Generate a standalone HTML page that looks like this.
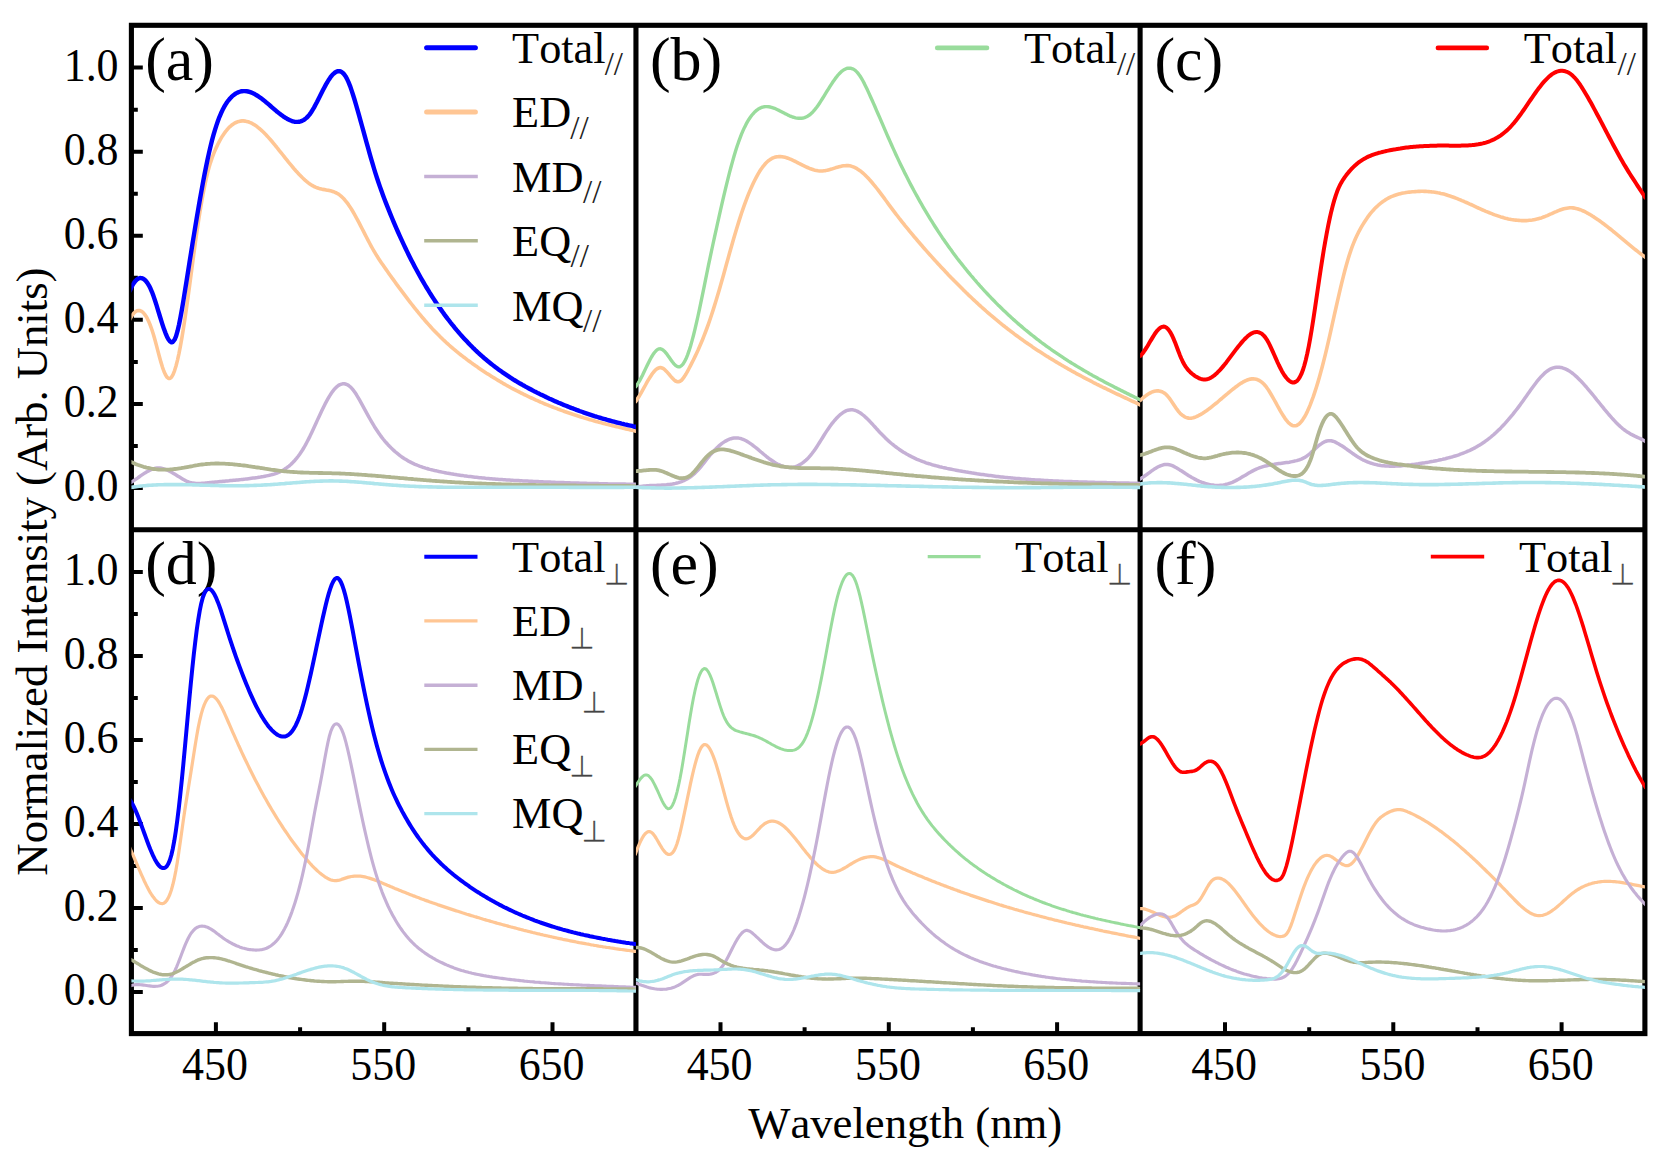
<!DOCTYPE html>
<html><head><meta charset="utf-8"><title>Multipole decomposition spectra</title>
<style>
html,body{margin:0;padding:0;background:#fff}
body{width:1665px;height:1173px;overflow:hidden}
svg{display:block;font-family:"Liberation Serif",serif;fill:#000;font-kerning:none}
.tk{font-size:46.4px}
.pl{font-size:62px}
.lg{font-size:44.3px}
.ax{font-size:44.7px}
.sp{font-size:33px;fill:#222}
.sq{font-size:31.3px;font-family:"Liberation Serif","NanumGothic","DejaVu Sans",serif;fill:#444;stroke:#444;stroke-width:0.5px}
.c{fill:none;stroke-linecap:butt;stroke-linejoin:round}
</style></head><body>
<svg width="1665" height="1173" viewBox="0 0 1665 1173">
<rect width="1665" height="1173" fill="#fff"/>

<clipPath id="cp00"><rect x="131.4" y="25.3" width="504.55000000000007" height="504.40000000000003"/></clipPath>
<clipPath id="cp01"><rect x="635.95" y="25.3" width="504.14999999999986" height="504.40000000000003"/></clipPath>
<clipPath id="cp02"><rect x="1140.1" y="25.3" width="504.8000000000002" height="504.40000000000003"/></clipPath>
<clipPath id="cp10"><rect x="131.4" y="529.7" width="504.55000000000007" height="503.89999999999986"/></clipPath>
<clipPath id="cp11"><rect x="635.95" y="529.7" width="504.14999999999986" height="503.89999999999986"/></clipPath>
<clipPath id="cp12"><rect x="1140.1" y="529.7" width="504.8000000000002" height="503.89999999999986"/></clipPath>
<text class="pl" x="145.2" y="79.6">(a)</text>
<text class="pl" x="649.9" y="79.6">(b)</text>
<text class="pl" x="1154.4" y="79.6">(c)</text>
<text class="pl" x="145.2" y="584.0">(d)</text>
<text class="pl" x="649.9" y="584.0">(e)</text>
<text class="pl" x="1154.4" y="584.0">(f)</text>
<g fill="none" stroke="#000" stroke-width="5.1">
<rect x="131.4" y="25.3" width="1513.5" height="1008.3"/>
<path d="M635.95,25.3V1033.6M1140.1,25.3V1033.6M131.4,529.7H1644.9"/>
</g>
<path d="M131.4,488.0h11.4M131.4,403.9h11.4M131.4,319.8h11.4M131.4,235.8h11.4M131.4,151.7h11.4M131.4,67.6h11.4M131.4,445.9h6.4M131.4,361.9h6.4M131.4,277.8h6.4M131.4,193.7h6.4M131.4,109.7h6.4M131.4,991.9h11.4M131.4,907.9h11.4M131.4,823.9h11.4M131.4,740.0h11.4M131.4,656.0h11.4M131.4,572.0h11.4M131.4,949.9h6.4M131.4,865.9h6.4M131.4,782.0h6.4M131.4,698.0h6.4M131.4,614.0h6.4M215.9,1033.6v-11.4M384.2,1033.6v-11.4M552.5,1033.6v-11.4M300.1,1033.6v-6.4M468.4,1033.6v-6.4M720.5,1033.6v-11.4M888.8,1033.6v-11.4M1057.1,1033.6v-11.4M804.6,1033.6v-6.4M972.9,1033.6v-6.4M1225.0,1033.6v-11.4M1393.3,1033.6v-11.4M1561.6,1033.6v-11.4M1309.2,1033.6v-6.4M1477.5,1033.6v-6.4" fill="none" stroke="#000" stroke-width="4.0"/>
<g clip-path="url(#cp00)">
<path class="c" d="M129.5,320.0 L131.0,317.2 L132.5,314.8 L134.0,313.0 L135.5,311.7 L137.0,310.8 L138.5,310.5 L140.0,310.6 L141.5,311.3 L143.0,312.4 L144.5,314.1 L146.0,316.2 L147.5,318.9 L149.0,322.1 L150.5,325.8 L152.0,330.0 L153.5,334.7 L155.0,340.0 L156.5,345.6 L158.0,351.4 L159.5,357.0 L161.0,362.4 L162.5,367.3 L164.0,371.5 L165.5,374.8 L167.0,377.2 L168.5,378.5 L170.0,378.5 L171.5,377.2 L173.0,374.6 L174.5,370.8 L176.0,366.0 L177.5,360.1 L179.0,353.3 L180.5,345.6 L182.0,337.1 L183.5,328.0 L185.0,318.2 L186.5,308.0 L188.0,297.2 L189.5,286.2 L191.0,274.9 L192.5,263.7 L194.0,252.5 L195.5,241.6 L197.0,231.1 L198.5,221.0 L200.0,211.5 L201.5,202.6 L203.0,194.3 L204.5,186.6 L206.0,179.6 L207.5,173.3 L209.0,167.6 L210.5,162.6 L212.0,158.1 L213.5,154.1 L215.0,150.4 L216.5,147.1 L218.0,144.0 L219.5,141.1 L221.0,138.4 L222.5,135.9 L224.0,133.7 L225.5,131.6 L227.0,129.8 L228.5,128.1 L230.0,126.6 L231.5,125.3 L233.0,124.2 L234.5,123.2 L236.0,122.5 L237.5,121.8 L239.0,121.4 L240.5,121.1 L242.0,120.9 L243.5,120.9 L245.0,121.1 L246.5,121.4 L248.0,121.8 L249.5,122.3 L251.0,122.9 L252.5,123.7 L254.0,124.6 L255.5,125.6 L257.0,126.6 L258.5,127.8 L260.0,129.0 L261.5,130.4 L263.0,131.8 L264.5,133.3 L266.0,134.8 L267.5,136.4 L269.0,138.1 L270.5,139.8 L272.0,141.5 L273.5,143.3 L275.0,145.2 L276.5,147.0 L278.0,148.9 L279.5,150.8 L281.0,152.6 L282.5,154.5 L284.0,156.4 L285.5,158.3 L287.0,160.2 L288.5,162.1 L290.0,163.9 L291.5,165.7 L293.0,167.5 L294.5,169.3 L296.0,171.0 L297.5,172.6 L299.0,174.3 L300.5,175.8 L302.0,177.3 L303.5,178.7 L305.0,180.1 L306.5,181.4 L308.0,182.6 L309.5,183.7 L311.0,184.7 L312.5,185.6 L314.0,186.5 L315.5,187.2 L317.0,187.8 L318.5,188.3 L320.0,188.7 L321.5,189.1 L323.0,189.4 L324.5,189.6 L326.0,189.9 L327.5,190.2 L329.0,190.4 L330.5,190.8 L332.0,191.2 L333.5,191.7 L335.0,192.3 L336.5,193.0 L338.0,193.8 L339.5,194.9 L341.0,196.1 L342.5,197.5 L344.0,199.0 L345.5,200.8 L347.0,202.7 L348.5,204.7 L350.0,206.9 L351.5,209.3 L353.0,211.8 L354.5,214.4 L356.0,217.1 L357.5,219.8 L359.0,222.7 L360.5,225.6 L362.0,228.5 L363.5,231.4 L365.0,234.3 L366.5,237.3 L368.0,240.2 L369.5,243.0 L371.0,245.8 L372.5,248.5 L374.0,251.1 L375.5,253.6 L377.0,256.1 L378.5,258.4 L380.0,260.7 L381.5,262.9 L383.0,265.1 L384.5,267.3 L386.0,269.4 L387.5,271.5 L389.0,273.7 L390.5,275.8 L392.0,277.9 L393.5,279.9 L395.0,282.0 L396.5,284.1 L398.0,286.1 L399.5,288.2 L401.0,290.2 L402.5,292.2 L404.0,294.2 L405.5,296.2 L407.0,298.2 L408.5,300.2 L410.0,302.1 L411.5,304.0 L413.0,305.9 L414.5,307.8 L416.0,309.7 L417.5,311.5 L419.0,313.4 L420.5,315.2 L422.0,317.0 L423.5,318.7 L425.0,320.5 L426.5,322.2 L428.0,323.9 L429.5,325.6 L431.0,327.2 L432.5,328.9 L434.0,330.4 L435.5,332.0 L437.0,333.6 L438.5,335.1 L440.0,336.6 L441.5,338.0 L443.0,339.5 L444.5,340.9 L446.0,342.3 L447.5,343.6 L449.0,345.0 L450.5,346.3 L452.0,347.6 L453.5,348.9 L455.0,350.1 L456.5,351.4 L458.0,352.6 L459.5,353.8 L461.0,355.0 L462.5,356.1 L464.0,357.3 L465.5,358.4 L467.0,359.6 L468.5,360.7 L470.0,361.8 L471.5,362.9 L473.0,364.0 L474.5,365.0 L476.0,366.1 L477.5,367.1 L479.0,368.2 L480.5,369.2 L482.0,370.2 L483.5,371.2 L485.0,372.2 L486.5,373.2 L488.0,374.1 L489.5,375.1 L491.0,376.1 L492.5,377.0 L494.0,377.9 L495.5,378.8 L497.0,379.7 L498.5,380.6 L500.0,381.5 L501.5,382.4 L503.0,383.3 L504.5,384.1 L506.0,385.0 L507.5,385.8 L509.0,386.7 L510.5,387.5 L512.0,388.3 L513.5,389.1 L515.0,389.9 L516.5,390.7 L518.0,391.4 L519.5,392.2 L521.0,393.0 L522.5,393.7 L524.0,394.5 L525.5,395.2 L527.0,395.9 L528.5,396.6 L530.0,397.3 L531.5,398.0 L533.0,398.7 L534.5,399.4 L536.0,400.1 L537.5,400.7 L539.0,401.4 L540.5,402.1 L542.0,402.7 L543.5,403.3 L545.0,404.0 L546.5,404.6 L548.0,405.2 L549.5,405.8 L551.0,406.4 L552.5,407.0 L554.0,407.6 L555.5,408.1 L557.0,408.7 L558.5,409.3 L560.0,409.8 L561.5,410.4 L563.0,410.9 L564.5,411.5 L566.0,412.0 L567.5,412.5 L569.0,413.0 L570.5,413.5 L572.0,414.0 L573.5,414.5 L575.0,415.0 L576.5,415.5 L578.0,416.0 L579.5,416.5 L581.0,417.0 L582.5,417.4 L584.0,417.9 L585.5,418.3 L587.0,418.8 L588.5,419.2 L590.0,419.7 L591.5,420.1 L593.0,420.5 L594.5,421.0 L596.0,421.4 L597.5,421.8 L599.0,422.2 L600.5,422.6 L602.0,423.0 L603.5,423.4 L605.0,423.8 L606.5,424.2 L608.0,424.6 L609.5,424.9 L611.0,425.3 L612.5,425.7 L614.0,426.1 L615.5,426.4 L617.0,426.8 L618.5,427.1 L620.0,427.5 L621.5,427.8 L623.0,428.2 L624.5,428.5 L626.0,428.9 L627.5,429.2 L629.0,429.5 L630.5,429.9 L632.0,430.2 L633.5,430.5 L635.0,430.9 L636.5,431.2 L637.3,431.3" stroke="#ffc694" stroke-width="3.6"/>
<path class="c" d="M130.0,483.0 L131.5,482.1 L133.0,481.1 L134.5,480.1 L136.0,479.1 L137.5,478.1 L139.0,477.0 L140.5,475.9 L142.0,474.9 L143.5,473.9 L145.0,472.9 L146.5,472.0 L148.0,471.2 L149.5,470.4 L151.0,469.7 L152.5,469.1 L154.0,468.7 L155.5,468.3 L157.0,468.1 L158.5,468.0 L160.0,468.1 L161.5,468.3 L163.0,468.6 L164.5,469.1 L166.0,469.6 L167.5,470.2 L169.0,470.9 L170.5,471.7 L172.0,472.5 L173.5,473.4 L175.0,474.3 L176.5,475.2 L178.0,476.2 L179.5,477.1 L181.0,478.0 L182.5,478.9 L184.0,479.8 L185.5,480.6 L187.0,481.3 L188.5,481.9 L190.0,482.4 L191.5,482.8 L193.0,483.1 L194.5,483.3 L196.0,483.5 L197.5,483.5 L199.0,483.5 L200.5,483.4 L202.0,483.3 L203.5,483.2 L205.0,483.1 L206.5,482.9 L208.0,482.7 L209.5,482.6 L211.0,482.4 L212.5,482.3 L214.0,482.2 L215.5,482.0 L217.0,481.9 L218.5,481.7 L220.0,481.6 L221.5,481.5 L223.0,481.3 L224.5,481.2 L226.0,481.0 L227.5,480.9 L229.0,480.8 L230.5,480.6 L232.0,480.5 L233.5,480.3 L235.0,480.2 L236.5,480.0 L238.0,479.9 L239.5,479.7 L241.0,479.6 L242.5,479.4 L244.0,479.2 L245.5,479.1 L247.0,478.9 L248.5,478.7 L250.0,478.5 L251.5,478.3 L253.0,478.1 L254.5,477.9 L256.0,477.7 L257.5,477.5 L259.0,477.2 L260.5,477.0 L262.0,476.7 L263.5,476.5 L265.0,476.2 L266.5,475.9 L268.0,475.6 L269.5,475.3 L271.0,474.9 L272.5,474.5 L274.0,474.1 L275.5,473.6 L277.0,473.1 L278.5,472.5 L280.0,471.8 L281.5,471.0 L283.0,470.2 L284.5,469.3 L286.0,468.3 L287.5,467.2 L289.0,466.1 L290.5,464.8 L292.0,463.4 L293.5,461.8 L295.0,460.2 L296.5,458.4 L298.0,456.5 L299.5,454.5 L301.0,452.3 L302.5,450.0 L304.0,447.5 L305.5,444.8 L307.0,442.0 L308.5,439.1 L310.0,436.1 L311.5,432.9 L313.0,429.7 L314.5,426.5 L316.0,423.2 L317.5,419.9 L319.0,416.7 L320.5,413.5 L322.0,410.3 L323.5,407.2 L325.0,404.2 L326.5,401.4 L328.0,398.7 L329.5,396.1 L331.0,393.8 L332.5,391.6 L334.0,389.7 L335.5,388.0 L337.0,386.6 L338.5,385.4 L340.0,384.6 L341.5,384.1 L343.0,383.8 L344.5,383.8 L346.0,384.2 L347.5,384.8 L349.0,385.8 L350.5,387.0 L352.0,388.6 L353.5,390.4 L355.0,392.5 L356.5,394.8 L358.0,397.3 L359.5,399.9 L361.0,402.6 L362.5,405.3 L364.0,408.1 L365.5,410.9 L367.0,413.6 L368.5,416.3 L370.0,419.0 L371.5,421.7 L373.0,424.2 L374.5,426.7 L376.0,429.0 L377.5,431.3 L379.0,433.5 L380.5,435.6 L382.0,437.6 L383.5,439.5 L385.0,441.3 L386.5,443.0 L388.0,444.7 L389.5,446.3 L391.0,447.8 L392.5,449.2 L394.0,450.6 L395.5,452.0 L397.0,453.2 L398.5,454.4 L400.0,455.6 L401.5,456.7 L403.0,457.7 L404.5,458.7 L406.0,459.6 L407.5,460.5 L409.0,461.4 L410.5,462.1 L412.0,462.9 L413.5,463.6 L415.0,464.3 L416.5,464.9 L418.0,465.5 L419.5,466.1 L421.0,466.6 L422.5,467.2 L424.0,467.6 L425.5,468.1 L427.0,468.5 L428.5,469.0 L430.0,469.4 L431.5,469.7 L433.0,470.1 L434.5,470.5 L436.0,470.8 L437.5,471.1 L439.0,471.5 L440.5,471.8 L442.0,472.1 L443.5,472.4 L445.0,472.7 L446.5,473.0 L448.0,473.2 L449.5,473.5 L451.0,473.8 L452.5,474.0 L454.0,474.3 L455.5,474.5 L457.0,474.8 L458.5,475.0 L460.0,475.2 L461.5,475.4 L463.0,475.6 L464.5,475.9 L466.0,476.1 L467.5,476.3 L469.0,476.4 L470.5,476.6 L472.0,476.8 L473.5,477.0 L475.0,477.2 L476.5,477.3 L478.0,477.5 L479.5,477.7 L481.0,477.8 L482.5,478.0 L484.0,478.1 L485.5,478.3 L487.0,478.4 L488.5,478.5 L490.0,478.7 L491.5,478.8 L493.0,478.9 L494.5,479.0 L496.0,479.2 L497.5,479.3 L499.0,479.4 L500.5,479.5 L502.0,479.6 L503.5,479.7 L505.0,479.8 L506.5,479.9 L508.0,480.0 L509.5,480.1 L511.0,480.2 L512.5,480.3 L514.0,480.4 L515.5,480.5 L517.0,480.6 L518.5,480.6 L520.0,480.7 L521.5,480.8 L523.0,480.9 L524.5,481.0 L526.0,481.0 L527.5,481.1 L529.0,481.2 L530.5,481.3 L532.0,481.3 L533.5,481.4 L535.0,481.5 L536.5,481.5 L538.0,481.6 L539.5,481.7 L541.0,481.7 L542.5,481.8 L544.0,481.9 L545.5,481.9 L547.0,482.0 L548.5,482.1 L550.0,482.1 L551.5,482.2 L553.0,482.2 L554.5,482.3 L556.0,482.4 L557.5,482.4 L559.0,482.5 L560.5,482.5 L562.0,482.6 L563.5,482.6 L565.0,482.7 L566.5,482.7 L568.0,482.8 L569.5,482.8 L571.0,482.9 L572.5,482.9 L574.0,483.0 L575.5,483.0 L577.0,483.1 L578.5,483.1 L580.0,483.2 L581.5,483.2 L583.0,483.3 L584.5,483.3 L586.0,483.3 L587.5,483.4 L589.0,483.4 L590.5,483.5 L592.0,483.5 L593.5,483.5 L595.0,483.6 L596.5,483.6 L598.0,483.6 L599.5,483.7 L601.0,483.7 L602.5,483.7 L604.0,483.8 L605.5,483.8 L607.0,483.8 L608.5,483.9 L610.0,483.9 L611.5,483.9 L613.0,483.9 L614.5,484.0 L616.0,484.0 L617.5,484.0 L619.0,484.1 L620.5,484.1 L622.0,484.1 L623.5,484.1 L625.0,484.1 L626.5,484.2 L628.0,484.2 L629.5,484.2 L631.0,484.2 L632.5,484.2 L634.0,484.3 L635.5,484.3 L637.0,484.3 L637.3,484.3" stroke="#c5b0d5" stroke-width="3.5"/>
<path class="c" d="M130.0,461.4 L131.5,462.1 L133.0,462.8 L134.5,463.5 L136.0,464.2 L137.5,464.8 L139.0,465.3 L140.5,465.8 L142.0,466.3 L143.5,466.8 L145.0,467.2 L146.5,467.6 L148.0,467.9 L149.5,468.2 L151.0,468.5 L152.5,468.8 L154.0,469.0 L155.5,469.2 L157.0,469.3 L158.5,469.5 L160.0,469.6 L161.5,469.6 L163.0,469.7 L164.5,469.7 L166.0,469.7 L167.5,469.6 L169.0,469.6 L170.5,469.5 L172.0,469.4 L173.5,469.2 L175.0,469.0 L176.5,468.8 L178.0,468.6 L179.5,468.4 L181.0,468.2 L182.5,467.9 L184.0,467.7 L185.5,467.4 L187.0,467.1 L188.5,466.8 L190.0,466.5 L191.5,466.3 L193.0,466.0 L194.5,465.7 L196.0,465.4 L197.5,465.2 L199.0,464.9 L200.5,464.7 L202.0,464.5 L203.5,464.3 L205.0,464.2 L206.5,464.0 L208.0,463.9 L209.5,463.8 L211.0,463.7 L212.5,463.6 L214.0,463.6 L215.5,463.5 L217.0,463.5 L218.5,463.5 L220.0,463.6 L221.5,463.6 L223.0,463.6 L224.5,463.7 L226.0,463.8 L227.5,463.9 L229.0,464.0 L230.5,464.1 L232.0,464.2 L233.5,464.3 L235.0,464.5 L236.5,464.6 L238.0,464.8 L239.5,465.0 L241.0,465.2 L242.5,465.3 L244.0,465.5 L245.5,465.7 L247.0,465.9 L248.5,466.2 L250.0,466.4 L251.5,466.6 L253.0,466.8 L254.5,467.0 L256.0,467.3 L257.5,467.5 L259.0,467.7 L260.5,468.0 L262.0,468.2 L263.5,468.4 L265.0,468.7 L266.5,468.9 L268.0,469.1 L269.5,469.3 L271.0,469.6 L272.5,469.8 L274.0,470.0 L275.5,470.2 L277.0,470.4 L278.5,470.6 L280.0,470.8 L281.5,470.9 L283.0,471.1 L284.5,471.3 L286.0,471.4 L287.5,471.6 L289.0,471.7 L290.5,471.8 L292.0,471.9 L293.5,472.0 L295.0,472.1 L296.5,472.2 L298.0,472.3 L299.5,472.4 L301.0,472.5 L302.5,472.5 L304.0,472.6 L305.5,472.6 L307.0,472.7 L308.5,472.7 L310.0,472.8 L311.5,472.8 L313.0,472.9 L314.5,472.9 L316.0,472.9 L317.5,472.9 L319.0,473.0 L320.5,473.0 L322.0,473.0 L323.5,473.1 L325.0,473.1 L326.5,473.1 L328.0,473.1 L329.5,473.2 L331.0,473.2 L332.5,473.3 L334.0,473.3 L335.5,473.3 L337.0,473.4 L338.5,473.4 L340.0,473.5 L341.5,473.6 L343.0,473.6 L344.5,473.7 L346.0,473.8 L347.5,473.9 L349.0,473.9 L350.5,474.0 L352.0,474.1 L353.5,474.2 L355.0,474.3 L356.5,474.4 L358.0,474.5 L359.5,474.6 L361.0,474.7 L362.5,474.8 L364.0,474.9 L365.5,475.0 L367.0,475.1 L368.5,475.3 L370.0,475.4 L371.5,475.5 L373.0,475.6 L374.5,475.7 L376.0,475.9 L377.5,476.0 L379.0,476.1 L380.5,476.2 L382.0,476.4 L383.5,476.5 L385.0,476.6 L386.5,476.8 L388.0,476.9 L389.5,477.0 L391.0,477.2 L392.5,477.3 L394.0,477.4 L395.5,477.6 L397.0,477.7 L398.5,477.8 L400.0,478.0 L401.5,478.1 L403.0,478.2 L404.5,478.4 L406.0,478.5 L407.5,478.7 L409.0,478.8 L410.5,478.9 L412.0,479.0 L413.5,479.2 L415.0,479.3 L416.5,479.4 L418.0,479.6 L419.5,479.7 L421.0,479.8 L422.5,479.9 L424.0,480.1 L425.5,480.2 L427.0,480.3 L428.5,480.4 L430.0,480.5 L431.5,480.7 L433.0,480.8 L434.5,480.9 L436.0,481.0 L437.5,481.1 L439.0,481.2 L440.5,481.3 L442.0,481.4 L443.5,481.5 L445.0,481.6 L446.5,481.7 L448.0,481.8 L449.5,481.9 L451.0,482.0 L452.5,482.1 L454.0,482.2 L455.5,482.3 L457.0,482.4 L458.5,482.4 L460.0,482.5 L461.5,482.6 L463.0,482.7 L464.5,482.8 L466.0,482.8 L467.5,482.9 L469.0,483.0 L470.5,483.1 L472.0,483.1 L473.5,483.2 L475.0,483.3 L476.5,483.3 L478.0,483.4 L479.5,483.5 L481.0,483.5 L482.5,483.6 L484.0,483.6 L485.5,483.7 L487.0,483.8 L488.5,483.8 L490.0,483.9 L491.5,483.9 L493.0,484.0 L494.5,484.0 L496.0,484.1 L497.5,484.1 L499.0,484.2 L500.5,484.2 L502.0,484.3 L503.5,484.3 L505.0,484.3 L506.5,484.4 L508.0,484.4 L509.5,484.5 L511.0,484.5 L512.5,484.6 L514.0,484.6 L515.5,484.6 L517.0,484.7 L518.5,484.7 L520.0,484.7 L521.5,484.8 L523.0,484.8 L524.5,484.8 L526.0,484.9 L527.5,484.9 L529.0,484.9 L530.5,484.9 L532.0,485.0 L533.5,485.0 L535.0,485.0 L536.5,485.1 L538.0,485.1 L539.5,485.1 L541.0,485.1 L542.5,485.1 L544.0,485.2 L545.5,485.2 L547.0,485.2 L548.5,485.2 L550.0,485.3 L551.5,485.3 L553.0,485.3 L554.5,485.3 L556.0,485.3 L557.5,485.4 L559.0,485.4 L560.5,485.4 L562.0,485.4 L563.5,485.4 L565.0,485.4 L566.5,485.5 L568.0,485.5 L569.5,485.5 L571.0,485.5 L572.5,485.5 L574.0,485.5 L575.5,485.5 L577.0,485.6 L578.5,485.6 L580.0,485.6 L581.5,485.6 L583.0,485.6 L584.5,485.6 L586.0,485.6 L587.5,485.6 L589.0,485.7 L590.5,485.7 L592.0,485.7 L593.5,485.7 L595.0,485.7 L596.5,485.7 L598.0,485.7 L599.5,485.7 L601.0,485.8 L602.5,485.8 L604.0,485.8 L605.5,485.8 L607.0,485.8 L608.5,485.8 L610.0,485.8 L611.5,485.9 L613.0,485.9 L614.5,485.9 L616.0,485.9 L617.5,485.9 L619.0,485.9 L620.5,485.9 L622.0,486.0 L623.5,486.0 L625.0,486.0 L626.5,486.0 L628.0,486.0 L629.5,486.0 L631.0,486.1 L632.5,486.1 L634.0,486.1 L635.5,486.1 L637.0,486.1 L637.3,486.1" stroke="#b0b590" stroke-width="3.8"/>
<path class="c" d="M130.0,487.5 L131.5,487.3 L133.0,487.1 L134.5,486.9 L136.0,486.7 L137.5,486.5 L139.0,486.3 L140.5,486.1 L142.0,486.0 L143.5,485.8 L145.0,485.7 L146.5,485.5 L148.0,485.4 L149.5,485.3 L151.0,485.2 L152.5,485.1 L154.0,485.0 L155.5,485.0 L157.0,484.9 L158.5,484.8 L160.0,484.8 L161.5,484.7 L163.0,484.7 L164.5,484.6 L166.0,484.6 L167.5,484.6 L169.0,484.6 L170.5,484.6 L172.0,484.6 L173.5,484.6 L175.0,484.6 L176.5,484.6 L178.0,484.6 L179.5,484.6 L181.0,484.6 L182.5,484.6 L184.0,484.7 L185.5,484.7 L187.0,484.7 L188.5,484.8 L190.0,484.8 L191.5,484.8 L193.0,484.9 L194.5,484.9 L196.0,485.0 L197.5,485.0 L199.0,485.0 L200.5,485.1 L202.0,485.1 L203.5,485.2 L205.0,485.2 L206.5,485.3 L208.0,485.3 L209.5,485.3 L211.0,485.4 L212.5,485.4 L214.0,485.5 L215.5,485.5 L217.0,485.5 L218.5,485.5 L220.0,485.6 L221.5,485.6 L223.0,485.6 L224.5,485.6 L226.0,485.7 L227.5,485.7 L229.0,485.7 L230.5,485.7 L232.0,485.7 L233.5,485.7 L235.0,485.7 L236.5,485.7 L238.0,485.7 L239.5,485.7 L241.0,485.7 L242.5,485.7 L244.0,485.7 L245.5,485.6 L247.0,485.6 L248.5,485.6 L250.0,485.5 L251.5,485.5 L253.0,485.5 L254.5,485.4 L256.0,485.4 L257.5,485.3 L259.0,485.2 L260.5,485.2 L262.0,485.1 L263.5,485.0 L265.0,484.9 L266.5,484.9 L268.0,484.8 L269.5,484.7 L271.0,484.6 L272.5,484.5 L274.0,484.4 L275.5,484.3 L277.0,484.2 L278.5,484.0 L280.0,483.9 L281.5,483.8 L283.0,483.7 L284.5,483.6 L286.0,483.4 L287.5,483.3 L289.0,483.2 L290.5,483.1 L292.0,483.0 L293.5,482.8 L295.0,482.7 L296.5,482.6 L298.0,482.5 L299.5,482.4 L301.0,482.2 L302.5,482.1 L304.0,482.0 L305.5,481.9 L307.0,481.8 L308.5,481.7 L310.0,481.6 L311.5,481.5 L313.0,481.5 L314.5,481.4 L316.0,481.3 L317.5,481.2 L319.0,481.2 L320.5,481.1 L322.0,481.1 L323.5,481.0 L325.0,481.0 L326.5,481.0 L328.0,481.0 L329.5,480.9 L331.0,480.9 L332.5,480.9 L334.0,481.0 L335.5,481.0 L337.0,481.0 L338.5,481.0 L340.0,481.1 L341.5,481.1 L343.0,481.2 L344.5,481.2 L346.0,481.3 L347.5,481.4 L349.0,481.5 L350.5,481.6 L352.0,481.7 L353.5,481.8 L355.0,481.9 L356.5,482.0 L358.0,482.1 L359.5,482.2 L361.0,482.3 L362.5,482.5 L364.0,482.6 L365.5,482.7 L367.0,482.9 L368.5,483.0 L370.0,483.1 L371.5,483.3 L373.0,483.4 L374.5,483.6 L376.0,483.7 L377.5,483.8 L379.0,484.0 L380.5,484.1 L382.0,484.3 L383.5,484.4 L385.0,484.5 L386.5,484.6 L388.0,484.8 L389.5,484.9 L391.0,485.0 L392.5,485.1 L394.0,485.2 L395.5,485.3 L397.0,485.4 L398.5,485.5 L400.0,485.6 L401.5,485.7 L403.0,485.8 L404.5,485.9 L406.0,486.0 L407.5,486.0 L409.0,486.1 L410.5,486.2 L412.0,486.3 L413.5,486.3 L415.0,486.4 L416.5,486.5 L418.0,486.5 L419.5,486.6 L421.0,486.6 L422.5,486.7 L424.0,486.7 L425.5,486.8 L427.0,486.8 L428.5,486.9 L430.0,486.9 L431.5,486.9 L433.0,487.0 L434.5,487.0 L436.0,487.0 L437.5,487.1 L439.0,487.1 L440.5,487.1 L442.0,487.1 L443.5,487.2 L445.0,487.2 L446.5,487.2 L448.0,487.2 L449.5,487.2 L451.0,487.2 L452.5,487.2 L454.0,487.3 L455.5,487.3 L457.0,487.3 L458.5,487.3 L460.0,487.3 L461.5,487.3 L463.0,487.3 L464.5,487.3 L466.0,487.3 L467.5,487.3 L469.0,487.3 L470.5,487.3 L472.0,487.3 L473.5,487.3 L475.0,487.3 L476.5,487.3 L478.0,487.3 L479.5,487.3 L481.0,487.3 L482.5,487.3 L484.0,487.3 L485.5,487.3 L487.0,487.2 L488.5,487.2 L490.0,487.2 L491.5,487.2 L493.0,487.2 L494.5,487.2 L496.0,487.2 L497.5,487.2 L499.0,487.2 L500.5,487.2 L502.0,487.2 L503.5,487.2 L505.0,487.2 L506.5,487.2 L508.0,487.2 L509.5,487.2 L511.0,487.2 L512.5,487.2 L514.0,487.2 L515.5,487.2 L517.0,487.2 L518.5,487.2 L520.0,487.2 L521.5,487.2 L523.0,487.2 L524.5,487.2 L526.0,487.2 L527.5,487.2 L529.0,487.2 L530.5,487.2 L532.0,487.2 L533.5,487.2 L535.0,487.2 L536.5,487.2 L538.0,487.2 L539.5,487.2 L541.0,487.2 L542.5,487.2 L544.0,487.2 L545.5,487.2 L547.0,487.2 L548.5,487.3 L550.0,487.3 L551.5,487.3 L553.0,487.3 L554.5,487.3 L556.0,487.3 L557.5,487.3 L559.0,487.3 L560.5,487.3 L562.0,487.3 L563.5,487.3 L565.0,487.3 L566.5,487.3 L568.0,487.3 L569.5,487.4 L571.0,487.4 L572.5,487.4 L574.0,487.4 L575.5,487.4 L577.0,487.4 L578.5,487.4 L580.0,487.4 L581.5,487.4 L583.0,487.4 L584.5,487.4 L586.0,487.4 L587.5,487.4 L589.0,487.4 L590.5,487.4 L592.0,487.4 L593.5,487.4 L595.0,487.4 L596.5,487.4 L598.0,487.4 L599.5,487.4 L601.0,487.4 L602.5,487.4 L604.0,487.4 L605.5,487.4 L607.0,487.4 L608.5,487.4 L610.0,487.4 L611.5,487.4 L613.0,487.4 L614.5,487.4 L616.0,487.4 L617.5,487.4 L619.0,487.4 L620.5,487.4 L622.0,487.4 L623.5,487.4 L625.0,487.3 L626.5,487.3 L628.0,487.3 L629.5,487.3 L631.0,487.3 L632.5,487.3 L634.0,487.3 L635.5,487.2 L637.0,487.2 L637.3,487.2" stroke="#aee5ec" stroke-width="3.6"/>
<path class="c" d="M129.5,291.5 L131.0,288.1 L132.5,285.2 L134.0,282.8 L135.5,280.9 L137.0,279.4 L138.5,278.5 L140.0,278.0 L141.5,278.1 L143.0,278.6 L144.5,279.6 L146.0,281.1 L147.5,283.1 L149.0,285.6 L150.5,288.6 L152.0,292.1 L153.5,296.1 L155.0,300.5 L156.5,305.2 L158.0,310.1 L159.5,315.0 L161.0,319.9 L162.5,324.6 L164.0,329.1 L165.5,333.1 L167.0,336.7 L168.5,339.5 L170.0,341.4 L171.5,342.3 L173.0,341.8 L174.5,339.8 L176.0,336.3 L177.5,331.2 L179.0,324.8 L180.5,317.3 L182.0,309.0 L183.5,300.0 L185.0,290.7 L186.5,281.3 L188.0,271.8 L189.5,262.4 L191.0,253.1 L192.5,243.7 L194.0,234.5 L195.5,225.4 L197.0,216.4 L198.5,207.6 L200.0,199.0 L201.5,190.6 L203.0,182.4 L204.5,174.5 L206.0,167.0 L207.5,159.7 L209.0,152.9 L210.5,146.4 L212.0,140.4 L213.5,134.9 L215.0,129.8 L216.5,125.1 L218.0,120.8 L219.5,116.8 L221.0,113.3 L222.5,110.1 L224.0,107.2 L225.5,104.6 L227.0,102.3 L228.5,100.3 L230.0,98.5 L231.5,96.9 L233.0,95.5 L234.5,94.4 L236.0,93.4 L237.5,92.6 L239.0,92.0 L240.5,91.5 L242.0,91.2 L243.5,91.1 L245.0,91.1 L246.5,91.2 L248.0,91.5 L249.5,91.9 L251.0,92.4 L252.5,93.0 L254.0,93.7 L255.5,94.6 L257.0,95.5 L258.5,96.4 L260.0,97.5 L261.5,98.6 L263.0,99.7 L264.5,100.9 L266.0,102.2 L267.5,103.4 L269.0,104.7 L270.5,106.0 L272.0,107.3 L273.5,108.6 L275.0,109.9 L276.5,111.2 L278.0,112.4 L279.5,113.6 L281.0,114.7 L282.5,115.8 L284.0,116.9 L285.5,117.8 L287.0,118.7 L288.5,119.5 L290.0,120.2 L291.5,120.8 L293.0,121.3 L294.5,121.7 L296.0,121.9 L297.5,121.9 L299.0,121.8 L300.5,121.4 L302.0,120.9 L303.5,120.1 L305.0,119.1 L306.5,117.9 L308.0,116.4 L309.5,114.6 L311.0,112.5 L312.5,110.1 L314.0,107.6 L315.5,104.8 L317.0,102.0 L318.5,99.0 L320.0,96.1 L321.5,93.1 L323.0,90.1 L324.5,87.2 L326.0,84.4 L327.5,81.8 L329.0,79.4 L330.5,77.2 L332.0,75.3 L333.5,73.8 L335.0,72.5 L336.5,71.7 L338.0,71.2 L339.5,71.2 L341.0,71.7 L342.5,72.6 L344.0,74.1 L345.5,76.2 L347.0,78.8 L348.5,82.1 L350.0,85.8 L351.5,90.1 L353.0,94.7 L354.5,99.5 L356.0,104.6 L357.5,109.8 L359.0,115.2 L360.5,120.6 L362.0,126.0 L363.5,131.4 L365.0,136.9 L366.5,142.3 L368.0,147.7 L369.5,153.1 L371.0,158.3 L372.5,163.4 L374.0,168.5 L375.5,173.3 L377.0,178.0 L378.5,182.5 L380.0,186.9 L381.5,191.1 L383.0,195.2 L384.5,199.2 L386.0,203.1 L387.5,206.9 L389.0,210.6 L390.5,214.3 L392.0,218.0 L393.5,221.6 L395.0,225.1 L396.5,228.6 L398.0,232.0 L399.5,235.4 L401.0,238.7 L402.5,241.9 L404.0,245.1 L405.5,248.3 L407.0,251.4 L408.5,254.5 L410.0,257.5 L411.5,260.4 L413.0,263.3 L414.5,266.2 L416.0,269.0 L417.5,271.8 L419.0,274.5 L420.5,277.2 L422.0,279.8 L423.5,282.4 L425.0,285.0 L426.5,287.5 L428.0,289.9 L429.5,292.4 L431.0,294.7 L432.5,297.1 L434.0,299.4 L435.5,301.7 L437.0,303.9 L438.5,306.1 L440.0,308.3 L441.5,310.4 L443.0,312.5 L444.5,314.6 L446.0,316.6 L447.5,318.6 L449.0,320.5 L450.5,322.5 L452.0,324.4 L453.5,326.2 L455.0,328.1 L456.5,329.9 L458.0,331.6 L459.5,333.4 L461.0,335.1 L462.5,336.8 L464.0,338.4 L465.5,340.0 L467.0,341.6 L468.5,343.2 L470.0,344.8 L471.5,346.3 L473.0,347.8 L474.5,349.2 L476.0,350.7 L477.5,352.1 L479.0,353.5 L480.5,354.8 L482.0,356.2 L483.5,357.5 L485.0,358.8 L486.5,360.0 L488.0,361.3 L489.5,362.5 L491.0,363.7 L492.5,364.9 L494.0,366.1 L495.5,367.2 L497.0,368.3 L498.5,369.4 L500.0,370.5 L501.5,371.6 L503.0,372.7 L504.5,373.7 L506.0,374.7 L507.5,375.7 L509.0,376.7 L510.5,377.7 L512.0,378.6 L513.5,379.6 L515.0,380.5 L516.5,381.4 L518.0,382.3 L519.5,383.2 L521.0,384.0 L522.5,384.9 L524.0,385.7 L525.5,386.6 L527.0,387.4 L528.5,388.2 L530.0,389.0 L531.5,389.8 L533.0,390.6 L534.5,391.4 L536.0,392.1 L537.5,392.9 L539.0,393.6 L540.5,394.4 L542.0,395.1 L543.5,395.8 L545.0,396.5 L546.5,397.3 L548.0,398.0 L549.5,398.7 L551.0,399.3 L552.5,400.0 L554.0,400.7 L555.5,401.4 L557.0,402.0 L558.5,402.7 L560.0,403.3 L561.5,403.9 L563.0,404.6 L564.5,405.2 L566.0,405.8 L567.5,406.4 L569.0,407.0 L570.5,407.6 L572.0,408.2 L573.5,408.7 L575.0,409.3 L576.5,409.9 L578.0,410.4 L579.5,411.0 L581.0,411.5 L582.5,412.0 L584.0,412.6 L585.5,413.1 L587.0,413.6 L588.5,414.1 L590.0,414.6 L591.5,415.1 L593.0,415.6 L594.5,416.1 L596.0,416.5 L597.5,417.0 L599.0,417.5 L600.5,417.9 L602.0,418.4 L603.5,418.8 L605.0,419.2 L606.5,419.7 L608.0,420.1 L609.5,420.5 L611.0,420.9 L612.5,421.3 L614.0,421.7 L615.5,422.1 L617.0,422.5 L618.5,422.8 L620.0,423.2 L621.5,423.6 L623.0,423.9 L624.5,424.3 L626.0,424.6 L627.5,425.0 L629.0,425.3 L630.5,425.6 L632.0,425.9 L633.5,426.3 L635.0,426.6 L636.5,426.9 L637.3,427.0" stroke="#0000ff" stroke-width="4.4"/>
</g>
<g clip-path="url(#cp01)">
<path class="c" d="M635.0,402.4 L636.5,400.4 L638.0,398.1 L639.5,395.7 L641.0,393.1 L642.5,390.4 L644.0,387.7 L645.5,385.0 L647.0,382.2 L648.5,379.6 L650.0,377.2 L651.5,374.9 L653.0,372.8 L654.5,371.0 L656.0,369.5 L657.5,368.5 L659.0,367.8 L660.5,367.6 L662.0,368.0 L663.5,368.7 L665.0,369.9 L666.5,371.4 L668.0,373.1 L669.5,374.8 L671.0,376.6 L672.5,378.3 L674.0,379.8 L675.5,381.0 L677.0,381.7 L678.5,381.8 L680.0,381.3 L681.5,380.2 L683.0,378.5 L684.5,376.4 L686.0,374.0 L687.5,371.3 L689.0,368.5 L690.5,365.6 L692.0,362.7 L693.5,359.7 L695.0,356.6 L696.5,353.4 L698.0,350.2 L699.5,346.8 L701.0,343.3 L702.5,339.7 L704.0,335.9 L705.5,332.0 L707.0,328.0 L708.5,323.8 L710.0,319.5 L711.5,315.0 L713.0,310.4 L714.5,305.6 L716.0,300.7 L717.5,295.8 L719.0,290.7 L720.5,285.5 L722.0,280.2 L723.5,274.9 L725.0,269.5 L726.5,264.1 L728.0,258.7 L729.5,253.3 L731.0,248.0 L732.5,242.7 L734.0,237.5 L735.5,232.4 L737.0,227.4 L738.5,222.6 L740.0,217.9 L741.5,213.3 L743.0,208.9 L744.5,204.7 L746.0,200.6 L747.5,196.7 L749.0,192.9 L750.5,189.4 L752.0,186.0 L753.5,182.7 L755.0,179.7 L756.5,176.8 L758.0,174.1 L759.5,171.6 L761.0,169.3 L762.5,167.2 L764.0,165.3 L765.5,163.5 L767.0,162.0 L768.5,160.7 L770.0,159.6 L771.5,158.7 L773.0,157.9 L774.5,157.3 L776.0,156.9 L777.5,156.7 L779.0,156.6 L780.5,156.6 L782.0,156.7 L783.5,157.0 L785.0,157.3 L786.5,157.7 L788.0,158.2 L789.5,158.8 L791.0,159.4 L792.5,160.1 L794.0,160.8 L795.5,161.5 L797.0,162.3 L798.5,163.1 L800.0,163.8 L801.5,164.6 L803.0,165.4 L804.5,166.1 L806.0,166.8 L807.5,167.5 L809.0,168.2 L810.5,168.8 L812.0,169.3 L813.5,169.8 L815.0,170.2 L816.5,170.5 L818.0,170.8 L819.5,171.0 L821.0,171.0 L822.5,171.0 L824.0,170.8 L825.5,170.6 L827.0,170.3 L828.5,169.9 L830.0,169.5 L831.5,169.1 L833.0,168.6 L834.5,168.1 L836.0,167.6 L837.5,167.2 L839.0,166.8 L840.5,166.4 L842.0,166.1 L843.5,165.8 L845.0,165.7 L846.5,165.6 L848.0,165.6 L849.5,165.8 L851.0,166.1 L852.5,166.6 L854.0,167.2 L855.5,167.9 L857.0,168.7 L858.5,169.7 L860.0,170.7 L861.5,171.9 L863.0,173.2 L864.5,174.5 L866.0,176.0 L867.5,177.5 L869.0,179.1 L870.5,180.8 L872.0,182.5 L873.5,184.3 L875.0,186.1 L876.5,188.0 L878.0,189.9 L879.5,191.9 L881.0,193.9 L882.5,195.9 L884.0,197.9 L885.5,200.0 L887.0,202.0 L888.5,204.1 L890.0,206.1 L891.5,208.1 L893.0,210.1 L894.5,212.1 L896.0,214.1 L897.5,216.0 L899.0,218.0 L900.5,219.9 L902.0,221.8 L903.5,223.7 L905.0,225.6 L906.5,227.4 L908.0,229.2 L909.5,231.1 L911.0,232.9 L912.5,234.7 L914.0,236.5 L915.5,238.2 L917.0,240.0 L918.5,241.8 L920.0,243.5 L921.5,245.2 L923.0,247.0 L924.5,248.7 L926.0,250.4 L927.5,252.1 L929.0,253.8 L930.5,255.4 L932.0,257.1 L933.5,258.8 L935.0,260.4 L936.5,262.1 L938.0,263.7 L939.5,265.3 L941.0,266.9 L942.5,268.5 L944.0,270.1 L945.5,271.7 L947.0,273.3 L948.5,274.9 L950.0,276.4 L951.5,278.0 L953.0,279.5 L954.5,281.1 L956.0,282.6 L957.5,284.1 L959.0,285.6 L960.5,287.1 L962.0,288.6 L963.5,290.1 L965.0,291.5 L966.5,293.0 L968.0,294.4 L969.5,295.9 L971.0,297.3 L972.5,298.7 L974.0,300.1 L975.5,301.5 L977.0,302.9 L978.5,304.3 L980.0,305.6 L981.5,307.0 L983.0,308.3 L984.5,309.6 L986.0,311.0 L987.5,312.3 L989.0,313.6 L990.5,314.9 L992.0,316.1 L993.5,317.4 L995.0,318.7 L996.5,319.9 L998.0,321.1 L999.5,322.4 L1001.0,323.6 L1002.5,324.8 L1004.0,326.0 L1005.5,327.2 L1007.0,328.3 L1008.5,329.5 L1010.0,330.6 L1011.5,331.8 L1013.0,332.9 L1014.5,334.1 L1016.0,335.2 L1017.5,336.3 L1019.0,337.4 L1020.5,338.5 L1022.0,339.5 L1023.5,340.6 L1025.0,341.7 L1026.5,342.7 L1028.0,343.8 L1029.5,344.8 L1031.0,345.8 L1032.5,346.9 L1034.0,347.9 L1035.5,348.9 L1037.0,349.9 L1038.5,350.9 L1040.0,351.8 L1041.5,352.8 L1043.0,353.8 L1044.5,354.7 L1046.0,355.7 L1047.5,356.6 L1049.0,357.6 L1050.5,358.5 L1052.0,359.4 L1053.5,360.3 L1055.0,361.2 L1056.5,362.1 L1058.0,363.0 L1059.5,363.9 L1061.0,364.8 L1062.5,365.7 L1064.0,366.5 L1065.5,367.4 L1067.0,368.2 L1068.5,369.1 L1070.0,369.9 L1071.5,370.8 L1073.0,371.6 L1074.5,372.4 L1076.0,373.3 L1077.5,374.1 L1079.0,374.9 L1080.5,375.7 L1082.0,376.5 L1083.5,377.3 L1085.0,378.1 L1086.5,378.9 L1088.0,379.7 L1089.5,380.4 L1091.0,381.2 L1092.5,382.0 L1094.0,382.8 L1095.5,383.5 L1097.0,384.3 L1098.5,385.0 L1100.0,385.8 L1101.5,386.5 L1103.0,387.3 L1104.5,388.0 L1106.0,388.7 L1107.5,389.5 L1109.0,390.2 L1110.5,390.9 L1112.0,391.7 L1113.5,392.4 L1115.0,393.1 L1116.5,393.8 L1118.0,394.5 L1119.5,395.2 L1121.0,395.9 L1122.5,396.6 L1124.0,397.3 L1125.5,398.0 L1127.0,398.7 L1128.5,399.4 L1130.0,400.1 L1131.5,400.8 L1133.0,401.5 L1134.5,402.2 L1136.0,402.9 L1137.5,403.6 L1139.0,404.3 L1140.5,405.0 L1142.0,405.6" stroke="#ffc694" stroke-width="3.6"/>
<path class="c" d="M635.0,487.5 L636.5,487.2 L638.0,486.9 L639.5,486.6 L641.0,486.4 L642.5,486.2 L644.0,486.0 L645.5,485.9 L647.0,485.8 L648.5,485.7 L650.0,485.6 L651.5,485.5 L653.0,485.5 L654.5,485.4 L656.0,485.4 L657.5,485.3 L659.0,485.2 L660.5,485.2 L662.0,485.1 L663.5,485.0 L665.0,484.9 L666.5,484.8 L668.0,484.6 L669.5,484.4 L671.0,484.2 L672.5,484.0 L674.0,483.7 L675.5,483.4 L677.0,483.0 L678.5,482.6 L680.0,482.1 L681.5,481.6 L683.0,481.0 L684.5,480.3 L686.0,479.5 L687.5,478.7 L689.0,477.8 L690.5,476.8 L692.0,475.6 L693.5,474.4 L695.0,473.1 L696.5,471.6 L698.0,470.1 L699.5,468.4 L701.0,466.6 L702.5,464.7 L704.0,462.8 L705.5,460.9 L707.0,459.0 L708.5,457.1 L710.0,455.2 L711.5,453.5 L713.0,451.8 L714.5,450.2 L716.0,448.7 L717.5,447.2 L719.0,445.9 L720.5,444.6 L722.0,443.4 L723.5,442.4 L725.0,441.4 L726.5,440.6 L728.0,439.8 L729.5,439.2 L731.0,438.7 L732.5,438.3 L734.0,438.0 L735.5,437.9 L737.0,437.9 L738.5,438.1 L740.0,438.4 L741.5,438.8 L743.0,439.3 L744.5,440.0 L746.0,440.8 L747.5,441.6 L749.0,442.6 L750.5,443.6 L752.0,444.6 L753.5,445.8 L755.0,447.0 L756.5,448.2 L758.0,449.4 L759.5,450.7 L761.0,452.0 L762.5,453.2 L764.0,454.5 L765.5,455.7 L767.0,457.0 L768.5,458.1 L770.0,459.3 L771.5,460.3 L773.0,461.3 L774.5,462.3 L776.0,463.2 L777.5,464.0 L779.0,464.7 L780.5,465.4 L782.0,466.0 L783.5,466.5 L785.0,466.9 L786.5,467.1 L788.0,467.3 L789.5,467.4 L791.0,467.4 L792.5,467.2 L794.0,467.0 L795.5,466.6 L797.0,466.1 L798.5,465.4 L800.0,464.6 L801.5,463.7 L803.0,462.6 L804.5,461.4 L806.0,460.1 L807.5,458.7 L809.0,457.1 L810.5,455.4 L812.0,453.5 L813.5,451.5 L815.0,449.4 L816.5,447.2 L818.0,444.9 L819.5,442.5 L821.0,440.1 L822.5,437.7 L824.0,435.3 L825.5,432.9 L827.0,430.6 L828.5,428.4 L830.0,426.3 L831.5,424.2 L833.0,422.3 L834.5,420.5 L836.0,418.8 L837.5,417.2 L839.0,415.7 L840.5,414.4 L842.0,413.3 L843.5,412.2 L845.0,411.4 L846.5,410.7 L848.0,410.2 L849.5,409.9 L851.0,409.7 L852.5,409.8 L854.0,410.1 L855.5,410.5 L857.0,411.1 L858.5,411.9 L860.0,412.8 L861.5,413.8 L863.0,415.0 L864.5,416.2 L866.0,417.6 L867.5,419.0 L869.0,420.5 L870.5,422.1 L872.0,423.7 L873.5,425.4 L875.0,427.0 L876.5,428.7 L878.0,430.3 L879.5,432.0 L881.0,433.6 L882.5,435.1 L884.0,436.6 L885.5,438.1 L887.0,439.5 L888.5,440.9 L890.0,442.2 L891.5,443.5 L893.0,444.7 L894.5,445.9 L896.0,447.0 L897.5,448.1 L899.0,449.2 L900.5,450.2 L902.0,451.2 L903.5,452.2 L905.0,453.1 L906.5,454.0 L908.0,454.8 L909.5,455.7 L911.0,456.4 L912.5,457.2 L914.0,457.9 L915.5,458.6 L917.0,459.3 L918.5,459.9 L920.0,460.5 L921.5,461.1 L923.0,461.7 L924.5,462.2 L926.0,462.8 L927.5,463.3 L929.0,463.7 L930.5,464.2 L932.0,464.7 L933.5,465.1 L935.0,465.5 L936.5,465.9 L938.0,466.3 L939.5,466.7 L941.0,467.0 L942.5,467.4 L944.0,467.7 L945.5,468.0 L947.0,468.4 L948.5,468.7 L950.0,469.0 L951.5,469.3 L953.0,469.6 L954.5,469.9 L956.0,470.2 L957.5,470.5 L959.0,470.8 L960.5,471.0 L962.0,471.3 L963.5,471.6 L965.0,471.8 L966.5,472.1 L968.0,472.3 L969.5,472.6 L971.0,472.8 L972.5,473.1 L974.0,473.3 L975.5,473.5 L977.0,473.8 L978.5,474.0 L980.0,474.2 L981.5,474.4 L983.0,474.6 L984.5,474.8 L986.0,475.1 L987.5,475.2 L989.0,475.4 L990.5,475.6 L992.0,475.8 L993.5,476.0 L995.0,476.2 L996.5,476.4 L998.0,476.5 L999.5,476.7 L1001.0,476.9 L1002.5,477.0 L1004.0,477.2 L1005.5,477.4 L1007.0,477.5 L1008.5,477.7 L1010.0,477.8 L1011.5,477.9 L1013.0,478.1 L1014.5,478.2 L1016.0,478.4 L1017.5,478.5 L1019.0,478.6 L1020.5,478.7 L1022.0,478.9 L1023.5,479.0 L1025.0,479.1 L1026.5,479.2 L1028.0,479.3 L1029.5,479.4 L1031.0,479.6 L1032.5,479.7 L1034.0,479.8 L1035.5,479.9 L1037.0,480.0 L1038.5,480.0 L1040.0,480.1 L1041.5,480.2 L1043.0,480.3 L1044.5,480.4 L1046.0,480.5 L1047.5,480.6 L1049.0,480.7 L1050.5,480.7 L1052.0,480.8 L1053.5,480.9 L1055.0,481.0 L1056.5,481.0 L1058.0,481.1 L1059.5,481.2 L1061.0,481.2 L1062.5,481.3 L1064.0,481.4 L1065.5,481.4 L1067.0,481.5 L1068.5,481.5 L1070.0,481.6 L1071.5,481.6 L1073.0,481.7 L1074.5,481.7 L1076.0,481.8 L1077.5,481.8 L1079.0,481.9 L1080.5,481.9 L1082.0,482.0 L1083.5,482.0 L1085.0,482.1 L1086.5,482.1 L1088.0,482.2 L1089.5,482.2 L1091.0,482.3 L1092.5,482.3 L1094.0,482.3 L1095.5,482.4 L1097.0,482.4 L1098.5,482.4 L1100.0,482.5 L1101.5,482.5 L1103.0,482.6 L1104.5,482.6 L1106.0,482.6 L1107.5,482.7 L1109.0,482.7 L1110.5,482.7 L1112.0,482.8 L1113.5,482.8 L1115.0,482.8 L1116.5,482.9 L1118.0,482.9 L1119.5,482.9 L1121.0,483.0 L1122.5,483.0 L1124.0,483.0 L1125.5,483.1 L1127.0,483.1 L1128.5,483.1 L1130.0,483.2 L1131.5,483.2 L1133.0,483.2 L1134.5,483.3 L1136.0,483.3 L1137.5,483.3 L1139.0,483.4 L1140.5,483.4 L1142.0,483.5" stroke="#c5b0d5" stroke-width="3.5"/>
<path class="c" d="M635.0,471.1 L636.5,471.1 L638.0,471.0 L639.5,470.9 L641.0,470.8 L642.5,470.6 L644.0,470.4 L645.5,470.3 L647.0,470.1 L648.5,470.0 L650.0,469.8 L651.5,469.8 L653.0,469.8 L654.5,469.8 L656.0,469.9 L657.5,470.1 L659.0,470.4 L660.5,470.8 L662.0,471.3 L663.5,471.8 L665.0,472.4 L666.5,473.0 L668.0,473.7 L669.5,474.4 L671.0,475.1 L672.5,475.7 L674.0,476.3 L675.5,476.9 L677.0,477.4 L678.5,477.8 L680.0,478.1 L681.5,478.2 L683.0,478.2 L684.5,478.0 L686.0,477.7 L687.5,477.1 L689.0,476.3 L690.5,475.2 L692.0,473.9 L693.5,472.5 L695.0,470.8 L696.5,469.0 L698.0,467.1 L699.5,465.2 L701.0,463.3 L702.5,461.4 L704.0,459.6 L705.5,457.9 L707.0,456.4 L708.5,455.0 L710.0,453.7 L711.5,452.7 L713.0,451.7 L714.5,451.0 L716.0,450.4 L717.5,449.9 L719.0,449.6 L720.5,449.4 L722.0,449.4 L723.5,449.4 L725.0,449.6 L726.5,449.8 L728.0,450.1 L729.5,450.4 L731.0,450.9 L732.5,451.3 L734.0,451.8 L735.5,452.3 L737.0,452.8 L738.5,453.3 L740.0,453.8 L741.5,454.4 L743.0,454.9 L744.5,455.5 L746.0,456.0 L747.5,456.5 L749.0,457.1 L750.5,457.6 L752.0,458.2 L753.5,458.7 L755.0,459.3 L756.5,459.8 L758.0,460.3 L759.5,460.8 L761.0,461.3 L762.5,461.8 L764.0,462.3 L765.5,462.7 L767.0,463.2 L768.5,463.6 L770.0,464.0 L771.5,464.4 L773.0,464.8 L774.5,465.1 L776.0,465.4 L777.5,465.7 L779.0,466.0 L780.5,466.3 L782.0,466.5 L783.5,466.7 L785.0,466.9 L786.5,467.1 L788.0,467.2 L789.5,467.4 L791.0,467.5 L792.5,467.6 L794.0,467.7 L795.5,467.8 L797.0,467.9 L798.5,468.0 L800.0,468.0 L801.5,468.1 L803.0,468.1 L804.5,468.1 L806.0,468.2 L807.5,468.2 L809.0,468.2 L810.5,468.2 L812.0,468.2 L813.5,468.2 L815.0,468.2 L816.5,468.2 L818.0,468.2 L819.5,468.2 L821.0,468.3 L822.5,468.3 L824.0,468.3 L825.5,468.3 L827.0,468.4 L828.5,468.4 L830.0,468.4 L831.5,468.5 L833.0,468.5 L834.5,468.6 L836.0,468.7 L837.5,468.7 L839.0,468.8 L840.5,468.9 L842.0,469.0 L843.5,469.1 L845.0,469.2 L846.5,469.3 L848.0,469.4 L849.5,469.5 L851.0,469.6 L852.5,469.7 L854.0,469.8 L855.5,469.9 L857.0,470.1 L858.5,470.2 L860.0,470.3 L861.5,470.4 L863.0,470.6 L864.5,470.7 L866.0,470.9 L867.5,471.0 L869.0,471.1 L870.5,471.3 L872.0,471.4 L873.5,471.6 L875.0,471.7 L876.5,471.9 L878.0,472.0 L879.5,472.2 L881.0,472.3 L882.5,472.5 L884.0,472.7 L885.5,472.8 L887.0,473.0 L888.5,473.1 L890.0,473.3 L891.5,473.4 L893.0,473.6 L894.5,473.8 L896.0,473.9 L897.5,474.1 L899.0,474.2 L900.5,474.4 L902.0,474.5 L903.5,474.7 L905.0,474.8 L906.5,475.0 L908.0,475.1 L909.5,475.3 L911.0,475.4 L912.5,475.5 L914.0,475.7 L915.5,475.8 L917.0,476.0 L918.5,476.1 L920.0,476.2 L921.5,476.4 L923.0,476.5 L924.5,476.6 L926.0,476.7 L927.5,476.9 L929.0,477.0 L930.5,477.1 L932.0,477.3 L933.5,477.4 L935.0,477.5 L936.5,477.6 L938.0,477.7 L939.5,477.9 L941.0,478.0 L942.5,478.1 L944.0,478.2 L945.5,478.3 L947.0,478.4 L948.5,478.5 L950.0,478.6 L951.5,478.7 L953.0,478.9 L954.5,479.0 L956.0,479.1 L957.5,479.2 L959.0,479.3 L960.5,479.4 L962.0,479.5 L963.5,479.6 L965.0,479.7 L966.5,479.8 L968.0,479.9 L969.5,479.9 L971.0,480.0 L972.5,480.1 L974.0,480.2 L975.5,480.3 L977.0,480.4 L978.5,480.5 L980.0,480.6 L981.5,480.7 L983.0,480.7 L984.5,480.8 L986.0,480.9 L987.5,481.0 L989.0,481.1 L990.5,481.1 L992.0,481.2 L993.5,481.3 L995.0,481.4 L996.5,481.5 L998.0,481.5 L999.5,481.6 L1001.0,481.7 L1002.5,481.7 L1004.0,481.8 L1005.5,481.9 L1007.0,481.9 L1008.5,482.0 L1010.0,482.1 L1011.5,482.1 L1013.0,482.2 L1014.5,482.3 L1016.0,482.3 L1017.5,482.4 L1019.0,482.5 L1020.5,482.5 L1022.0,482.6 L1023.5,482.6 L1025.0,482.7 L1026.5,482.7 L1028.0,482.8 L1029.5,482.9 L1031.0,482.9 L1032.5,483.0 L1034.0,483.0 L1035.5,483.1 L1037.0,483.1 L1038.5,483.2 L1040.0,483.2 L1041.5,483.3 L1043.0,483.3 L1044.5,483.3 L1046.0,483.4 L1047.5,483.4 L1049.0,483.5 L1050.5,483.5 L1052.0,483.6 L1053.5,483.6 L1055.0,483.6 L1056.5,483.7 L1058.0,483.7 L1059.5,483.8 L1061.0,483.8 L1062.5,483.8 L1064.0,483.9 L1065.5,483.9 L1067.0,483.9 L1068.5,484.0 L1070.0,484.0 L1071.5,484.0 L1073.0,484.1 L1074.5,484.1 L1076.0,484.1 L1077.5,484.2 L1079.0,484.2 L1080.5,484.2 L1082.0,484.2 L1083.5,484.3 L1085.0,484.3 L1086.5,484.3 L1088.0,484.3 L1089.5,484.4 L1091.0,484.4 L1092.5,484.4 L1094.0,484.4 L1095.5,484.5 L1097.0,484.5 L1098.5,484.5 L1100.0,484.5 L1101.5,484.5 L1103.0,484.6 L1104.5,484.6 L1106.0,484.6 L1107.5,484.6 L1109.0,484.6 L1110.5,484.7 L1112.0,484.7 L1113.5,484.7 L1115.0,484.7 L1116.5,484.7 L1118.0,484.7 L1119.5,484.7 L1121.0,484.8 L1122.5,484.8 L1124.0,484.8 L1125.5,484.8 L1127.0,484.8 L1128.5,484.8 L1130.0,484.8 L1131.5,484.8 L1133.0,484.8 L1134.5,484.9 L1136.0,484.9 L1137.5,484.9 L1139.0,484.9 L1140.5,484.9 L1142.0,484.9" stroke="#b0b590" stroke-width="3.8"/>
<path class="c" d="M635.0,487.2 L636.5,487.3 L638.0,487.4 L639.5,487.5 L641.0,487.5 L642.5,487.6 L644.0,487.6 L645.5,487.7 L647.0,487.7 L648.5,487.8 L650.0,487.8 L651.5,487.9 L653.0,487.9 L654.5,487.9 L656.0,488.0 L657.5,488.0 L659.0,488.0 L660.5,488.0 L662.0,488.0 L663.5,488.0 L665.0,488.1 L666.5,488.1 L668.0,488.1 L669.5,488.1 L671.0,488.1 L672.5,488.0 L674.0,488.0 L675.5,488.0 L677.0,488.0 L678.5,488.0 L680.0,488.0 L681.5,487.9 L683.0,487.9 L684.5,487.9 L686.0,487.9 L687.5,487.8 L689.0,487.8 L690.5,487.8 L692.0,487.7 L693.5,487.7 L695.0,487.6 L696.5,487.6 L698.0,487.5 L699.5,487.5 L701.0,487.5 L702.5,487.4 L704.0,487.4 L705.5,487.3 L707.0,487.2 L708.5,487.2 L710.0,487.1 L711.5,487.1 L713.0,487.0 L714.5,487.0 L716.0,486.9 L717.5,486.8 L719.0,486.8 L720.5,486.7 L722.0,486.7 L723.5,486.6 L725.0,486.5 L726.5,486.5 L728.0,486.4 L729.5,486.4 L731.0,486.3 L732.5,486.2 L734.0,486.2 L735.5,486.1 L737.0,486.0 L738.5,486.0 L740.0,485.9 L741.5,485.9 L743.0,485.8 L744.5,485.7 L746.0,485.7 L747.5,485.6 L749.0,485.6 L750.5,485.5 L752.0,485.5 L753.5,485.4 L755.0,485.3 L756.5,485.3 L758.0,485.2 L759.5,485.2 L761.0,485.1 L762.5,485.1 L764.0,485.0 L765.5,485.0 L767.0,485.0 L768.5,484.9 L770.0,484.9 L771.5,484.8 L773.0,484.8 L774.5,484.8 L776.0,484.7 L777.5,484.7 L779.0,484.7 L780.5,484.7 L782.0,484.6 L783.5,484.6 L785.0,484.6 L786.5,484.6 L788.0,484.5 L789.5,484.5 L791.0,484.5 L792.5,484.5 L794.0,484.5 L795.5,484.5 L797.0,484.5 L798.5,484.4 L800.0,484.4 L801.5,484.4 L803.0,484.4 L804.5,484.4 L806.0,484.4 L807.5,484.4 L809.0,484.4 L810.5,484.4 L812.0,484.4 L813.5,484.4 L815.0,484.4 L816.5,484.4 L818.0,484.5 L819.5,484.5 L821.0,484.5 L822.5,484.5 L824.0,484.5 L825.5,484.5 L827.0,484.5 L828.5,484.5 L830.0,484.5 L831.5,484.6 L833.0,484.6 L834.5,484.6 L836.0,484.6 L837.5,484.6 L839.0,484.7 L840.5,484.7 L842.0,484.7 L843.5,484.7 L845.0,484.8 L846.5,484.8 L848.0,484.8 L849.5,484.8 L851.0,484.9 L852.5,484.9 L854.0,484.9 L855.5,484.9 L857.0,485.0 L858.5,485.0 L860.0,485.0 L861.5,485.1 L863.0,485.1 L864.5,485.1 L866.0,485.1 L867.5,485.2 L869.0,485.2 L870.5,485.2 L872.0,485.3 L873.5,485.3 L875.0,485.3 L876.5,485.4 L878.0,485.4 L879.5,485.4 L881.0,485.5 L882.5,485.5 L884.0,485.5 L885.5,485.6 L887.0,485.6 L888.5,485.7 L890.0,485.7 L891.5,485.7 L893.0,485.8 L894.5,485.8 L896.0,485.8 L897.5,485.9 L899.0,485.9 L900.5,485.9 L902.0,486.0 L903.5,486.0 L905.0,486.0 L906.5,486.1 L908.0,486.1 L909.5,486.1 L911.0,486.2 L912.5,486.2 L914.0,486.2 L915.5,486.3 L917.0,486.3 L918.5,486.3 L920.0,486.4 L921.5,486.4 L923.0,486.4 L924.5,486.5 L926.0,486.5 L927.5,486.5 L929.0,486.6 L930.5,486.6 L932.0,486.6 L933.5,486.7 L935.0,486.7 L936.5,486.7 L938.0,486.8 L939.5,486.8 L941.0,486.8 L942.5,486.9 L944.0,486.9 L945.5,486.9 L947.0,486.9 L948.5,487.0 L950.0,487.0 L951.5,487.0 L953.0,487.1 L954.5,487.1 L956.0,487.1 L957.5,487.1 L959.0,487.2 L960.5,487.2 L962.0,487.2 L963.5,487.2 L965.0,487.3 L966.5,487.3 L968.0,487.3 L969.5,487.3 L971.0,487.3 L972.5,487.4 L974.0,487.4 L975.5,487.4 L977.0,487.4 L978.5,487.4 L980.0,487.5 L981.5,487.5 L983.0,487.5 L984.5,487.5 L986.0,487.5 L987.5,487.5 L989.0,487.5 L990.5,487.6 L992.0,487.6 L993.5,487.6 L995.0,487.6 L996.5,487.6 L998.0,487.6 L999.5,487.6 L1001.0,487.6 L1002.5,487.6 L1004.0,487.6 L1005.5,487.7 L1007.0,487.7 L1008.5,487.7 L1010.0,487.7 L1011.5,487.7 L1013.0,487.7 L1014.5,487.7 L1016.0,487.7 L1017.5,487.7 L1019.0,487.7 L1020.5,487.7 L1022.0,487.7 L1023.5,487.6 L1025.0,487.6 L1026.5,487.6 L1028.0,487.6 L1029.5,487.6 L1031.0,487.6 L1032.5,487.6 L1034.0,487.6 L1035.5,487.6 L1037.0,487.6 L1038.5,487.6 L1040.0,487.6 L1041.5,487.5 L1043.0,487.5 L1044.5,487.5 L1046.0,487.5 L1047.5,487.5 L1049.0,487.5 L1050.5,487.5 L1052.0,487.5 L1053.5,487.4 L1055.0,487.4 L1056.5,487.4 L1058.0,487.4 L1059.5,487.4 L1061.0,487.4 L1062.5,487.4 L1064.0,487.3 L1065.5,487.3 L1067.0,487.3 L1068.5,487.3 L1070.0,487.3 L1071.5,487.3 L1073.0,487.3 L1074.5,487.3 L1076.0,487.2 L1077.5,487.2 L1079.0,487.2 L1080.5,487.2 L1082.0,487.2 L1083.5,487.2 L1085.0,487.2 L1086.5,487.2 L1088.0,487.2 L1089.5,487.2 L1091.0,487.2 L1092.5,487.1 L1094.0,487.1 L1095.5,487.1 L1097.0,487.1 L1098.5,487.1 L1100.0,487.1 L1101.5,487.1 L1103.0,487.1 L1104.5,487.1 L1106.0,487.1 L1107.5,487.1 L1109.0,487.1 L1110.5,487.1 L1112.0,487.1 L1113.5,487.2 L1115.0,487.2 L1116.5,487.2 L1118.0,487.2 L1119.5,487.2 L1121.0,487.2 L1122.5,487.2 L1124.0,487.2 L1125.5,487.3 L1127.0,487.3 L1128.5,487.3 L1130.0,487.3 L1131.5,487.3 L1133.0,487.4 L1134.5,487.4 L1136.0,487.4 L1137.5,487.4 L1139.0,487.5 L1140.5,487.5 L1142.0,487.5" stroke="#aee5ec" stroke-width="3.6"/>
<path class="c" d="M635.0,387.4 L636.5,385.6 L638.0,383.4 L639.5,380.9 L641.0,378.1 L642.5,375.2 L644.0,372.1 L645.5,368.9 L647.0,365.8 L648.5,362.7 L650.0,359.8 L651.5,357.0 L653.0,354.6 L654.5,352.5 L656.0,350.8 L657.5,349.5 L659.0,348.9 L660.5,348.8 L662.0,349.3 L663.5,350.4 L665.0,351.8 L666.5,353.6 L668.0,355.7 L669.5,357.8 L671.0,359.9 L672.5,362.0 L674.0,363.8 L675.5,365.4 L677.0,366.4 L678.5,366.9 L680.0,366.7 L681.5,365.7 L683.0,364.1 L684.5,361.7 L686.0,358.8 L687.5,355.1 L689.0,350.9 L690.5,346.2 L692.0,340.9 L693.5,335.3 L695.0,329.2 L696.5,322.7 L698.0,316.0 L699.5,309.1 L701.0,301.9 L702.5,294.7 L704.0,287.3 L705.5,279.9 L707.0,272.5 L708.5,265.2 L710.0,258.1 L711.5,251.0 L713.0,244.0 L714.5,237.1 L716.0,230.3 L717.5,223.5 L719.0,216.8 L720.5,210.2 L722.0,203.6 L723.5,197.2 L725.0,190.8 L726.5,184.6 L728.0,178.6 L729.5,172.7 L731.0,167.0 L732.5,161.6 L734.0,156.3 L735.5,151.3 L737.0,146.6 L738.5,142.2 L740.0,138.1 L741.5,134.2 L743.0,130.7 L744.5,127.4 L746.0,124.4 L747.5,121.7 L749.0,119.2 L750.5,117.0 L752.0,115.0 L753.5,113.3 L755.0,111.7 L756.5,110.4 L758.0,109.3 L759.5,108.4 L761.0,107.7 L762.5,107.2 L764.0,106.8 L765.5,106.6 L767.0,106.6 L768.5,106.7 L770.0,107.0 L771.5,107.3 L773.0,107.8 L774.5,108.3 L776.0,109.0 L777.5,109.7 L779.0,110.4 L780.5,111.2 L782.0,112.0 L783.5,112.8 L785.0,113.6 L786.5,114.3 L788.0,115.1 L789.5,115.8 L791.0,116.4 L792.5,117.0 L794.0,117.4 L795.5,117.8 L797.0,118.1 L798.5,118.3 L800.0,118.3 L801.5,118.2 L803.0,118.0 L804.5,117.6 L806.0,117.0 L807.5,116.2 L809.0,115.3 L810.5,114.1 L812.0,112.8 L813.5,111.2 L815.0,109.4 L816.5,107.5 L818.0,105.4 L819.5,103.2 L821.0,100.9 L822.5,98.5 L824.0,96.1 L825.5,93.7 L827.0,91.2 L828.5,88.8 L830.0,86.4 L831.5,84.1 L833.0,81.8 L834.5,79.7 L836.0,77.6 L837.5,75.7 L839.0,74.0 L840.5,72.5 L842.0,71.1 L843.5,70.0 L845.0,69.2 L846.5,68.5 L848.0,68.2 L849.5,68.1 L851.0,68.3 L852.5,68.8 L854.0,69.5 L855.5,70.6 L857.0,72.1 L858.5,73.9 L860.0,76.0 L861.5,78.4 L863.0,81.0 L864.5,83.9 L866.0,87.0 L867.5,90.1 L869.0,93.4 L870.5,96.7 L872.0,100.0 L873.5,103.4 L875.0,106.8 L876.5,110.3 L878.0,113.7 L879.5,117.2 L881.0,120.7 L882.5,124.2 L884.0,127.7 L885.5,131.1 L887.0,134.6 L888.5,138.0 L890.0,141.4 L891.5,144.8 L893.0,148.1 L894.5,151.4 L896.0,154.7 L897.5,157.9 L899.0,161.1 L900.5,164.2 L902.0,167.3 L903.5,170.3 L905.0,173.4 L906.5,176.3 L908.0,179.3 L909.5,182.2 L911.0,185.1 L912.5,187.9 L914.0,190.7 L915.5,193.5 L917.0,196.2 L918.5,198.9 L920.0,201.6 L921.5,204.2 L923.0,206.8 L924.5,209.4 L926.0,211.9 L927.5,214.4 L929.0,216.9 L930.5,219.3 L932.0,221.7 L933.5,224.1 L935.0,226.5 L936.5,228.8 L938.0,231.1 L939.5,233.4 L941.0,235.6 L942.5,237.9 L944.0,240.0 L945.5,242.2 L947.0,244.3 L948.5,246.5 L950.0,248.6 L951.5,250.6 L953.0,252.7 L954.5,254.7 L956.0,256.7 L957.5,258.7 L959.0,260.6 L960.5,262.5 L962.0,264.4 L963.5,266.3 L965.0,268.2 L966.5,270.0 L968.0,271.9 L969.5,273.7 L971.0,275.5 L972.5,277.2 L974.0,279.0 L975.5,280.7 L977.0,282.5 L978.5,284.2 L980.0,285.9 L981.5,287.5 L983.0,289.2 L984.5,290.8 L986.0,292.4 L987.5,294.0 L989.0,295.6 L990.5,297.2 L992.0,298.8 L993.5,300.3 L995.0,301.8 L996.5,303.4 L998.0,304.9 L999.5,306.3 L1001.0,307.8 L1002.5,309.3 L1004.0,310.7 L1005.5,312.1 L1007.0,313.5 L1008.5,314.9 L1010.0,316.3 L1011.5,317.7 L1013.0,319.1 L1014.5,320.4 L1016.0,321.7 L1017.5,323.1 L1019.0,324.4 L1020.5,325.6 L1022.0,326.9 L1023.5,328.2 L1025.0,329.5 L1026.5,330.7 L1028.0,331.9 L1029.5,333.1 L1031.0,334.3 L1032.5,335.5 L1034.0,336.7 L1035.5,337.9 L1037.0,339.1 L1038.5,340.2 L1040.0,341.3 L1041.5,342.5 L1043.0,343.6 L1044.5,344.7 L1046.0,345.8 L1047.5,346.9 L1049.0,347.9 L1050.5,349.0 L1052.0,350.1 L1053.5,351.1 L1055.0,352.2 L1056.5,353.2 L1058.0,354.2 L1059.5,355.2 L1061.0,356.2 L1062.5,357.2 L1064.0,358.2 L1065.5,359.1 L1067.0,360.1 L1068.5,361.1 L1070.0,362.0 L1071.5,363.0 L1073.0,363.9 L1074.5,364.8 L1076.0,365.7 L1077.5,366.6 L1079.0,367.5 L1080.5,368.4 L1082.0,369.3 L1083.5,370.2 L1085.0,371.1 L1086.5,371.9 L1088.0,372.8 L1089.5,373.7 L1091.0,374.5 L1092.5,375.4 L1094.0,376.2 L1095.5,377.0 L1097.0,377.8 L1098.5,378.7 L1100.0,379.5 L1101.5,380.3 L1103.0,381.1 L1104.5,381.9 L1106.0,382.7 L1107.5,383.5 L1109.0,384.3 L1110.5,385.0 L1112.0,385.8 L1113.5,386.6 L1115.0,387.4 L1116.5,388.1 L1118.0,388.9 L1119.5,389.6 L1121.0,390.4 L1122.5,391.1 L1124.0,391.9 L1125.5,392.6 L1127.0,393.4 L1128.5,394.1 L1130.0,394.9 L1131.5,395.6 L1133.0,396.3 L1134.5,397.1 L1136.0,397.8 L1137.5,398.5 L1139.0,399.2 L1140.5,400.0 L1142.0,400.7" stroke="#99dc9c" stroke-width="3.4"/>
</g>
<g clip-path="url(#cp02)">
<path class="c" d="M1139.3,401.1 L1140.8,399.8 L1142.3,398.5 L1143.8,397.2 L1145.3,396.1 L1146.8,395.0 L1148.3,394.0 L1149.8,393.1 L1151.3,392.3 L1152.8,391.7 L1154.3,391.3 L1155.8,391.0 L1157.3,390.8 L1158.8,390.9 L1160.3,391.2 L1161.8,391.7 L1163.3,392.5 L1164.8,393.4 L1166.3,394.7 L1167.8,396.3 L1169.3,398.1 L1170.8,400.2 L1172.3,402.4 L1173.8,404.7 L1175.3,407.0 L1176.8,409.2 L1178.3,411.2 L1179.8,412.9 L1181.3,414.4 L1182.8,415.6 L1184.3,416.6 L1185.8,417.3 L1187.3,417.9 L1188.8,418.1 L1190.3,418.2 L1191.8,418.1 L1193.3,417.8 L1194.8,417.3 L1196.3,416.7 L1197.8,416.0 L1199.3,415.2 L1200.8,414.4 L1202.3,413.5 L1203.8,412.5 L1205.3,411.5 L1206.8,410.5 L1208.3,409.4 L1209.8,408.3 L1211.3,407.1 L1212.8,405.9 L1214.3,404.7 L1215.8,403.5 L1217.3,402.3 L1218.8,401.0 L1220.3,399.7 L1221.8,398.5 L1223.3,397.2 L1224.8,395.9 L1226.3,394.6 L1227.8,393.4 L1229.3,392.1 L1230.8,390.9 L1232.3,389.7 L1233.8,388.5 L1235.3,387.3 L1236.8,386.2 L1238.3,385.1 L1239.8,384.1 L1241.3,383.1 L1242.8,382.2 L1244.3,381.4 L1245.8,380.6 L1247.3,380.0 L1248.8,379.5 L1250.3,379.1 L1251.8,378.9 L1253.3,378.9 L1254.8,379.0 L1256.3,379.3 L1257.8,379.8 L1259.3,380.5 L1260.8,381.5 L1262.3,382.6 L1263.8,384.0 L1265.3,385.7 L1266.8,387.7 L1268.3,389.8 L1269.8,392.2 L1271.3,394.7 L1272.8,397.3 L1274.3,400.0 L1275.8,402.7 L1277.3,405.5 L1278.8,408.2 L1280.3,410.9 L1281.8,413.4 L1283.3,415.8 L1284.8,418.1 L1286.3,420.1 L1287.8,421.9 L1289.3,423.4 L1290.8,424.6 L1292.3,425.4 L1293.8,425.8 L1295.3,425.8 L1296.8,425.4 L1298.3,424.5 L1299.8,423.3 L1301.3,421.6 L1302.8,419.6 L1304.3,417.3 L1305.8,414.6 L1307.3,411.6 L1308.8,408.2 L1310.3,404.6 L1311.8,400.7 L1313.3,396.6 L1314.8,392.2 L1316.3,387.5 L1317.8,382.6 L1319.3,377.5 L1320.8,372.1 L1322.3,366.5 L1323.8,360.6 L1325.3,354.6 L1326.8,348.3 L1328.3,341.8 L1329.8,335.3 L1331.3,328.6 L1332.8,321.9 L1334.3,315.2 L1335.8,308.5 L1337.3,301.9 L1338.8,295.4 L1340.3,288.9 L1341.8,282.7 L1343.3,276.6 L1344.8,270.8 L1346.3,265.2 L1347.8,260.0 L1349.3,255.1 L1350.8,250.6 L1352.3,246.4 L1353.8,242.6 L1355.3,239.0 L1356.8,235.8 L1358.3,232.7 L1359.8,229.9 L1361.3,227.2 L1362.8,224.6 L1364.3,222.2 L1365.8,219.9 L1367.3,217.7 L1368.8,215.7 L1370.3,213.7 L1371.8,211.9 L1373.3,210.2 L1374.8,208.6 L1376.3,207.1 L1377.8,205.7 L1379.3,204.3 L1380.8,203.1 L1382.3,202.0 L1383.8,200.9 L1385.3,199.9 L1386.8,199.0 L1388.3,198.2 L1389.8,197.4 L1391.3,196.7 L1392.8,196.1 L1394.3,195.5 L1395.8,195.0 L1397.3,194.5 L1398.8,194.1 L1400.3,193.7 L1401.8,193.3 L1403.3,193.0 L1404.8,192.8 L1406.3,192.5 L1407.8,192.3 L1409.3,192.1 L1410.8,192.0 L1412.3,191.8 L1413.8,191.7 L1415.3,191.6 L1416.8,191.5 L1418.3,191.4 L1419.8,191.4 L1421.3,191.3 L1422.8,191.3 L1424.3,191.4 L1425.8,191.4 L1427.3,191.5 L1428.8,191.6 L1430.3,191.7 L1431.8,191.9 L1433.3,192.0 L1434.8,192.2 L1436.3,192.5 L1437.8,192.8 L1439.3,193.0 L1440.8,193.4 L1442.3,193.7 L1443.8,194.1 L1445.3,194.5 L1446.8,195.0 L1448.3,195.5 L1449.8,195.9 L1451.3,196.5 L1452.8,197.0 L1454.3,197.5 L1455.8,198.1 L1457.3,198.7 L1458.8,199.3 L1460.3,199.9 L1461.8,200.6 L1463.3,201.2 L1464.8,201.9 L1466.3,202.5 L1467.8,203.2 L1469.3,203.9 L1470.8,204.5 L1472.3,205.2 L1473.8,205.9 L1475.3,206.6 L1476.8,207.3 L1478.3,208.0 L1479.8,208.6 L1481.3,209.3 L1482.8,210.0 L1484.3,210.6 L1485.8,211.3 L1487.3,211.9 L1488.8,212.5 L1490.3,213.1 L1491.8,213.7 L1493.3,214.3 L1494.8,214.9 L1496.3,215.4 L1497.8,215.9 L1499.3,216.4 L1500.8,216.9 L1502.3,217.3 L1503.8,217.8 L1505.3,218.2 L1506.8,218.5 L1508.3,218.9 L1509.8,219.2 L1511.3,219.5 L1512.8,219.7 L1514.3,220.0 L1515.8,220.1 L1517.3,220.3 L1518.8,220.4 L1520.3,220.5 L1521.8,220.6 L1523.3,220.6 L1524.8,220.6 L1526.3,220.6 L1527.8,220.5 L1529.3,220.3 L1530.8,220.2 L1532.3,220.0 L1533.8,219.7 L1535.3,219.4 L1536.8,219.1 L1538.3,218.7 L1539.8,218.3 L1541.3,217.9 L1542.8,217.3 L1544.3,216.8 L1545.8,216.2 L1547.3,215.6 L1548.8,214.9 L1550.3,214.2 L1551.8,213.6 L1553.3,212.9 L1554.8,212.2 L1556.3,211.6 L1557.8,210.9 L1559.3,210.3 L1560.8,209.8 L1562.3,209.3 L1563.8,208.8 L1565.3,208.5 L1566.8,208.2 L1568.3,208.0 L1569.8,207.8 L1571.3,207.8 L1572.8,207.9 L1574.3,208.1 L1575.8,208.4 L1577.3,208.7 L1578.8,209.2 L1580.3,209.7 L1581.8,210.3 L1583.3,211.0 L1584.8,211.7 L1586.3,212.5 L1587.8,213.3 L1589.3,214.2 L1590.8,215.0 L1592.3,216.0 L1593.8,216.9 L1595.3,217.9 L1596.8,218.9 L1598.3,219.9 L1599.8,221.0 L1601.3,222.1 L1602.8,223.2 L1604.3,224.3 L1605.8,225.5 L1607.3,226.6 L1608.8,227.8 L1610.3,229.0 L1611.8,230.2 L1613.3,231.5 L1614.8,232.7 L1616.3,233.9 L1617.8,235.2 L1619.3,236.4 L1620.8,237.7 L1622.3,238.9 L1623.8,240.2 L1625.3,241.4 L1626.8,242.7 L1628.3,243.9 L1629.8,245.2 L1631.3,246.4 L1632.8,247.6 L1634.3,248.8 L1635.8,250.0 L1637.3,251.2 L1638.8,252.4 L1640.3,253.5 L1641.8,254.6 L1643.3,255.7 L1644.8,256.8 L1646.0,257.7" stroke="#ffc694" stroke-width="3.6"/>
<path class="c" d="M1139.3,479.4 L1140.8,478.5 L1142.3,477.6 L1143.8,476.6 L1145.3,475.5 L1146.8,474.5 L1148.3,473.4 L1149.8,472.3 L1151.3,471.2 L1152.8,470.1 L1154.3,469.1 L1155.8,468.2 L1157.3,467.3 L1158.8,466.5 L1160.3,465.8 L1161.8,465.3 L1163.3,464.8 L1164.8,464.6 L1166.3,464.4 L1167.8,464.5 L1169.3,464.7 L1170.8,465.1 L1172.3,465.7 L1173.8,466.4 L1175.3,467.2 L1176.8,468.0 L1178.3,468.9 L1179.8,469.9 L1181.3,470.8 L1182.8,471.8 L1184.3,472.8 L1185.8,473.8 L1187.3,474.7 L1188.8,475.7 L1190.3,476.6 L1191.8,477.5 L1193.3,478.3 L1194.8,479.1 L1196.3,479.9 L1197.8,480.6 L1199.3,481.3 L1200.8,481.9 L1202.3,482.5 L1203.8,483.0 L1205.3,483.5 L1206.8,483.9 L1208.3,484.3 L1209.8,484.6 L1211.3,484.9 L1212.8,485.1 L1214.3,485.3 L1215.8,485.4 L1217.3,485.4 L1218.8,485.4 L1220.3,485.3 L1221.8,485.2 L1223.3,485.0 L1224.8,484.7 L1226.3,484.3 L1227.8,483.9 L1229.3,483.4 L1230.8,482.9 L1232.3,482.3 L1233.8,481.6 L1235.3,480.9 L1236.8,480.1 L1238.3,479.3 L1239.8,478.4 L1241.3,477.5 L1242.8,476.6 L1244.3,475.8 L1245.8,474.9 L1247.3,474.0 L1248.8,473.1 L1250.3,472.2 L1251.8,471.4 L1253.3,470.6 L1254.8,469.8 L1256.3,469.1 L1257.8,468.5 L1259.3,467.9 L1260.8,467.4 L1262.3,466.9 L1263.8,466.4 L1265.3,466.0 L1266.8,465.7 L1268.3,465.3 L1269.8,465.0 L1271.3,464.7 L1272.8,464.5 L1274.3,464.3 L1275.8,464.0 L1277.3,463.8 L1278.8,463.6 L1280.3,463.4 L1281.8,463.2 L1283.3,463.0 L1284.8,462.8 L1286.3,462.6 L1287.8,462.4 L1289.3,462.2 L1290.8,461.9 L1292.3,461.6 L1293.8,461.3 L1295.3,460.9 L1296.8,460.6 L1298.3,460.1 L1299.8,459.7 L1301.3,459.1 L1302.8,458.4 L1304.3,457.7 L1305.8,456.8 L1307.3,455.7 L1308.8,454.5 L1310.3,453.3 L1311.8,451.9 L1313.3,450.5 L1314.8,449.1 L1316.3,447.7 L1317.8,446.4 L1319.3,445.2 L1320.8,444.1 L1322.3,443.1 L1323.8,442.2 L1325.3,441.5 L1326.8,441.0 L1328.3,440.8 L1329.8,440.7 L1331.3,440.8 L1332.8,441.2 L1334.3,441.7 L1335.8,442.4 L1337.3,443.2 L1338.8,444.0 L1340.3,444.9 L1341.8,445.8 L1343.3,446.8 L1344.8,447.8 L1346.3,448.9 L1347.8,450.0 L1349.3,451.0 L1350.8,452.1 L1352.3,453.2 L1353.8,454.2 L1355.3,455.3 L1356.8,456.3 L1358.3,457.2 L1359.8,458.1 L1361.3,459.0 L1362.8,459.8 L1364.3,460.5 L1365.8,461.2 L1367.3,461.8 L1368.8,462.4 L1370.3,463.0 L1371.8,463.4 L1373.3,463.9 L1374.8,464.3 L1376.3,464.6 L1377.8,465.0 L1379.3,465.2 L1380.8,465.5 L1382.3,465.7 L1383.8,465.8 L1385.3,466.0 L1386.8,466.1 L1388.3,466.1 L1389.8,466.2 L1391.3,466.2 L1392.8,466.2 L1394.3,466.2 L1395.8,466.1 L1397.3,466.1 L1398.8,466.0 L1400.3,465.9 L1401.8,465.7 L1403.3,465.6 L1404.8,465.4 L1406.3,465.3 L1407.8,465.1 L1409.3,464.9 L1410.8,464.8 L1412.3,464.6 L1413.8,464.4 L1415.3,464.2 L1416.8,464.0 L1418.3,463.8 L1419.8,463.5 L1421.3,463.3 L1422.8,463.1 L1424.3,462.9 L1425.8,462.6 L1427.3,462.4 L1428.8,462.1 L1430.3,461.8 L1431.8,461.5 L1433.3,461.3 L1434.8,461.0 L1436.3,460.7 L1437.8,460.4 L1439.3,460.0 L1440.8,459.7 L1442.3,459.4 L1443.8,459.0 L1445.3,458.7 L1446.8,458.3 L1448.3,457.9 L1449.8,457.5 L1451.3,457.1 L1452.8,456.7 L1454.3,456.2 L1455.8,455.8 L1457.3,455.3 L1458.8,454.8 L1460.3,454.2 L1461.8,453.7 L1463.3,453.1 L1464.8,452.5 L1466.3,451.9 L1467.8,451.2 L1469.3,450.6 L1470.8,449.9 L1472.3,449.1 L1473.8,448.4 L1475.3,447.6 L1476.8,446.7 L1478.3,445.8 L1479.8,444.9 L1481.3,444.0 L1482.8,443.0 L1484.3,442.0 L1485.8,440.9 L1487.3,439.8 L1488.8,438.7 L1490.3,437.5 L1491.8,436.2 L1493.3,435.0 L1494.8,433.6 L1496.3,432.3 L1497.8,430.8 L1499.3,429.4 L1500.8,427.9 L1502.3,426.3 L1503.8,424.7 L1505.3,423.1 L1506.8,421.4 L1508.3,419.7 L1509.8,417.9 L1511.3,416.1 L1512.8,414.3 L1514.3,412.4 L1515.8,410.5 L1517.3,408.6 L1518.8,406.6 L1520.3,404.6 L1521.8,402.5 L1523.3,400.4 L1524.8,398.3 L1526.3,396.2 L1527.8,394.1 L1529.3,391.9 L1530.8,389.8 L1532.3,387.7 L1533.8,385.7 L1535.3,383.7 L1536.8,381.7 L1538.3,379.9 L1539.8,378.1 L1541.3,376.4 L1542.8,374.9 L1544.3,373.4 L1545.8,372.1 L1547.3,371.0 L1548.8,370.0 L1550.3,369.1 L1551.8,368.4 L1553.3,367.9 L1554.8,367.5 L1556.3,367.3 L1557.8,367.2 L1559.3,367.2 L1560.8,367.4 L1562.3,367.8 L1563.8,368.3 L1565.3,368.9 L1566.8,369.6 L1568.3,370.4 L1569.8,371.3 L1571.3,372.4 L1572.8,373.5 L1574.3,374.8 L1575.8,376.1 L1577.3,377.4 L1578.8,378.9 L1580.3,380.4 L1581.8,382.0 L1583.3,383.6 L1584.8,385.3 L1586.3,387.0 L1587.8,388.8 L1589.3,390.6 L1590.8,392.4 L1592.3,394.2 L1593.8,396.0 L1595.3,397.9 L1596.8,399.8 L1598.3,401.6 L1599.8,403.5 L1601.3,405.4 L1602.8,407.2 L1604.3,409.1 L1605.8,410.9 L1607.3,412.7 L1608.8,414.5 L1610.3,416.2 L1611.8,417.9 L1613.3,419.5 L1614.8,421.1 L1616.3,422.7 L1617.8,424.2 L1619.3,425.6 L1620.8,427.0 L1622.3,428.3 L1623.8,429.5 L1625.3,430.6 L1626.8,431.7 L1628.3,432.6 L1629.8,433.5 L1631.3,434.4 L1632.8,435.1 L1634.3,435.9 L1635.8,436.6 L1637.3,437.3 L1638.8,438.0 L1640.3,438.7 L1641.8,439.4 L1643.3,440.2 L1644.8,441.0 L1646.0,441.7" stroke="#c5b0d5" stroke-width="3.5"/>
<path class="c" d="M1139.3,455.3 L1140.8,455.0 L1142.3,454.6 L1143.8,454.2 L1145.3,453.7 L1146.8,453.1 L1148.3,452.6 L1149.8,452.0 L1151.3,451.4 L1152.8,450.8 L1154.3,450.3 L1155.8,449.7 L1157.3,449.2 L1158.8,448.7 L1160.3,448.3 L1161.8,447.9 L1163.3,447.6 L1164.8,447.4 L1166.3,447.3 L1167.8,447.3 L1169.3,447.3 L1170.8,447.6 L1172.3,447.9 L1173.8,448.3 L1175.3,448.8 L1176.8,449.4 L1178.3,450.0 L1179.8,450.6 L1181.3,451.3 L1182.8,452.0 L1184.3,452.7 L1185.8,453.3 L1187.3,454.0 L1188.8,454.6 L1190.3,455.2 L1191.8,455.7 L1193.3,456.2 L1194.8,456.7 L1196.3,457.1 L1197.8,457.5 L1199.3,457.8 L1200.8,458.0 L1202.3,458.2 L1203.8,458.3 L1205.3,458.3 L1206.8,458.2 L1208.3,458.0 L1209.8,457.7 L1211.3,457.4 L1212.8,457.0 L1214.3,456.6 L1215.8,456.2 L1217.3,455.8 L1218.8,455.3 L1220.3,454.9 L1221.8,454.5 L1223.3,454.2 L1224.8,453.8 L1226.3,453.5 L1227.8,453.3 L1229.3,453.1 L1230.8,452.9 L1232.3,452.7 L1233.8,452.6 L1235.3,452.6 L1236.8,452.5 L1238.3,452.5 L1239.8,452.6 L1241.3,452.7 L1242.8,452.8 L1244.3,453.0 L1245.8,453.2 L1247.3,453.5 L1248.8,453.8 L1250.3,454.2 L1251.8,454.7 L1253.3,455.1 L1254.8,455.7 L1256.3,456.2 L1257.8,456.9 L1259.3,457.6 L1260.8,458.3 L1262.3,459.1 L1263.8,460.0 L1265.3,460.9 L1266.8,461.9 L1268.3,462.9 L1269.8,463.9 L1271.3,464.9 L1272.8,466.0 L1274.3,467.0 L1275.8,468.1 L1277.3,469.1 L1278.8,470.1 L1280.3,471.0 L1281.8,471.9 L1283.3,472.7 L1284.8,473.5 L1286.3,474.2 L1287.8,474.7 L1289.3,475.2 L1290.8,475.6 L1292.3,475.8 L1293.8,476.0 L1295.3,476.0 L1296.8,475.8 L1298.3,475.5 L1299.8,474.9 L1301.3,474.1 L1302.8,473.0 L1304.3,471.4 L1305.8,469.5 L1307.3,467.1 L1308.8,464.1 L1310.3,460.5 L1311.8,456.3 L1313.3,451.5 L1314.8,446.2 L1316.3,440.9 L1317.8,435.8 L1319.3,431.1 L1320.8,426.9 L1322.3,423.3 L1323.8,420.2 L1325.3,417.8 L1326.8,415.9 L1328.3,414.6 L1329.8,413.9 L1331.3,413.8 L1332.8,414.3 L1334.3,415.4 L1335.8,416.8 L1337.3,418.6 L1338.8,420.6 L1340.3,422.8 L1341.8,425.0 L1343.3,427.3 L1344.8,429.7 L1346.3,432.1 L1347.8,434.5 L1349.3,436.8 L1350.8,439.1 L1352.3,441.3 L1353.8,443.4 L1355.3,445.4 L1356.8,447.2 L1358.3,448.8 L1359.8,450.2 L1361.3,451.5 L1362.8,452.7 L1364.3,453.7 L1365.8,454.6 L1367.3,455.5 L1368.8,456.2 L1370.3,456.9 L1371.8,457.6 L1373.3,458.2 L1374.8,458.8 L1376.3,459.3 L1377.8,459.8 L1379.3,460.3 L1380.8,460.7 L1382.3,461.2 L1383.8,461.5 L1385.3,461.9 L1386.8,462.2 L1388.3,462.5 L1389.8,462.8 L1391.3,463.1 L1392.8,463.4 L1394.3,463.6 L1395.8,463.8 L1397.3,464.1 L1398.8,464.3 L1400.3,464.5 L1401.8,464.7 L1403.3,464.9 L1404.8,465.1 L1406.3,465.3 L1407.8,465.5 L1409.3,465.7 L1410.8,465.9 L1412.3,466.1 L1413.8,466.3 L1415.3,466.5 L1416.8,466.6 L1418.3,466.8 L1419.8,467.0 L1421.3,467.1 L1422.8,467.3 L1424.3,467.4 L1425.8,467.6 L1427.3,467.7 L1428.8,467.9 L1430.3,468.0 L1431.8,468.1 L1433.3,468.3 L1434.8,468.4 L1436.3,468.5 L1437.8,468.6 L1439.3,468.7 L1440.8,468.9 L1442.3,469.0 L1443.8,469.1 L1445.3,469.2 L1446.8,469.3 L1448.3,469.4 L1449.8,469.5 L1451.3,469.6 L1452.8,469.7 L1454.3,469.8 L1455.8,469.8 L1457.3,469.9 L1458.8,470.0 L1460.3,470.1 L1461.8,470.1 L1463.3,470.2 L1464.8,470.3 L1466.3,470.4 L1467.8,470.4 L1469.3,470.5 L1470.8,470.5 L1472.3,470.6 L1473.8,470.7 L1475.3,470.7 L1476.8,470.8 L1478.3,470.8 L1479.8,470.9 L1481.3,470.9 L1482.8,471.0 L1484.3,471.0 L1485.8,471.0 L1487.3,471.1 L1488.8,471.1 L1490.3,471.2 L1491.8,471.2 L1493.3,471.2 L1494.8,471.3 L1496.3,471.3 L1497.8,471.3 L1499.3,471.4 L1500.8,471.4 L1502.3,471.4 L1503.8,471.4 L1505.3,471.5 L1506.8,471.5 L1508.3,471.5 L1509.8,471.5 L1511.3,471.5 L1512.8,471.6 L1514.3,471.6 L1515.8,471.6 L1517.3,471.6 L1518.8,471.6 L1520.3,471.7 L1521.8,471.7 L1523.3,471.7 L1524.8,471.7 L1526.3,471.7 L1527.8,471.7 L1529.3,471.8 L1530.8,471.8 L1532.3,471.8 L1533.8,471.8 L1535.3,471.8 L1536.8,471.8 L1538.3,471.9 L1539.8,471.9 L1541.3,471.9 L1542.8,471.9 L1544.3,471.9 L1545.8,471.9 L1547.3,472.0 L1548.8,472.0 L1550.3,472.0 L1551.8,472.0 L1553.3,472.0 L1554.8,472.1 L1556.3,472.1 L1557.8,472.1 L1559.3,472.1 L1560.8,472.2 L1562.3,472.2 L1563.8,472.2 L1565.3,472.2 L1566.8,472.3 L1568.3,472.3 L1569.8,472.3 L1571.3,472.4 L1572.8,472.4 L1574.3,472.4 L1575.8,472.5 L1577.3,472.5 L1578.8,472.5 L1580.3,472.6 L1581.8,472.6 L1583.3,472.7 L1584.8,472.7 L1586.3,472.8 L1587.8,472.8 L1589.3,472.9 L1590.8,472.9 L1592.3,473.0 L1593.8,473.0 L1595.3,473.1 L1596.8,473.2 L1598.3,473.2 L1599.8,473.3 L1601.3,473.4 L1602.8,473.4 L1604.3,473.5 L1605.8,473.6 L1607.3,473.7 L1608.8,473.7 L1610.3,473.8 L1611.8,473.9 L1613.3,474.0 L1614.8,474.1 L1616.3,474.2 L1617.8,474.3 L1619.3,474.4 L1620.8,474.5 L1622.3,474.6 L1623.8,474.7 L1625.3,474.8 L1626.8,474.9 L1628.3,475.1 L1629.8,475.2 L1631.3,475.3 L1632.8,475.4 L1634.3,475.6 L1635.8,475.7 L1637.3,475.9 L1638.8,476.0 L1640.3,476.2 L1641.8,476.3 L1643.3,476.5 L1644.8,476.6 L1646.0,476.7" stroke="#b0b590" stroke-width="3.8"/>
<path class="c" d="M1139.3,484.2 L1140.8,483.9 L1142.3,483.7 L1143.8,483.5 L1145.3,483.3 L1146.8,483.2 L1148.3,483.0 L1149.8,482.9 L1151.3,482.8 L1152.8,482.8 L1154.3,482.7 L1155.8,482.7 L1157.3,482.6 L1158.8,482.6 L1160.3,482.6 L1161.8,482.6 L1163.3,482.7 L1164.8,482.7 L1166.3,482.8 L1167.8,482.9 L1169.3,482.9 L1170.8,483.0 L1172.3,483.1 L1173.8,483.2 L1175.3,483.4 L1176.8,483.5 L1178.3,483.6 L1179.8,483.7 L1181.3,483.9 L1182.8,484.0 L1184.3,484.2 L1185.8,484.3 L1187.3,484.5 L1188.8,484.7 L1190.3,484.8 L1191.8,485.0 L1193.3,485.2 L1194.8,485.3 L1196.3,485.5 L1197.8,485.6 L1199.3,485.8 L1200.8,485.9 L1202.3,486.1 L1203.8,486.2 L1205.3,486.4 L1206.8,486.5 L1208.3,486.6 L1209.8,486.7 L1211.3,486.8 L1212.8,486.9 L1214.3,487.0 L1215.8,487.1 L1217.3,487.2 L1218.8,487.3 L1220.3,487.3 L1221.8,487.4 L1223.3,487.4 L1224.8,487.5 L1226.3,487.5 L1227.8,487.5 L1229.3,487.5 L1230.8,487.5 L1232.3,487.5 L1233.8,487.5 L1235.3,487.5 L1236.8,487.4 L1238.3,487.4 L1239.8,487.4 L1241.3,487.3 L1242.8,487.2 L1244.3,487.1 L1245.8,487.1 L1247.3,487.0 L1248.8,486.9 L1250.3,486.7 L1251.8,486.6 L1253.3,486.5 L1254.8,486.4 L1256.3,486.2 L1257.8,486.0 L1259.3,485.9 L1260.8,485.7 L1262.3,485.5 L1263.8,485.3 L1265.3,485.1 L1266.8,484.9 L1268.3,484.6 L1269.8,484.4 L1271.3,484.2 L1272.8,483.9 L1274.3,483.6 L1275.8,483.3 L1277.3,483.1 L1278.8,482.7 L1280.3,482.4 L1281.8,482.1 L1283.3,481.8 L1284.8,481.5 L1286.3,481.2 L1287.8,480.9 L1289.3,480.7 L1290.8,480.5 L1292.3,480.3 L1293.8,480.2 L1295.3,480.1 L1296.8,480.2 L1298.3,480.3 L1299.8,480.4 L1301.3,480.7 L1302.8,481.1 L1304.3,481.6 L1305.8,482.2 L1307.3,482.8 L1308.8,483.4 L1310.3,484.0 L1311.8,484.5 L1313.3,484.8 L1314.8,485.1 L1316.3,485.3 L1317.8,485.5 L1319.3,485.5 L1320.8,485.5 L1322.3,485.4 L1323.8,485.3 L1325.3,485.2 L1326.8,485.0 L1328.3,484.9 L1329.8,484.7 L1331.3,484.5 L1332.8,484.3 L1334.3,484.1 L1335.8,484.0 L1337.3,483.8 L1338.8,483.6 L1340.3,483.5 L1341.8,483.3 L1343.3,483.2 L1344.8,483.1 L1346.3,483.0 L1347.8,482.9 L1349.3,482.8 L1350.8,482.7 L1352.3,482.7 L1353.8,482.6 L1355.3,482.6 L1356.8,482.6 L1358.3,482.5 L1359.8,482.5 L1361.3,482.5 L1362.8,482.5 L1364.3,482.6 L1365.8,482.6 L1367.3,482.6 L1368.8,482.6 L1370.3,482.7 L1371.8,482.7 L1373.3,482.8 L1374.8,482.8 L1376.3,482.9 L1377.8,483.0 L1379.3,483.0 L1380.8,483.1 L1382.3,483.2 L1383.8,483.2 L1385.3,483.3 L1386.8,483.4 L1388.3,483.5 L1389.8,483.5 L1391.3,483.6 L1392.8,483.7 L1394.3,483.8 L1395.8,483.8 L1397.3,483.9 L1398.8,484.0 L1400.3,484.0 L1401.8,484.1 L1403.3,484.2 L1404.8,484.2 L1406.3,484.3 L1407.8,484.3 L1409.3,484.4 L1410.8,484.4 L1412.3,484.4 L1413.8,484.5 L1415.3,484.5 L1416.8,484.5 L1418.3,484.5 L1419.8,484.6 L1421.3,484.6 L1422.8,484.6 L1424.3,484.6 L1425.8,484.6 L1427.3,484.6 L1428.8,484.6 L1430.3,484.6 L1431.8,484.6 L1433.3,484.6 L1434.8,484.6 L1436.3,484.6 L1437.8,484.6 L1439.3,484.5 L1440.8,484.5 L1442.3,484.5 L1443.8,484.5 L1445.3,484.4 L1446.8,484.4 L1448.3,484.4 L1449.8,484.4 L1451.3,484.3 L1452.8,484.3 L1454.3,484.3 L1455.8,484.2 L1457.3,484.2 L1458.8,484.1 L1460.3,484.1 L1461.8,484.1 L1463.3,484.0 L1464.8,484.0 L1466.3,483.9 L1467.8,483.9 L1469.3,483.8 L1470.8,483.8 L1472.3,483.8 L1473.8,483.7 L1475.3,483.7 L1476.8,483.6 L1478.3,483.6 L1479.8,483.5 L1481.3,483.5 L1482.8,483.4 L1484.3,483.4 L1485.8,483.3 L1487.3,483.3 L1488.8,483.2 L1490.3,483.2 L1491.8,483.2 L1493.3,483.1 L1494.8,483.1 L1496.3,483.0 L1497.8,483.0 L1499.3,482.9 L1500.8,482.9 L1502.3,482.9 L1503.8,482.8 L1505.3,482.8 L1506.8,482.8 L1508.3,482.7 L1509.8,482.7 L1511.3,482.7 L1512.8,482.6 L1514.3,482.6 L1515.8,482.6 L1517.3,482.6 L1518.8,482.5 L1520.3,482.5 L1521.8,482.5 L1523.3,482.5 L1524.8,482.5 L1526.3,482.5 L1527.8,482.5 L1529.3,482.5 L1530.8,482.5 L1532.3,482.5 L1533.8,482.5 L1535.3,482.5 L1536.8,482.5 L1538.3,482.5 L1539.8,482.5 L1541.3,482.5 L1542.8,482.5 L1544.3,482.5 L1545.8,482.6 L1547.3,482.6 L1548.8,482.6 L1550.3,482.6 L1551.8,482.7 L1553.3,482.7 L1554.8,482.7 L1556.3,482.7 L1557.8,482.8 L1559.3,482.8 L1560.8,482.9 L1562.3,482.9 L1563.8,482.9 L1565.3,483.0 L1566.8,483.0 L1568.3,483.1 L1569.8,483.1 L1571.3,483.2 L1572.8,483.2 L1574.3,483.3 L1575.8,483.3 L1577.3,483.4 L1578.8,483.4 L1580.3,483.5 L1581.8,483.6 L1583.3,483.6 L1584.8,483.7 L1586.3,483.7 L1587.8,483.8 L1589.3,483.9 L1590.8,483.9 L1592.3,484.0 L1593.8,484.1 L1595.3,484.1 L1596.8,484.2 L1598.3,484.3 L1599.8,484.4 L1601.3,484.4 L1602.8,484.5 L1604.3,484.6 L1605.8,484.7 L1607.3,484.7 L1608.8,484.8 L1610.3,484.9 L1611.8,485.0 L1613.3,485.1 L1614.8,485.2 L1616.3,485.2 L1617.8,485.3 L1619.3,485.4 L1620.8,485.5 L1622.3,485.6 L1623.8,485.7 L1625.3,485.8 L1626.8,485.8 L1628.3,485.9 L1629.8,486.0 L1631.3,486.1 L1632.8,486.2 L1634.3,486.3 L1635.8,486.4 L1637.3,486.5 L1638.8,486.6 L1640.3,486.7 L1641.8,486.8 L1643.3,486.9 L1644.8,487.0 L1646.0,487.0" stroke="#aee5ec" stroke-width="3.6"/>
<path class="c" d="M1139.3,356.7 L1140.8,355.4 L1142.3,353.7 L1143.8,351.7 L1145.3,349.5 L1146.8,347.2 L1148.3,344.7 L1149.8,342.1 L1151.3,339.6 L1152.8,337.1 L1154.3,334.7 L1155.8,332.5 L1157.3,330.6 L1158.8,329.0 L1160.3,327.7 L1161.8,326.9 L1163.3,326.6 L1164.8,326.8 L1166.3,327.5 L1167.8,328.9 L1169.3,330.7 L1170.8,333.1 L1172.3,336.0 L1173.8,339.4 L1175.3,343.1 L1176.8,347.0 L1178.3,351.0 L1179.8,354.9 L1181.3,358.5 L1182.8,361.7 L1184.3,364.5 L1185.8,366.9 L1187.3,368.9 L1188.8,370.7 L1190.3,372.2 L1191.8,373.5 L1193.3,374.7 L1194.8,375.8 L1196.3,376.8 L1197.8,377.6 L1199.3,378.4 L1200.8,378.9 L1202.3,379.3 L1203.8,379.5 L1205.3,379.5 L1206.8,379.3 L1208.3,378.9 L1209.8,378.2 L1211.3,377.4 L1212.8,376.5 L1214.3,375.4 L1215.8,374.1 L1217.3,372.7 L1218.8,371.2 L1220.3,369.6 L1221.8,367.9 L1223.3,366.1 L1224.8,364.3 L1226.3,362.4 L1227.8,360.4 L1229.3,358.4 L1230.8,356.4 L1232.3,354.4 L1233.8,352.4 L1235.3,350.4 L1236.8,348.4 L1238.3,346.5 L1239.8,344.7 L1241.3,342.9 L1242.8,341.1 L1244.3,339.5 L1245.8,338.0 L1247.3,336.6 L1248.8,335.3 L1250.3,334.2 L1251.8,333.3 L1253.3,332.7 L1254.8,332.2 L1256.3,332.0 L1257.8,332.1 L1259.3,332.5 L1260.8,333.2 L1262.3,334.2 L1263.8,335.6 L1265.3,337.4 L1266.8,339.6 L1268.3,342.2 L1269.8,345.1 L1271.3,348.3 L1272.8,351.6 L1274.3,355.0 L1275.8,358.4 L1277.3,361.8 L1278.8,365.0 L1280.3,368.0 L1281.8,370.9 L1283.3,373.5 L1284.8,375.8 L1286.3,377.8 L1287.8,379.5 L1289.3,380.9 L1290.8,381.8 L1292.3,382.4 L1293.8,382.5 L1295.3,382.0 L1296.8,381.1 L1298.3,379.5 L1299.8,377.2 L1301.3,374.2 L1302.8,370.3 L1304.3,365.5 L1305.8,359.9 L1307.3,353.4 L1308.8,346.1 L1310.3,337.9 L1311.8,329.0 L1313.3,319.5 L1314.8,309.5 L1316.3,299.3 L1317.8,289.0 L1319.3,278.8 L1320.8,268.8 L1322.3,259.1 L1323.8,249.8 L1325.3,241.1 L1326.8,232.8 L1328.3,225.1 L1329.8,218.0 L1331.3,211.4 L1332.8,205.5 L1334.3,200.1 L1335.8,195.3 L1337.3,191.1 L1338.8,187.5 L1340.3,184.4 L1341.8,181.7 L1343.3,179.3 L1344.8,177.1 L1346.3,175.1 L1347.8,173.2 L1349.3,171.4 L1350.8,169.7 L1352.3,168.1 L1353.8,166.6 L1355.3,165.2 L1356.8,163.9 L1358.3,162.7 L1359.8,161.6 L1361.3,160.6 L1362.8,159.6 L1364.3,158.7 L1365.8,157.9 L1367.3,157.1 L1368.8,156.4 L1370.3,155.8 L1371.8,155.2 L1373.3,154.6 L1374.8,154.1 L1376.3,153.6 L1377.8,153.2 L1379.3,152.7 L1380.8,152.4 L1382.3,152.0 L1383.8,151.6 L1385.3,151.3 L1386.8,150.9 L1388.3,150.6 L1389.8,150.3 L1391.3,150.0 L1392.8,149.7 L1394.3,149.4 L1395.8,149.2 L1397.3,148.9 L1398.8,148.7 L1400.3,148.5 L1401.8,148.2 L1403.3,148.0 L1404.8,147.8 L1406.3,147.6 L1407.8,147.5 L1409.3,147.3 L1410.8,147.1 L1412.3,147.0 L1413.8,146.8 L1415.3,146.7 L1416.8,146.6 L1418.3,146.5 L1419.8,146.3 L1421.3,146.2 L1422.8,146.2 L1424.3,146.1 L1425.8,146.0 L1427.3,145.9 L1428.8,145.9 L1430.3,145.8 L1431.8,145.8 L1433.3,145.7 L1434.8,145.7 L1436.3,145.7 L1437.8,145.6 L1439.3,145.6 L1440.8,145.6 L1442.3,145.6 L1443.8,145.6 L1445.3,145.6 L1446.8,145.6 L1448.3,145.6 L1449.8,145.7 L1451.3,145.7 L1452.8,145.7 L1454.3,145.7 L1455.8,145.7 L1457.3,145.7 L1458.8,145.7 L1460.3,145.7 L1461.8,145.6 L1463.3,145.6 L1464.8,145.6 L1466.3,145.5 L1467.8,145.4 L1469.3,145.3 L1470.8,145.2 L1472.3,145.1 L1473.8,144.9 L1475.3,144.7 L1476.8,144.5 L1478.3,144.3 L1479.8,144.0 L1481.3,143.7 L1482.8,143.4 L1484.3,143.0 L1485.8,142.6 L1487.3,142.1 L1488.8,141.6 L1490.3,141.0 L1491.8,140.3 L1493.3,139.7 L1494.8,138.9 L1496.3,138.1 L1497.8,137.2 L1499.3,136.3 L1500.8,135.3 L1502.3,134.2 L1503.8,133.0 L1505.3,131.8 L1506.8,130.5 L1508.3,129.1 L1509.8,127.6 L1511.3,126.0 L1512.8,124.3 L1514.3,122.6 L1515.8,120.7 L1517.3,118.8 L1518.8,116.8 L1520.3,114.8 L1521.8,112.7 L1523.3,110.5 L1524.8,108.3 L1526.3,106.1 L1527.8,103.9 L1529.3,101.7 L1530.8,99.5 L1532.3,97.3 L1533.8,95.1 L1535.3,93.0 L1536.8,90.9 L1538.3,88.8 L1539.8,86.9 L1541.3,85.0 L1542.8,83.1 L1544.3,81.4 L1545.8,79.8 L1547.3,78.3 L1548.8,76.8 L1550.3,75.6 L1551.8,74.4 L1553.3,73.4 L1554.8,72.6 L1556.3,71.9 L1557.8,71.4 L1559.3,71.0 L1560.8,70.8 L1562.3,70.8 L1563.8,71.0 L1565.3,71.3 L1566.8,71.8 L1568.3,72.5 L1569.8,73.4 L1571.3,74.5 L1572.8,75.8 L1574.3,77.3 L1575.8,79.0 L1577.3,80.8 L1578.8,82.9 L1580.3,85.0 L1581.8,87.3 L1583.3,89.7 L1584.8,92.2 L1586.3,94.7 L1587.8,97.3 L1589.3,100.0 L1590.8,102.6 L1592.3,105.3 L1593.8,108.1 L1595.3,110.9 L1596.8,113.7 L1598.3,116.5 L1599.8,119.3 L1601.3,122.2 L1602.8,125.0 L1604.3,127.9 L1605.8,130.7 L1607.3,133.6 L1608.8,136.5 L1610.3,139.3 L1611.8,142.1 L1613.3,145.0 L1614.8,147.8 L1616.3,150.5 L1617.8,153.3 L1619.3,156.0 L1620.8,158.7 L1622.3,161.3 L1623.8,163.9 L1625.3,166.4 L1626.8,168.9 L1628.3,171.4 L1629.8,173.8 L1631.3,176.1 L1632.8,178.4 L1634.3,180.7 L1635.8,183.0 L1637.3,185.3 L1638.8,187.6 L1640.3,189.9 L1641.8,192.2 L1643.3,194.5 L1644.8,196.8 L1646.0,198.7" stroke="#ff0000" stroke-width="4.0"/>
</g>
<g clip-path="url(#cp10)">
<path class="c" d="M129.3,846.7 L130.8,850.1 L132.3,853.5 L133.8,856.9 L135.3,860.4 L136.8,863.9 L138.3,867.5 L139.8,870.9 L141.3,874.4 L142.8,877.7 L144.3,881.0 L145.8,884.1 L147.3,887.1 L148.8,889.9 L150.3,892.6 L151.8,895.0 L153.3,897.1 L154.8,899.0 L156.3,900.7 L157.8,902.0 L159.3,902.9 L160.8,903.5 L162.3,903.6 L163.8,903.2 L165.3,902.1 L166.8,900.4 L168.3,897.8 L169.8,894.5 L171.3,890.2 L172.8,884.8 L174.3,878.5 L175.8,870.9 L177.3,862.2 L178.8,852.3 L180.3,841.8 L181.8,831.1 L183.3,820.4 L184.8,810.3 L186.3,800.7 L187.8,791.5 L189.3,782.3 L190.8,773.1 L192.3,763.6 L193.8,754.0 L195.3,744.4 L196.8,735.4 L198.3,727.1 L199.8,720.0 L201.3,713.9 L202.8,708.8 L204.3,704.6 L205.8,701.3 L207.3,698.8 L208.8,697.2 L210.3,696.2 L211.8,696.0 L213.3,696.4 L214.8,697.3 L216.3,698.8 L217.8,700.7 L219.3,703.0 L220.8,705.7 L222.3,708.6 L223.8,711.8 L225.3,715.1 L226.8,718.5 L228.3,722.0 L229.8,725.4 L231.3,728.9 L232.8,732.3 L234.3,735.7 L235.8,739.1 L237.3,742.4 L238.8,745.8 L240.3,749.0 L241.8,752.3 L243.3,755.5 L244.8,758.7 L246.3,761.8 L247.8,764.9 L249.3,768.0 L250.8,771.0 L252.3,774.0 L253.8,777.0 L255.3,779.9 L256.8,782.8 L258.3,785.6 L259.8,788.4 L261.3,791.2 L262.8,794.0 L264.3,796.7 L265.8,799.3 L267.3,802.0 L268.8,804.6 L270.3,807.1 L271.8,809.7 L273.3,812.2 L274.8,814.6 L276.3,817.1 L277.8,819.5 L279.3,821.9 L280.8,824.2 L282.3,826.5 L283.8,828.8 L285.3,831.0 L286.8,833.2 L288.3,835.4 L289.8,837.6 L291.3,839.7 L292.8,841.8 L294.3,843.8 L295.8,845.8 L297.3,847.8 L298.8,849.8 L300.3,851.8 L301.8,853.7 L303.3,855.5 L304.8,857.3 L306.3,859.1 L307.8,860.9 L309.3,862.5 L310.8,864.2 L312.3,865.8 L313.8,867.3 L315.3,868.8 L316.8,870.2 L318.3,871.6 L319.8,872.9 L321.3,874.1 L322.8,875.2 L324.3,876.3 L325.8,877.3 L327.3,878.2 L328.8,879.0 L330.3,879.7 L331.8,880.2 L333.3,880.5 L334.8,880.7 L336.3,880.7 L337.8,880.4 L339.3,880.1 L340.8,879.7 L342.3,879.1 L343.8,878.6 L345.3,878.1 L346.8,877.6 L348.3,877.1 L349.8,876.8 L351.3,876.5 L352.8,876.3 L354.3,876.1 L355.8,876.1 L357.3,876.0 L358.8,876.1 L360.3,876.2 L361.8,876.4 L363.3,876.6 L364.8,876.9 L366.3,877.3 L367.8,877.7 L369.3,878.1 L370.8,878.6 L372.3,879.1 L373.8,879.6 L375.3,880.2 L376.8,880.7 L378.3,881.3 L379.8,882.0 L381.3,882.6 L382.8,883.3 L384.3,883.9 L385.8,884.5 L387.3,885.2 L388.8,885.8 L390.3,886.5 L391.8,887.1 L393.3,887.7 L394.8,888.4 L396.3,889.0 L397.8,889.6 L399.3,890.2 L400.8,890.8 L402.3,891.4 L403.8,892.0 L405.3,892.6 L406.8,893.2 L408.3,893.8 L409.8,894.4 L411.3,895.0 L412.8,895.6 L414.3,896.1 L415.8,896.7 L417.3,897.3 L418.8,897.8 L420.3,898.4 L421.8,899.0 L423.3,899.5 L424.8,900.1 L426.3,900.6 L427.8,901.1 L429.3,901.7 L430.8,902.2 L432.3,902.8 L433.8,903.3 L435.3,903.8 L436.8,904.3 L438.3,904.9 L439.8,905.4 L441.3,905.9 L442.8,906.4 L444.3,906.9 L445.8,907.4 L447.3,907.9 L448.8,908.4 L450.3,908.9 L451.8,909.4 L453.3,909.9 L454.8,910.4 L456.3,910.9 L457.8,911.3 L459.3,911.8 L460.8,912.3 L462.3,912.8 L463.8,913.2 L465.3,913.7 L466.8,914.2 L468.3,914.6 L469.8,915.1 L471.3,915.6 L472.8,916.0 L474.3,916.5 L475.8,916.9 L477.3,917.4 L478.8,917.8 L480.3,918.3 L481.8,918.7 L483.3,919.2 L484.8,919.6 L486.3,920.1 L487.8,920.5 L489.3,920.9 L490.8,921.4 L492.3,921.8 L493.8,922.2 L495.3,922.6 L496.8,923.1 L498.3,923.5 L499.8,923.9 L501.3,924.3 L502.8,924.7 L504.3,925.1 L505.8,925.5 L507.3,925.9 L508.8,926.4 L510.3,926.8 L511.8,927.2 L513.3,927.5 L514.8,927.9 L516.3,928.3 L517.8,928.7 L519.3,929.1 L520.8,929.5 L522.3,929.9 L523.8,930.3 L525.3,930.6 L526.8,931.0 L528.3,931.4 L529.8,931.7 L531.3,932.1 L532.8,932.5 L534.3,932.8 L535.8,933.2 L537.3,933.6 L538.8,933.9 L540.3,934.3 L541.8,934.6 L543.3,935.0 L544.8,935.3 L546.3,935.7 L547.8,936.0 L549.3,936.3 L550.8,936.7 L552.3,937.0 L553.8,937.3 L555.3,937.7 L556.8,938.0 L558.3,938.3 L559.8,938.6 L561.3,938.9 L562.8,939.3 L564.3,939.6 L565.8,939.9 L567.3,940.2 L568.8,940.5 L570.3,940.8 L571.8,941.1 L573.3,941.4 L574.8,941.7 L576.3,942.0 L577.8,942.3 L579.3,942.6 L580.8,942.8 L582.3,943.1 L583.8,943.4 L585.3,943.7 L586.8,944.0 L588.3,944.2 L589.8,944.5 L591.3,944.8 L592.8,945.0 L594.3,945.3 L595.8,945.5 L597.3,945.8 L598.8,946.1 L600.3,946.3 L601.8,946.5 L603.3,946.8 L604.8,947.0 L606.3,947.3 L607.8,947.5 L609.3,947.7 L610.8,948.0 L612.3,948.2 L613.8,948.4 L615.3,948.7 L616.8,948.9 L618.3,949.1 L619.8,949.3 L621.3,949.5 L622.8,949.7 L624.3,949.9 L625.8,950.1 L627.3,950.3 L628.8,950.5 L630.3,950.7 L631.8,950.9 L633.3,951.1 L634.8,951.3 L636.3,951.5 L637.3,951.6" stroke="#ffc694" stroke-width="3.24"/>
<path class="c" d="M130.0,986.0 L131.5,985.5 L133.0,985.1 L134.5,984.8 L136.0,984.6 L137.5,984.6 L139.0,984.6 L140.5,984.7 L142.0,984.9 L143.5,985.1 L145.0,985.3 L146.5,985.5 L148.0,985.7 L149.5,985.9 L151.0,986.1 L152.5,986.3 L154.0,986.3 L155.5,986.3 L157.0,986.2 L158.5,986.0 L160.0,985.7 L161.5,985.2 L163.0,984.5 L164.5,983.7 L166.0,982.7 L167.5,981.4 L169.0,979.8 L170.5,978.0 L172.0,975.8 L173.5,973.3 L175.0,970.4 L176.5,967.1 L178.0,963.5 L179.5,959.7 L181.0,955.8 L182.5,951.8 L184.0,947.9 L185.5,944.2 L187.0,940.8 L188.5,937.7 L190.0,935.0 L191.5,932.7 L193.0,930.9 L194.5,929.3 L196.0,928.1 L197.5,927.2 L199.0,926.6 L200.5,926.2 L202.0,926.1 L203.5,926.2 L205.0,926.4 L206.5,926.9 L208.0,927.5 L209.5,928.3 L211.0,929.1 L212.5,930.1 L214.0,931.1 L215.5,932.2 L217.0,933.4 L218.5,934.5 L220.0,935.7 L221.5,936.8 L223.0,937.9 L224.5,939.0 L226.0,940.0 L227.5,940.9 L229.0,941.8 L230.5,942.7 L232.0,943.5 L233.5,944.3 L235.0,945.0 L236.5,945.7 L238.0,946.3 L239.5,946.9 L241.0,947.4 L242.5,947.9 L244.0,948.3 L245.5,948.7 L247.0,949.1 L248.5,949.4 L250.0,949.6 L251.5,949.8 L253.0,949.9 L254.5,950.0 L256.0,950.1 L257.5,950.0 L259.0,950.0 L260.5,949.8 L262.0,949.6 L263.5,949.2 L265.0,948.8 L266.5,948.2 L268.0,947.5 L269.5,946.7 L271.0,945.7 L272.5,944.6 L274.0,943.3 L275.5,941.9 L277.0,940.2 L278.5,938.4 L280.0,936.4 L281.5,934.1 L283.0,931.6 L284.5,928.9 L286.0,926.0 L287.5,922.8 L289.0,919.3 L290.5,915.6 L292.0,911.6 L293.5,907.3 L295.0,902.7 L296.5,897.8 L298.0,892.6 L299.5,887.0 L301.0,881.1 L302.5,874.8 L304.0,868.2 L305.5,861.2 L307.0,853.8 L308.5,846.0 L310.0,837.9 L311.5,829.5 L313.0,821.2 L314.5,813.0 L316.0,805.1 L317.5,797.5 L319.0,789.9 L320.5,782.3 L322.0,774.3 L323.5,765.9 L325.0,757.5 L326.5,749.5 L328.0,742.1 L329.5,735.7 L331.0,730.8 L332.5,727.3 L334.0,725.0 L335.5,724.0 L337.0,723.9 L338.5,724.7 L340.0,726.5 L341.5,729.2 L343.0,732.8 L344.5,737.3 L346.0,742.6 L347.5,748.6 L349.0,755.1 L350.5,762.0 L352.0,769.1 L353.5,776.4 L355.0,783.8 L356.5,791.3 L358.0,798.6 L359.5,805.9 L361.0,813.0 L362.5,820.0 L364.0,826.9 L365.5,833.5 L367.0,840.0 L368.5,846.3 L370.0,852.4 L371.5,858.3 L373.0,863.8 L374.5,869.1 L376.0,874.1 L377.5,878.9 L379.0,883.4 L380.5,887.7 L382.0,891.8 L383.5,895.6 L385.0,899.2 L386.5,902.7 L388.0,906.0 L389.5,909.1 L391.0,912.1 L392.5,914.9 L394.0,917.6 L395.5,920.2 L397.0,922.7 L398.5,925.1 L400.0,927.4 L401.5,929.5 L403.0,931.6 L404.5,933.6 L406.0,935.4 L407.5,937.2 L409.0,939.0 L410.5,940.6 L412.0,942.2 L413.5,943.6 L415.0,945.1 L416.5,946.4 L418.0,947.7 L419.5,948.9 L421.0,950.1 L422.5,951.3 L424.0,952.3 L425.5,953.4 L427.0,954.4 L428.5,955.4 L430.0,956.3 L431.5,957.2 L433.0,958.1 L434.5,958.9 L436.0,959.8 L437.5,960.6 L439.0,961.4 L440.5,962.1 L442.0,962.8 L443.5,963.5 L445.0,964.2 L446.5,964.9 L448.0,965.5 L449.5,966.1 L451.0,966.7 L452.5,967.3 L454.0,967.9 L455.5,968.4 L457.0,968.9 L458.5,969.4 L460.0,969.9 L461.5,970.4 L463.0,970.8 L464.5,971.3 L466.0,971.7 L467.5,972.1 L469.0,972.5 L470.5,972.8 L472.0,973.2 L473.5,973.5 L475.0,973.9 L476.5,974.2 L478.0,974.5 L479.5,974.8 L481.0,975.1 L482.5,975.4 L484.0,975.7 L485.5,975.9 L487.0,976.2 L488.5,976.4 L490.0,976.7 L491.5,976.9 L493.0,977.2 L494.5,977.4 L496.0,977.6 L497.5,977.8 L499.0,978.0 L500.5,978.2 L502.0,978.4 L503.5,978.6 L505.0,978.8 L506.5,979.0 L508.0,979.2 L509.5,979.4 L511.0,979.6 L512.5,979.8 L514.0,979.9 L515.5,980.1 L517.0,980.3 L518.5,980.4 L520.0,980.6 L521.5,980.8 L523.0,980.9 L524.5,981.1 L526.0,981.2 L527.5,981.4 L529.0,981.5 L530.5,981.7 L532.0,981.8 L533.5,981.9 L535.0,982.1 L536.5,982.2 L538.0,982.3 L539.5,982.4 L541.0,982.6 L542.5,982.7 L544.0,982.8 L545.5,982.9 L547.0,983.0 L548.5,983.1 L550.0,983.2 L551.5,983.4 L553.0,983.5 L554.5,983.6 L556.0,983.7 L557.5,983.8 L559.0,983.9 L560.5,983.9 L562.0,984.0 L563.5,984.1 L565.0,984.2 L566.5,984.3 L568.0,984.4 L569.5,984.5 L571.0,984.6 L572.5,984.6 L574.0,984.7 L575.5,984.8 L577.0,984.9 L578.5,984.9 L580.0,985.0 L581.5,985.1 L583.0,985.2 L584.5,985.2 L586.0,985.3 L587.5,985.4 L589.0,985.4 L590.5,985.5 L592.0,985.6 L593.5,985.6 L595.0,985.7 L596.5,985.8 L598.0,985.8 L599.5,985.9 L601.0,985.9 L602.5,986.0 L604.0,986.1 L605.5,986.1 L607.0,986.2 L608.5,986.2 L610.0,986.3 L611.5,986.4 L613.0,986.4 L614.5,986.5 L616.0,986.5 L617.5,986.6 L619.0,986.7 L620.5,986.7 L622.0,986.8 L623.5,986.8 L625.0,986.9 L626.5,987.0 L628.0,987.0 L629.5,987.1 L631.0,987.2 L632.5,987.2 L634.0,987.3 L635.5,987.3 L637.0,987.4 L637.3,987.4" stroke="#c5b0d5" stroke-width="3.15"/>
<path class="c" d="M130.0,959.1 L131.5,959.9 L133.0,960.8 L134.5,961.7 L136.0,962.6 L137.5,963.5 L139.0,964.4 L140.5,965.4 L142.0,966.2 L143.5,967.1 L145.0,968.0 L146.5,968.8 L148.0,969.6 L149.5,970.4 L151.0,971.1 L152.5,971.8 L154.0,972.4 L155.5,972.9 L157.0,973.4 L158.5,973.9 L160.0,974.2 L161.5,974.5 L163.0,974.7 L164.5,974.8 L166.0,974.8 L167.5,974.7 L169.0,974.5 L170.5,974.2 L172.0,973.8 L173.5,973.3 L175.0,972.7 L176.5,972.0 L178.0,971.3 L179.5,970.5 L181.0,969.6 L182.5,968.7 L184.0,967.8 L185.5,966.9 L187.0,966.0 L188.5,965.1 L190.0,964.2 L191.5,963.3 L193.0,962.4 L194.5,961.7 L196.0,960.9 L197.5,960.2 L199.0,959.6 L200.5,959.1 L202.0,958.7 L203.5,958.3 L205.0,958.0 L206.5,957.8 L208.0,957.7 L209.5,957.6 L211.0,957.6 L212.5,957.6 L214.0,957.7 L215.5,957.9 L217.0,958.1 L218.5,958.3 L220.0,958.6 L221.5,958.9 L223.0,959.3 L224.5,959.7 L226.0,960.1 L227.5,960.6 L229.0,961.0 L230.5,961.5 L232.0,962.0 L233.5,962.5 L235.0,963.0 L236.5,963.6 L238.0,964.1 L239.5,964.6 L241.0,965.1 L242.5,965.6 L244.0,966.1 L245.5,966.6 L247.0,967.0 L248.5,967.5 L250.0,968.0 L251.5,968.4 L253.0,968.9 L254.5,969.3 L256.0,969.7 L257.5,970.1 L259.0,970.6 L260.5,971.0 L262.0,971.4 L263.5,971.8 L265.0,972.1 L266.5,972.5 L268.0,972.9 L269.5,973.3 L271.0,973.6 L272.5,974.0 L274.0,974.3 L275.5,974.7 L277.0,975.0 L278.5,975.4 L280.0,975.7 L281.5,976.0 L283.0,976.3 L284.5,976.6 L286.0,976.9 L287.5,977.2 L289.0,977.5 L290.5,977.8 L292.0,978.0 L293.5,978.3 L295.0,978.5 L296.5,978.8 L298.0,979.0 L299.5,979.2 L301.0,979.4 L302.5,979.6 L304.0,979.8 L305.5,980.0 L307.0,980.2 L308.5,980.4 L310.0,980.5 L311.5,980.7 L313.0,980.8 L314.5,981.0 L316.0,981.1 L317.5,981.2 L319.0,981.3 L320.5,981.4 L322.0,981.5 L323.5,981.5 L325.0,981.6 L326.5,981.6 L328.0,981.7 L329.5,981.7 L331.0,981.7 L332.5,981.7 L334.0,981.7 L335.5,981.7 L337.0,981.6 L338.5,981.6 L340.0,981.6 L341.5,981.5 L343.0,981.5 L344.5,981.4 L346.0,981.4 L347.5,981.4 L349.0,981.3 L350.5,981.3 L352.0,981.3 L353.5,981.2 L355.0,981.2 L356.5,981.2 L358.0,981.2 L359.5,981.3 L361.0,981.3 L362.5,981.3 L364.0,981.4 L365.5,981.5 L367.0,981.5 L368.5,981.6 L370.0,981.7 L371.5,981.8 L373.0,981.9 L374.5,982.0 L376.0,982.1 L377.5,982.2 L379.0,982.3 L380.5,982.4 L382.0,982.5 L383.5,982.6 L385.0,982.8 L386.5,982.9 L388.0,983.0 L389.5,983.1 L391.0,983.2 L392.5,983.3 L394.0,983.4 L395.5,983.4 L397.0,983.5 L398.5,983.6 L400.0,983.7 L401.5,983.8 L403.0,983.9 L404.5,984.0 L406.0,984.1 L407.5,984.2 L409.0,984.3 L410.5,984.4 L412.0,984.5 L413.5,984.5 L415.0,984.6 L416.5,984.7 L418.0,984.8 L419.5,984.9 L421.0,985.0 L422.5,985.1 L424.0,985.1 L425.5,985.2 L427.0,985.3 L428.5,985.4 L430.0,985.4 L431.5,985.5 L433.0,985.6 L434.5,985.7 L436.0,985.7 L437.5,985.8 L439.0,985.9 L440.5,986.0 L442.0,986.0 L443.5,986.1 L445.0,986.2 L446.5,986.2 L448.0,986.3 L449.5,986.4 L451.0,986.4 L452.5,986.5 L454.0,986.6 L455.5,986.6 L457.0,986.7 L458.5,986.7 L460.0,986.8 L461.5,986.9 L463.0,986.9 L464.5,987.0 L466.0,987.0 L467.5,987.1 L469.0,987.1 L470.5,987.2 L472.0,987.2 L473.5,987.3 L475.0,987.3 L476.5,987.4 L478.0,987.4 L479.5,987.5 L481.0,987.5 L482.5,987.6 L484.0,987.6 L485.5,987.7 L487.0,987.7 L488.5,987.7 L490.0,987.8 L491.5,987.8 L493.0,987.9 L494.5,987.9 L496.0,987.9 L497.5,988.0 L499.0,988.0 L500.5,988.0 L502.0,988.1 L503.5,988.1 L505.0,988.1 L506.5,988.2 L508.0,988.2 L509.5,988.2 L511.0,988.3 L512.5,988.3 L514.0,988.3 L515.5,988.3 L517.0,988.3 L518.5,988.4 L520.0,988.4 L521.5,988.4 L523.0,988.4 L524.5,988.5 L526.0,988.5 L527.5,988.5 L529.0,988.5 L530.5,988.5 L532.0,988.5 L533.5,988.6 L535.0,988.6 L536.5,988.6 L538.0,988.6 L539.5,988.6 L541.0,988.6 L542.5,988.6 L544.0,988.6 L545.5,988.6 L547.0,988.7 L548.5,988.7 L550.0,988.7 L551.5,988.7 L553.0,988.7 L554.5,988.7 L556.0,988.7 L557.5,988.7 L559.0,988.7 L560.5,988.7 L562.0,988.7 L563.5,988.7 L565.0,988.7 L566.5,988.7 L568.0,988.7 L569.5,988.8 L571.0,988.8 L572.5,988.8 L574.0,988.8 L575.5,988.8 L577.0,988.8 L578.5,988.8 L580.0,988.8 L581.5,988.8 L583.0,988.8 L584.5,988.8 L586.0,988.8 L587.5,988.8 L589.0,988.8 L590.5,988.8 L592.0,988.8 L593.5,988.8 L595.0,988.8 L596.5,988.8 L598.0,988.8 L599.5,988.8 L601.0,988.8 L602.5,988.8 L604.0,988.9 L605.5,988.9 L607.0,988.9 L608.5,988.9 L610.0,988.9 L611.5,988.9 L613.0,988.9 L614.5,988.9 L616.0,988.9 L617.5,988.9 L619.0,988.9 L620.5,988.9 L622.0,989.0 L623.5,989.0 L625.0,989.0 L626.5,989.0 L628.0,989.0 L629.5,989.0 L631.0,989.0 L632.5,989.0 L634.0,989.1 L635.5,989.1 L637.0,989.1 L637.3,989.1" stroke="#b0b590" stroke-width="3.42"/>
<path class="c" d="M130.0,980.7 L131.5,980.8 L133.0,981.0 L134.5,981.0 L136.0,981.1 L137.5,981.1 L139.0,981.2 L140.5,981.1 L142.0,981.1 L143.5,981.1 L145.0,981.0 L146.5,980.9 L148.0,980.9 L149.5,980.8 L151.0,980.7 L152.5,980.5 L154.0,980.4 L155.5,980.3 L157.0,980.2 L158.5,980.1 L160.0,979.9 L161.5,979.8 L163.0,979.7 L164.5,979.6 L166.0,979.5 L167.5,979.4 L169.0,979.3 L170.5,979.2 L172.0,979.2 L173.5,979.1 L175.0,979.1 L176.5,979.1 L178.0,979.1 L179.5,979.1 L181.0,979.2 L182.5,979.2 L184.0,979.3 L185.5,979.4 L187.0,979.5 L188.5,979.6 L190.0,979.8 L191.5,979.9 L193.0,980.1 L194.5,980.2 L196.0,980.4 L197.5,980.6 L199.0,980.7 L200.5,980.9 L202.0,981.1 L203.5,981.3 L205.0,981.4 L206.5,981.6 L208.0,981.8 L209.5,981.9 L211.0,982.1 L212.5,982.2 L214.0,982.4 L215.5,982.5 L217.0,982.6 L218.5,982.7 L220.0,982.8 L221.5,982.9 L223.0,983.0 L224.5,983.0 L226.0,983.1 L227.5,983.1 L229.0,983.1 L230.5,983.1 L232.0,983.1 L233.5,983.1 L235.0,983.1 L236.5,983.1 L238.0,983.1 L239.5,983.0 L241.0,983.0 L242.5,983.0 L244.0,982.9 L245.5,982.9 L247.0,982.8 L248.5,982.8 L250.0,982.7 L251.5,982.7 L253.0,982.6 L254.5,982.6 L256.0,982.5 L257.5,982.5 L259.0,982.4 L260.5,982.3 L262.0,982.3 L263.5,982.2 L265.0,982.0 L266.5,981.9 L268.0,981.8 L269.5,981.6 L271.0,981.4 L272.5,981.1 L274.0,980.9 L275.5,980.6 L277.0,980.2 L278.5,979.9 L280.0,979.5 L281.5,979.1 L283.0,978.7 L284.5,978.2 L286.0,977.8 L287.5,977.3 L289.0,976.8 L290.5,976.3 L292.0,975.8 L293.5,975.2 L295.0,974.7 L296.5,974.2 L298.0,973.6 L299.5,973.1 L301.0,972.6 L302.5,972.0 L304.0,971.5 L305.5,971.0 L307.0,970.5 L308.5,970.0 L310.0,969.6 L311.5,969.1 L313.0,968.7 L314.5,968.3 L316.0,967.9 L317.5,967.5 L319.0,967.2 L320.5,966.9 L322.0,966.6 L323.5,966.4 L325.0,966.2 L326.5,966.1 L328.0,965.9 L329.5,965.9 L331.0,965.9 L332.5,965.9 L334.0,966.0 L335.5,966.1 L337.0,966.3 L338.5,966.5 L340.0,966.8 L341.5,967.2 L343.0,967.6 L344.5,968.2 L346.0,968.7 L347.5,969.3 L349.0,970.0 L350.5,970.7 L352.0,971.5 L353.5,972.2 L355.0,973.1 L356.5,973.9 L358.0,974.7 L359.5,975.5 L361.0,976.4 L362.5,977.2 L364.0,978.0 L365.5,978.8 L367.0,979.6 L368.5,980.3 L370.0,981.0 L371.5,981.6 L373.0,982.2 L374.5,982.8 L376.0,983.3 L377.5,983.8 L379.0,984.2 L380.5,984.6 L382.0,985.0 L383.5,985.3 L385.0,985.6 L386.5,985.9 L388.0,986.1 L389.5,986.4 L391.0,986.6 L392.5,986.8 L394.0,986.9 L395.5,987.1 L397.0,987.2 L398.5,987.3 L400.0,987.4 L401.5,987.5 L403.0,987.6 L404.5,987.7 L406.0,987.8 L407.5,987.9 L409.0,987.9 L410.5,988.0 L412.0,988.1 L413.5,988.2 L415.0,988.2 L416.5,988.3 L418.0,988.4 L419.5,988.4 L421.0,988.5 L422.5,988.6 L424.0,988.6 L425.5,988.7 L427.0,988.7 L428.5,988.8 L430.0,988.8 L431.5,988.9 L433.0,989.0 L434.5,989.0 L436.0,989.1 L437.5,989.1 L439.0,989.1 L440.5,989.2 L442.0,989.2 L443.5,989.3 L445.0,989.3 L446.5,989.4 L448.0,989.4 L449.5,989.4 L451.0,989.5 L452.5,989.5 L454.0,989.6 L455.5,989.6 L457.0,989.6 L458.5,989.7 L460.0,989.7 L461.5,989.7 L463.0,989.7 L464.5,989.8 L466.0,989.8 L467.5,989.8 L469.0,989.9 L470.5,989.9 L472.0,989.9 L473.5,989.9 L475.0,989.9 L476.5,990.0 L478.0,990.0 L479.5,990.0 L481.0,990.0 L482.5,990.0 L484.0,990.1 L485.5,990.1 L487.0,990.1 L488.5,990.1 L490.0,990.1 L491.5,990.1 L493.0,990.1 L494.5,990.2 L496.0,990.2 L497.5,990.2 L499.0,990.2 L500.5,990.2 L502.0,990.2 L503.5,990.2 L505.0,990.2 L506.5,990.2 L508.0,990.2 L509.5,990.3 L511.0,990.3 L512.5,990.3 L514.0,990.3 L515.5,990.3 L517.0,990.3 L518.5,990.3 L520.0,990.3 L521.5,990.3 L523.0,990.3 L524.5,990.3 L526.0,990.3 L527.5,990.3 L529.0,990.3 L530.5,990.3 L532.0,990.3 L533.5,990.3 L535.0,990.3 L536.5,990.3 L538.0,990.3 L539.5,990.3 L541.0,990.3 L542.5,990.3 L544.0,990.3 L545.5,990.3 L547.0,990.3 L548.5,990.3 L550.0,990.3 L551.5,990.3 L553.0,990.3 L554.5,990.3 L556.0,990.4 L557.5,990.4 L559.0,990.4 L560.5,990.4 L562.0,990.4 L563.5,990.4 L565.0,990.4 L566.5,990.4 L568.0,990.4 L569.5,990.4 L571.0,990.4 L572.5,990.4 L574.0,990.4 L575.5,990.4 L577.0,990.4 L578.5,990.4 L580.0,990.4 L581.5,990.4 L583.0,990.4 L584.5,990.4 L586.0,990.5 L587.5,990.5 L589.0,990.5 L590.5,990.5 L592.0,990.5 L593.5,990.5 L595.0,990.5 L596.5,990.5 L598.0,990.5 L599.5,990.6 L601.0,990.6 L602.5,990.6 L604.0,990.6 L605.5,990.6 L607.0,990.6 L608.5,990.6 L610.0,990.7 L611.5,990.7 L613.0,990.7 L614.5,990.7 L616.0,990.7 L617.5,990.8 L619.0,990.8 L620.5,990.8 L622.0,990.8 L623.5,990.9 L625.0,990.9 L626.5,990.9 L628.0,991.0 L629.5,991.0 L631.0,991.0 L632.5,991.0 L634.0,991.1 L635.5,991.1 L637.0,991.2 L637.3,991.2" stroke="#aee5ec" stroke-width="3.24"/>
<path class="c" d="M129.3,799.1 L130.8,801.2 L132.3,803.7 L133.8,806.6 L135.3,809.9 L136.8,813.4 L138.3,817.1 L139.8,821.0 L141.3,825.0 L142.8,829.2 L144.3,833.3 L145.8,837.4 L147.3,841.5 L148.8,845.5 L150.3,849.3 L151.8,852.8 L153.3,856.2 L154.8,859.2 L156.3,861.8 L157.8,864.1 L159.3,865.9 L160.8,867.2 L162.3,867.9 L163.8,868.1 L165.3,867.6 L166.8,866.2 L168.3,863.8 L169.8,860.2 L171.3,855.2 L172.8,848.7 L174.3,840.7 L175.8,831.2 L177.3,820.3 L178.8,808.0 L180.3,794.5 L181.8,780.0 L183.3,764.6 L184.8,748.5 L186.3,732.1 L187.8,715.6 L189.3,699.4 L190.8,683.6 L192.3,668.5 L193.8,654.4 L195.3,641.4 L196.8,629.6 L198.3,619.3 L199.8,610.4 L201.3,603.2 L202.8,597.5 L204.3,593.5 L205.8,590.8 L207.3,589.4 L208.8,588.9 L210.3,589.3 L211.8,590.6 L213.3,592.5 L214.8,595.1 L216.3,598.2 L217.8,601.9 L219.3,605.9 L220.8,610.2 L222.3,614.8 L223.8,619.6 L225.3,624.4 L226.8,629.2 L228.3,634.0 L229.8,638.6 L231.3,643.2 L232.8,647.6 L234.3,652.0 L235.8,656.3 L237.3,660.5 L238.8,664.6 L240.3,668.6 L241.8,672.6 L243.3,676.5 L244.8,680.3 L246.3,684.0 L247.8,687.6 L249.3,691.2 L250.8,694.6 L252.3,697.9 L253.8,701.2 L255.3,704.3 L256.8,707.3 L258.3,710.2 L259.8,712.9 L261.3,715.6 L262.8,718.0 L264.3,720.4 L265.8,722.6 L267.3,724.7 L268.8,726.7 L270.3,728.4 L271.8,730.1 L273.3,731.5 L274.8,732.9 L276.3,734.0 L277.8,735.0 L279.3,735.7 L280.8,736.3 L282.3,736.6 L283.8,736.6 L285.3,736.4 L286.8,735.8 L288.3,735.0 L289.8,733.8 L291.3,732.2 L292.8,730.3 L294.3,727.9 L295.8,725.2 L297.3,721.9 L298.8,718.3 L300.3,714.1 L301.8,709.4 L303.3,704.3 L304.8,698.8 L306.3,693.0 L307.8,686.8 L309.3,680.3 L310.8,673.7 L312.3,666.8 L313.8,659.9 L315.3,652.8 L316.8,645.7 L318.3,638.6 L319.8,631.6 L321.3,624.6 L322.8,617.8 L324.3,611.2 L325.8,604.8 L327.3,598.8 L328.8,593.4 L330.3,588.6 L331.8,584.5 L333.3,581.3 L334.8,579.1 L336.3,578.0 L337.8,578.1 L339.3,579.4 L340.8,581.9 L342.3,585.4 L343.8,589.9 L345.3,595.3 L346.8,601.5 L348.3,608.4 L349.8,615.7 L351.3,623.3 L352.8,631.2 L354.3,639.3 L355.8,647.4 L357.3,655.4 L358.8,663.4 L360.3,671.2 L361.8,678.9 L363.3,686.5 L364.8,693.9 L366.3,701.1 L367.8,708.1 L369.3,714.9 L370.8,721.5 L372.3,727.9 L373.8,734.0 L375.3,739.8 L376.8,745.4 L378.3,750.7 L379.8,755.9 L381.3,760.8 L382.8,765.5 L384.3,769.9 L385.8,774.2 L387.3,778.3 L388.8,782.3 L390.3,786.1 L391.8,789.7 L393.3,793.2 L394.8,796.5 L396.3,799.7 L397.8,802.8 L399.3,805.8 L400.8,808.7 L402.3,811.6 L403.8,814.3 L405.3,817.0 L406.8,819.6 L408.3,822.1 L409.8,824.6 L411.3,827.0 L412.8,829.3 L414.3,831.6 L415.8,833.8 L417.3,836.0 L418.8,838.1 L420.3,840.1 L421.8,842.1 L423.3,844.1 L424.8,846.0 L426.3,847.8 L427.8,849.6 L429.3,851.4 L430.8,853.1 L432.3,854.8 L433.8,856.4 L435.3,858.0 L436.8,859.5 L438.3,861.0 L439.8,862.5 L441.3,864.0 L442.8,865.4 L444.3,866.8 L445.8,868.1 L447.3,869.4 L448.8,870.7 L450.3,872.0 L451.8,873.2 L453.3,874.5 L454.8,875.7 L456.3,876.9 L457.8,878.0 L459.3,879.2 L460.8,880.3 L462.3,881.4 L463.8,882.5 L465.3,883.6 L466.8,884.7 L468.3,885.7 L469.8,886.8 L471.3,887.8 L472.8,888.8 L474.3,889.8 L475.8,890.8 L477.3,891.8 L478.8,892.7 L480.3,893.7 L481.8,894.6 L483.3,895.5 L484.8,896.4 L486.3,897.3 L487.8,898.2 L489.3,899.1 L490.8,899.9 L492.3,900.8 L493.8,901.6 L495.3,902.4 L496.8,903.3 L498.3,904.1 L499.8,904.9 L501.3,905.6 L502.8,906.4 L504.3,907.2 L505.8,907.9 L507.3,908.6 L508.8,909.4 L510.3,910.1 L511.8,910.8 L513.3,911.5 L514.8,912.2 L516.3,912.9 L517.8,913.5 L519.3,914.2 L520.8,914.8 L522.3,915.5 L523.8,916.1 L525.3,916.7 L526.8,917.3 L528.3,917.9 L529.8,918.5 L531.3,919.1 L532.8,919.7 L534.3,920.3 L535.8,920.8 L537.3,921.4 L538.8,921.9 L540.3,922.5 L541.8,923.0 L543.3,923.5 L544.8,924.0 L546.3,924.5 L547.8,925.0 L549.3,925.5 L550.8,926.0 L552.3,926.5 L553.8,926.9 L555.3,927.4 L556.8,927.8 L558.3,928.3 L559.8,928.7 L561.3,929.1 L562.8,929.6 L564.3,930.0 L565.8,930.4 L567.3,930.8 L568.8,931.2 L570.3,931.6 L571.8,932.0 L573.3,932.4 L574.8,932.7 L576.3,933.1 L577.8,933.5 L579.3,933.8 L580.8,934.2 L582.3,934.5 L583.8,934.9 L585.3,935.2 L586.8,935.5 L588.3,935.8 L589.8,936.2 L591.3,936.5 L592.8,936.8 L594.3,937.1 L595.8,937.4 L597.3,937.7 L598.8,938.0 L600.3,938.3 L601.8,938.6 L603.3,938.9 L604.8,939.1 L606.3,939.4 L607.8,939.7 L609.3,939.9 L610.8,940.2 L612.3,940.5 L613.8,940.7 L615.3,941.0 L616.8,941.2 L618.3,941.5 L619.8,941.7 L621.3,942.0 L622.8,942.2 L624.3,942.4 L625.8,942.7 L627.3,942.9 L628.8,943.1 L630.3,943.4 L631.8,943.6 L633.3,943.8 L634.8,944.0 L636.3,944.2 L637.3,944.4" stroke="#0000ff" stroke-width="4.0"/>
</g>
<g clip-path="url(#cp11)">
<path class="c" d="M635.0,855.1 L636.5,851.0 L638.0,847.1 L639.5,843.6 L641.0,840.4 L642.5,837.6 L644.0,835.2 L645.5,833.4 L647.0,832.2 L648.5,831.6 L650.0,831.7 L651.5,832.4 L653.0,833.8 L654.5,835.7 L656.0,838.0 L657.5,840.5 L659.0,843.1 L660.5,845.7 L662.0,848.1 L663.5,850.3 L665.0,852.1 L666.5,853.5 L668.0,854.3 L669.5,854.5 L671.0,854.0 L672.5,852.8 L674.0,850.7 L675.5,847.7 L677.0,843.7 L678.5,838.7 L680.0,833.0 L681.5,826.5 L683.0,819.7 L684.5,812.5 L686.0,805.3 L687.5,798.0 L689.0,790.8 L690.5,783.7 L692.0,776.9 L693.5,770.5 L695.0,764.6 L696.5,759.2 L698.0,754.6 L699.5,750.7 L701.0,747.7 L702.5,745.7 L704.0,744.6 L705.5,744.6 L707.0,745.3 L708.5,746.9 L710.0,749.2 L711.5,752.1 L713.0,755.6 L714.5,759.6 L716.0,764.1 L717.5,768.9 L719.0,774.0 L720.5,779.4 L722.0,784.9 L723.5,790.5 L725.0,796.1 L726.5,801.6 L728.0,806.9 L729.5,811.9 L731.0,816.6 L732.5,820.8 L734.0,824.6 L735.5,828.0 L737.0,830.9 L738.5,833.3 L740.0,835.3 L741.5,836.8 L743.0,837.9 L744.5,838.6 L746.0,838.9 L747.5,838.7 L749.0,838.1 L750.5,837.2 L752.0,836.0 L753.5,834.7 L755.0,833.1 L756.5,831.5 L758.0,829.9 L759.5,828.3 L761.0,826.7 L762.5,825.4 L764.0,824.2 L765.5,823.2 L767.0,822.4 L768.5,821.8 L770.0,821.4 L771.5,821.1 L773.0,821.1 L774.5,821.3 L776.0,821.7 L777.5,822.3 L779.0,823.0 L780.5,823.9 L782.0,824.9 L783.5,826.0 L785.0,827.3 L786.5,828.7 L788.0,830.2 L789.5,831.8 L791.0,833.5 L792.5,835.2 L794.0,837.0 L795.5,838.8 L797.0,840.7 L798.5,842.6 L800.0,844.5 L801.5,846.5 L803.0,848.4 L804.5,850.3 L806.0,852.2 L807.5,854.0 L809.0,855.8 L810.5,857.6 L812.0,859.3 L813.5,860.9 L815.0,862.5 L816.5,864.0 L818.0,865.4 L819.5,866.6 L821.0,867.8 L822.5,868.9 L824.0,869.8 L825.5,870.6 L827.0,871.3 L828.5,871.8 L830.0,872.1 L831.5,872.3 L833.0,872.3 L834.5,872.1 L836.0,871.8 L837.5,871.3 L839.0,870.8 L840.5,870.1 L842.0,869.4 L843.5,868.5 L845.0,867.7 L846.5,866.8 L848.0,865.8 L849.5,864.9 L851.0,864.0 L852.5,863.1 L854.0,862.2 L855.5,861.4 L857.0,860.6 L858.5,859.9 L860.0,859.2 L861.5,858.6 L863.0,858.1 L864.5,857.6 L866.0,857.3 L867.5,857.0 L869.0,856.8 L870.5,856.7 L872.0,856.6 L873.5,856.7 L875.0,856.9 L876.5,857.2 L878.0,857.6 L879.5,858.0 L881.0,858.5 L882.5,859.1 L884.0,859.7 L885.5,860.4 L887.0,861.0 L888.5,861.8 L890.0,862.5 L891.5,863.2 L893.0,864.0 L894.5,864.7 L896.0,865.5 L897.5,866.2 L899.0,866.9 L900.5,867.6 L902.0,868.3 L903.5,869.0 L905.0,869.6 L906.5,870.3 L908.0,870.9 L909.5,871.6 L911.0,872.2 L912.5,872.9 L914.0,873.5 L915.5,874.1 L917.0,874.8 L918.5,875.4 L920.0,876.0 L921.5,876.6 L923.0,877.2 L924.5,877.9 L926.0,878.5 L927.5,879.1 L929.0,879.7 L930.5,880.3 L932.0,880.9 L933.5,881.5 L935.0,882.1 L936.5,882.7 L938.0,883.2 L939.5,883.8 L941.0,884.4 L942.5,885.0 L944.0,885.6 L945.5,886.1 L947.0,886.7 L948.5,887.3 L950.0,887.8 L951.5,888.4 L953.0,888.9 L954.5,889.5 L956.0,890.0 L957.5,890.6 L959.0,891.1 L960.5,891.7 L962.0,892.2 L963.5,892.7 L965.0,893.3 L966.5,893.8 L968.0,894.3 L969.5,894.8 L971.0,895.4 L972.5,895.9 L974.0,896.4 L975.5,896.9 L977.0,897.4 L978.5,897.9 L980.0,898.4 L981.5,898.9 L983.0,899.4 L984.5,899.9 L986.0,900.4 L987.5,900.9 L989.0,901.4 L990.5,901.8 L992.0,902.3 L993.5,902.8 L995.0,903.3 L996.5,903.7 L998.0,904.2 L999.5,904.7 L1001.0,905.1 L1002.5,905.6 L1004.0,906.1 L1005.5,906.5 L1007.0,907.0 L1008.5,907.4 L1010.0,907.9 L1011.5,908.3 L1013.0,908.7 L1014.5,909.2 L1016.0,909.6 L1017.5,910.0 L1019.0,910.5 L1020.5,910.9 L1022.0,911.3 L1023.5,911.8 L1025.0,912.2 L1026.5,912.6 L1028.0,913.0 L1029.5,913.4 L1031.0,913.8 L1032.5,914.2 L1034.0,914.6 L1035.5,915.0 L1037.0,915.4 L1038.5,915.8 L1040.0,916.2 L1041.5,916.6 L1043.0,917.0 L1044.5,917.4 L1046.0,917.8 L1047.5,918.2 L1049.0,918.6 L1050.5,918.9 L1052.0,919.3 L1053.5,919.7 L1055.0,920.1 L1056.5,920.4 L1058.0,920.8 L1059.5,921.2 L1061.0,921.5 L1062.5,921.9 L1064.0,922.2 L1065.5,922.6 L1067.0,923.0 L1068.5,923.3 L1070.0,923.7 L1071.5,924.0 L1073.0,924.4 L1074.5,924.7 L1076.0,925.1 L1077.5,925.4 L1079.0,925.7 L1080.5,926.1 L1082.0,926.4 L1083.5,926.8 L1085.0,927.1 L1086.5,927.4 L1088.0,927.7 L1089.5,928.1 L1091.0,928.4 L1092.5,928.7 L1094.0,929.0 L1095.5,929.4 L1097.0,929.7 L1098.5,930.0 L1100.0,930.3 L1101.5,930.6 L1103.0,931.0 L1104.5,931.3 L1106.0,931.6 L1107.5,931.9 L1109.0,932.2 L1110.5,932.5 L1112.0,932.8 L1113.5,933.1 L1115.0,933.4 L1116.5,933.7 L1118.0,934.0 L1119.5,934.3 L1121.0,934.6 L1122.5,934.9 L1124.0,935.2 L1125.5,935.5 L1127.0,935.8 L1128.5,936.1 L1130.0,936.3 L1131.5,936.6 L1133.0,936.9 L1134.5,937.2 L1136.0,937.5 L1137.5,937.8 L1139.0,938.1 L1140.5,938.3 L1142.0,938.6" stroke="#ffc694" stroke-width="3.24"/>
<path class="c" d="M635.0,982.6 L636.5,983.3 L638.0,983.9 L639.5,984.5 L641.0,985.0 L642.5,985.6 L644.0,986.1 L645.5,986.6 L647.0,987.1 L648.5,987.5 L650.0,987.9 L651.5,988.2 L653.0,988.5 L654.5,988.8 L656.0,989.0 L657.5,989.2 L659.0,989.3 L660.5,989.4 L662.0,989.4 L663.5,989.3 L665.0,989.2 L666.5,989.1 L668.0,988.8 L669.5,988.5 L671.0,988.2 L672.5,987.7 L674.0,987.2 L675.5,986.6 L677.0,985.9 L678.5,985.2 L680.0,984.3 L681.5,983.4 L683.0,982.4 L684.5,981.4 L686.0,980.4 L687.5,979.4 L689.0,978.4 L690.5,977.4 L692.0,976.6 L693.5,975.8 L695.0,975.2 L696.5,974.7 L698.0,974.4 L699.5,974.3 L701.0,974.2 L702.5,974.3 L704.0,974.3 L705.5,974.4 L707.0,974.4 L708.5,974.4 L710.0,974.2 L711.5,973.9 L713.0,973.5 L714.5,972.9 L716.0,972.2 L717.5,971.2 L719.0,970.0 L720.5,968.5 L722.0,966.7 L723.5,964.7 L725.0,962.3 L726.5,959.7 L728.0,956.9 L729.5,954.0 L731.0,951.0 L732.5,948.0 L734.0,945.1 L735.5,942.3 L737.0,939.7 L738.5,937.3 L740.0,935.2 L741.5,933.4 L743.0,932.0 L744.5,931.0 L746.0,930.4 L747.5,930.4 L749.0,930.9 L750.5,931.7 L752.0,932.8 L753.5,934.1 L755.0,935.4 L756.5,936.8 L758.0,938.2 L759.5,939.6 L761.0,941.0 L762.5,942.4 L764.0,943.7 L765.5,944.9 L767.0,946.1 L768.5,947.1 L770.0,948.0 L771.5,948.7 L773.0,949.3 L774.5,949.7 L776.0,949.9 L777.5,949.8 L779.0,949.5 L780.5,949.0 L782.0,948.1 L783.5,946.9 L785.0,945.4 L786.5,943.6 L788.0,941.5 L789.5,938.9 L791.0,936.1 L792.5,933.0 L794.0,929.5 L795.5,925.7 L797.0,921.6 L798.5,917.2 L800.0,912.4 L801.5,907.4 L803.0,902.1 L804.5,896.6 L806.0,890.7 L807.5,884.5 L809.0,878.1 L810.5,871.4 L812.0,864.5 L813.5,857.3 L815.0,849.9 L816.5,842.2 L818.0,834.4 L819.5,826.3 L821.0,818.1 L822.5,809.9 L824.0,801.7 L825.5,793.6 L827.0,785.7 L828.5,778.0 L830.0,770.7 L831.5,763.8 L833.0,757.4 L834.5,751.5 L836.0,746.2 L837.5,741.5 L839.0,737.5 L840.5,734.0 L842.0,731.3 L843.5,729.2 L845.0,727.7 L846.5,727.0 L848.0,727.0 L849.5,727.7 L851.0,729.2 L852.5,731.5 L854.0,734.5 L855.5,738.3 L857.0,742.9 L858.5,748.2 L860.0,754.1 L861.5,760.3 L863.0,767.0 L864.5,773.9 L866.0,780.9 L867.5,788.0 L869.0,794.9 L870.5,801.8 L872.0,808.5 L873.5,815.0 L875.0,821.4 L876.5,827.5 L878.0,833.5 L879.5,839.2 L881.0,844.8 L882.5,850.1 L884.0,855.1 L885.5,859.9 L887.0,864.5 L888.5,868.8 L890.0,872.9 L891.5,876.7 L893.0,880.3 L894.5,883.7 L896.0,886.9 L897.5,890.0 L899.0,892.9 L900.5,895.6 L902.0,898.1 L903.5,900.6 L905.0,902.9 L906.5,905.1 L908.0,907.1 L909.5,909.1 L911.0,911.0 L912.5,912.9 L914.0,914.7 L915.5,916.4 L917.0,918.1 L918.5,919.8 L920.0,921.4 L921.5,923.0 L923.0,924.5 L924.5,926.0 L926.0,927.5 L927.5,929.0 L929.0,930.4 L930.5,931.7 L932.0,933.1 L933.5,934.4 L935.0,935.7 L936.5,936.9 L938.0,938.1 L939.5,939.3 L941.0,940.4 L942.5,941.5 L944.0,942.6 L945.5,943.7 L947.0,944.7 L948.5,945.7 L950.0,946.7 L951.5,947.7 L953.0,948.6 L954.5,949.5 L956.0,950.4 L957.5,951.2 L959.0,952.0 L960.5,952.8 L962.0,953.6 L963.5,954.4 L965.0,955.1 L966.5,955.8 L968.0,956.5 L969.5,957.2 L971.0,957.9 L972.5,958.5 L974.0,959.1 L975.5,959.8 L977.0,960.3 L978.5,960.9 L980.0,961.5 L981.5,962.0 L983.0,962.5 L984.5,963.1 L986.0,963.6 L987.5,964.1 L989.0,964.5 L990.5,965.0 L992.0,965.4 L993.5,965.9 L995.0,966.3 L996.5,966.8 L998.0,967.2 L999.5,967.6 L1001.0,968.0 L1002.5,968.4 L1004.0,968.8 L1005.5,969.1 L1007.0,969.5 L1008.5,969.9 L1010.0,970.2 L1011.5,970.6 L1013.0,970.9 L1014.5,971.3 L1016.0,971.6 L1017.5,971.9 L1019.0,972.2 L1020.5,972.6 L1022.0,972.9 L1023.5,973.2 L1025.0,973.5 L1026.5,973.8 L1028.0,974.0 L1029.5,974.3 L1031.0,974.6 L1032.5,974.9 L1034.0,975.1 L1035.5,975.4 L1037.0,975.6 L1038.5,975.9 L1040.0,976.1 L1041.5,976.4 L1043.0,976.6 L1044.5,976.8 L1046.0,977.1 L1047.5,977.3 L1049.0,977.5 L1050.5,977.7 L1052.0,977.9 L1053.5,978.1 L1055.0,978.3 L1056.5,978.5 L1058.0,978.7 L1059.5,978.8 L1061.0,979.0 L1062.5,979.2 L1064.0,979.3 L1065.5,979.5 L1067.0,979.7 L1068.5,979.8 L1070.0,980.0 L1071.5,980.1 L1073.0,980.3 L1074.5,980.4 L1076.0,980.5 L1077.5,980.7 L1079.0,980.8 L1080.5,980.9 L1082.0,981.1 L1083.5,981.2 L1085.0,981.3 L1086.5,981.4 L1088.0,981.5 L1089.5,981.6 L1091.0,981.7 L1092.5,981.8 L1094.0,981.9 L1095.5,982.0 L1097.0,982.1 L1098.5,982.2 L1100.0,982.3 L1101.5,982.4 L1103.0,982.5 L1104.5,982.5 L1106.0,982.6 L1107.5,982.7 L1109.0,982.8 L1110.5,982.8 L1112.0,982.9 L1113.5,983.0 L1115.0,983.0 L1116.5,983.1 L1118.0,983.2 L1119.5,983.2 L1121.0,983.3 L1122.5,983.3 L1124.0,983.4 L1125.5,983.4 L1127.0,983.5 L1128.5,983.5 L1130.0,983.6 L1131.5,983.6 L1133.0,983.7 L1134.5,983.7 L1136.0,983.8 L1137.5,983.8 L1139.0,983.9 L1140.5,983.9 L1142.0,983.9" stroke="#c5b0d5" stroke-width="3.15"/>
<path class="c" d="M635.0,947.5 L636.5,947.4 L638.0,947.5 L639.5,947.7 L641.0,948.0 L642.5,948.4 L644.0,948.9 L645.5,949.5 L647.0,950.2 L648.5,951.0 L650.0,951.8 L651.5,952.6 L653.0,953.5 L654.5,954.4 L656.0,955.3 L657.5,956.2 L659.0,957.0 L660.5,957.9 L662.0,958.7 L663.5,959.4 L665.0,960.1 L666.5,960.7 L668.0,961.2 L669.5,961.6 L671.0,961.9 L672.5,962.1 L674.0,962.1 L675.5,962.1 L677.0,961.9 L678.5,961.6 L680.0,961.3 L681.5,960.9 L683.0,960.4 L684.5,959.9 L686.0,959.4 L687.5,958.9 L689.0,958.3 L690.5,957.7 L692.0,957.2 L693.5,956.6 L695.0,956.1 L696.5,955.7 L698.0,955.3 L699.5,955.0 L701.0,954.7 L702.5,954.5 L704.0,954.4 L705.5,954.4 L707.0,954.5 L708.5,954.7 L710.0,955.0 L711.5,955.4 L713.0,955.9 L714.5,956.6 L716.0,957.4 L717.5,958.3 L719.0,959.2 L720.5,960.1 L722.0,961.0 L723.5,961.9 L725.0,962.7 L726.5,963.4 L728.0,964.1 L729.5,964.7 L731.0,965.3 L732.5,965.8 L734.0,966.3 L735.5,966.7 L737.0,967.1 L738.5,967.4 L740.0,967.8 L741.5,968.0 L743.0,968.3 L744.5,968.5 L746.0,968.7 L747.5,968.9 L749.0,969.0 L750.5,969.2 L752.0,969.3 L753.5,969.5 L755.0,969.6 L756.5,969.7 L758.0,969.8 L759.5,970.0 L761.0,970.1 L762.5,970.3 L764.0,970.5 L765.5,970.7 L767.0,970.8 L768.5,971.1 L770.0,971.3 L771.5,971.5 L773.0,971.7 L774.5,972.0 L776.0,972.2 L777.5,972.5 L779.0,972.8 L780.5,973.0 L782.0,973.3 L783.5,973.6 L785.0,973.9 L786.5,974.1 L788.0,974.4 L789.5,974.7 L791.0,975.0 L792.5,975.2 L794.0,975.5 L795.5,975.8 L797.0,976.0 L798.5,976.3 L800.0,976.5 L801.5,976.8 L803.0,977.0 L804.5,977.2 L806.0,977.5 L807.5,977.7 L809.0,977.9 L810.5,978.0 L812.0,978.2 L813.5,978.4 L815.0,978.5 L816.5,978.6 L818.0,978.8 L819.5,978.9 L821.0,978.9 L822.5,979.0 L824.0,979.0 L825.5,979.0 L827.0,979.1 L828.5,979.0 L830.0,979.0 L831.5,979.0 L833.0,979.0 L834.5,978.9 L836.0,978.9 L837.5,978.8 L839.0,978.7 L840.5,978.7 L842.0,978.6 L843.5,978.5 L845.0,978.5 L846.5,978.4 L848.0,978.4 L849.5,978.3 L851.0,978.3 L852.5,978.2 L854.0,978.2 L855.5,978.2 L857.0,978.2 L858.5,978.2 L860.0,978.2 L861.5,978.2 L863.0,978.3 L864.5,978.3 L866.0,978.3 L867.5,978.4 L869.0,978.4 L870.5,978.5 L872.0,978.6 L873.5,978.6 L875.0,978.7 L876.5,978.8 L878.0,978.8 L879.5,978.9 L881.0,979.0 L882.5,979.1 L884.0,979.1 L885.5,979.2 L887.0,979.3 L888.5,979.4 L890.0,979.5 L891.5,979.5 L893.0,979.6 L894.5,979.7 L896.0,979.8 L897.5,979.9 L899.0,980.0 L900.5,980.0 L902.0,980.1 L903.5,980.2 L905.0,980.3 L906.5,980.4 L908.0,980.5 L909.5,980.6 L911.0,980.7 L912.5,980.7 L914.0,980.8 L915.5,980.9 L917.0,981.0 L918.5,981.1 L920.0,981.2 L921.5,981.3 L923.0,981.4 L924.5,981.5 L926.0,981.6 L927.5,981.7 L929.0,981.8 L930.5,981.8 L932.0,981.9 L933.5,982.0 L935.0,982.1 L936.5,982.2 L938.0,982.3 L939.5,982.4 L941.0,982.5 L942.5,982.6 L944.0,982.7 L945.5,982.8 L947.0,982.9 L948.5,982.9 L950.0,983.0 L951.5,983.1 L953.0,983.2 L954.5,983.3 L956.0,983.4 L957.5,983.5 L959.0,983.6 L960.5,983.7 L962.0,983.8 L963.5,983.8 L965.0,983.9 L966.5,984.0 L968.0,984.1 L969.5,984.2 L971.0,984.3 L972.5,984.4 L974.0,984.5 L975.5,984.5 L977.0,984.6 L978.5,984.7 L980.0,984.8 L981.5,984.9 L983.0,984.9 L984.5,985.0 L986.0,985.1 L987.5,985.2 L989.0,985.3 L990.5,985.3 L992.0,985.4 L993.5,985.5 L995.0,985.6 L996.5,985.6 L998.0,985.7 L999.5,985.8 L1001.0,985.8 L1002.5,985.9 L1004.0,986.0 L1005.5,986.0 L1007.0,986.1 L1008.5,986.2 L1010.0,986.2 L1011.5,986.3 L1013.0,986.3 L1014.5,986.4 L1016.0,986.5 L1017.5,986.5 L1019.0,986.6 L1020.5,986.6 L1022.0,986.7 L1023.5,986.7 L1025.0,986.8 L1026.5,986.8 L1028.0,986.9 L1029.5,986.9 L1031.0,987.0 L1032.5,987.0 L1034.0,987.1 L1035.5,987.1 L1037.0,987.1 L1038.5,987.2 L1040.0,987.2 L1041.5,987.3 L1043.0,987.3 L1044.5,987.3 L1046.0,987.4 L1047.5,987.4 L1049.0,987.4 L1050.5,987.5 L1052.0,987.5 L1053.5,987.5 L1055.0,987.6 L1056.5,987.6 L1058.0,987.6 L1059.5,987.6 L1061.0,987.7 L1062.5,987.7 L1064.0,987.7 L1065.5,987.7 L1067.0,987.8 L1068.5,987.8 L1070.0,987.8 L1071.5,987.8 L1073.0,987.8 L1074.5,987.9 L1076.0,987.9 L1077.5,987.9 L1079.0,987.9 L1080.5,987.9 L1082.0,988.0 L1083.5,988.0 L1085.0,988.0 L1086.5,988.0 L1088.0,988.0 L1089.5,988.0 L1091.0,988.0 L1092.5,988.1 L1094.0,988.1 L1095.5,988.1 L1097.0,988.1 L1098.5,988.1 L1100.0,988.1 L1101.5,988.1 L1103.0,988.1 L1104.5,988.2 L1106.0,988.2 L1107.5,988.2 L1109.0,988.2 L1110.5,988.2 L1112.0,988.2 L1113.5,988.2 L1115.0,988.2 L1116.5,988.2 L1118.0,988.2 L1119.5,988.2 L1121.0,988.3 L1122.5,988.3 L1124.0,988.3 L1125.5,988.3 L1127.0,988.3 L1128.5,988.3 L1130.0,988.3 L1131.5,988.3 L1133.0,988.3 L1134.5,988.3 L1136.0,988.3 L1137.5,988.3 L1139.0,988.4 L1140.5,988.4 L1142.0,988.4" stroke="#b0b590" stroke-width="3.42"/>
<path class="c" d="M635.0,979.2 L636.5,979.8 L638.0,980.3 L639.5,980.8 L641.0,981.1 L642.5,981.4 L644.0,981.6 L645.5,981.7 L647.0,981.8 L648.5,981.8 L650.0,981.7 L651.5,981.5 L653.0,981.3 L654.5,981.1 L656.0,980.7 L657.5,980.4 L659.0,979.9 L660.5,979.5 L662.0,979.0 L663.5,978.4 L665.0,977.8 L666.5,977.2 L668.0,976.6 L669.5,976.0 L671.0,975.4 L672.5,974.8 L674.0,974.3 L675.5,973.8 L677.0,973.4 L678.5,973.0 L680.0,972.6 L681.5,972.3 L683.0,972.0 L684.5,971.7 L686.0,971.5 L687.5,971.3 L689.0,971.1 L690.5,970.9 L692.0,970.8 L693.5,970.7 L695.0,970.6 L696.5,970.5 L698.0,970.4 L699.5,970.4 L701.0,970.3 L702.5,970.3 L704.0,970.2 L705.5,970.2 L707.0,970.2 L708.5,970.1 L710.0,970.1 L711.5,970.0 L713.0,970.0 L714.5,969.9 L716.0,969.9 L717.5,969.8 L719.0,969.7 L720.5,969.6 L722.0,969.5 L723.5,969.4 L725.0,969.3 L726.5,969.3 L728.0,969.2 L729.5,969.1 L731.0,969.1 L732.5,969.0 L734.0,969.0 L735.5,969.0 L737.0,969.0 L738.5,969.1 L740.0,969.2 L741.5,969.3 L743.0,969.4 L744.5,969.6 L746.0,969.8 L747.5,970.1 L749.0,970.4 L750.5,970.7 L752.0,971.0 L753.5,971.4 L755.0,971.8 L756.5,972.2 L758.0,972.7 L759.5,973.1 L761.0,973.6 L762.5,974.0 L764.0,974.5 L765.5,975.0 L767.0,975.4 L768.5,975.9 L770.0,976.3 L771.5,976.8 L773.0,977.2 L774.5,977.6 L776.0,977.9 L777.5,978.3 L779.0,978.6 L780.5,978.8 L782.0,979.0 L783.5,979.2 L785.0,979.4 L786.5,979.5 L788.0,979.5 L789.5,979.5 L791.0,979.4 L792.5,979.4 L794.0,979.2 L795.5,979.1 L797.0,978.9 L798.5,978.7 L800.0,978.5 L801.5,978.2 L803.0,978.0 L804.5,977.7 L806.0,977.4 L807.5,977.1 L809.0,976.8 L810.5,976.5 L812.0,976.2 L813.5,976.0 L815.0,975.7 L816.5,975.4 L818.0,975.2 L819.5,974.9 L821.0,974.7 L822.5,974.5 L824.0,974.4 L825.5,974.2 L827.0,974.2 L828.5,974.1 L830.0,974.1 L831.5,974.2 L833.0,974.3 L834.5,974.4 L836.0,974.6 L837.5,974.9 L839.0,975.1 L840.5,975.4 L842.0,975.8 L843.5,976.2 L845.0,976.6 L846.5,977.0 L848.0,977.4 L849.5,977.8 L851.0,978.3 L852.5,978.8 L854.0,979.2 L855.5,979.7 L857.0,980.1 L858.5,980.6 L860.0,981.0 L861.5,981.4 L863.0,981.8 L864.5,982.2 L866.0,982.6 L867.5,983.0 L869.0,983.3 L870.5,983.7 L872.0,984.0 L873.5,984.4 L875.0,984.7 L876.5,985.0 L878.0,985.3 L879.5,985.5 L881.0,985.8 L882.5,986.1 L884.0,986.3 L885.5,986.5 L887.0,986.8 L888.5,987.0 L890.0,987.2 L891.5,987.3 L893.0,987.5 L894.5,987.7 L896.0,987.8 L897.5,988.0 L899.0,988.1 L900.5,988.2 L902.0,988.3 L903.5,988.4 L905.0,988.5 L906.5,988.6 L908.0,988.7 L909.5,988.7 L911.0,988.8 L912.5,988.9 L914.0,988.9 L915.5,989.0 L917.0,989.0 L918.5,989.0 L920.0,989.1 L921.5,989.1 L923.0,989.2 L924.5,989.2 L926.0,989.2 L927.5,989.3 L929.0,989.3 L930.5,989.4 L932.0,989.4 L933.5,989.4 L935.0,989.5 L936.5,989.5 L938.0,989.5 L939.5,989.6 L941.0,989.6 L942.5,989.6 L944.0,989.6 L945.5,989.7 L947.0,989.7 L948.5,989.7 L950.0,989.8 L951.5,989.8 L953.0,989.8 L954.5,989.8 L956.0,989.9 L957.5,989.9 L959.0,989.9 L960.5,989.9 L962.0,989.9 L963.5,990.0 L965.0,990.0 L966.5,990.0 L968.0,990.0 L969.5,990.0 L971.0,990.1 L972.5,990.1 L974.0,990.1 L975.5,990.1 L977.0,990.1 L978.5,990.1 L980.0,990.2 L981.5,990.2 L983.0,990.2 L984.5,990.2 L986.0,990.2 L987.5,990.2 L989.0,990.2 L990.5,990.3 L992.0,990.3 L993.5,990.3 L995.0,990.3 L996.5,990.3 L998.0,990.3 L999.5,990.3 L1001.0,990.3 L1002.5,990.3 L1004.0,990.3 L1005.5,990.3 L1007.0,990.3 L1008.5,990.4 L1010.0,990.4 L1011.5,990.4 L1013.0,990.4 L1014.5,990.4 L1016.0,990.4 L1017.5,990.4 L1019.0,990.4 L1020.5,990.4 L1022.0,990.4 L1023.5,990.4 L1025.0,990.4 L1026.5,990.4 L1028.0,990.4 L1029.5,990.4 L1031.0,990.4 L1032.5,990.4 L1034.0,990.4 L1035.5,990.4 L1037.0,990.4 L1038.5,990.4 L1040.0,990.4 L1041.5,990.4 L1043.0,990.4 L1044.5,990.4 L1046.0,990.4 L1047.5,990.4 L1049.0,990.4 L1050.5,990.4 L1052.0,990.4 L1053.5,990.4 L1055.0,990.5 L1056.5,990.5 L1058.0,990.5 L1059.5,990.5 L1061.0,990.5 L1062.5,990.5 L1064.0,990.5 L1065.5,990.5 L1067.0,990.5 L1068.5,990.5 L1070.0,990.5 L1071.5,990.5 L1073.0,990.5 L1074.5,990.5 L1076.0,990.5 L1077.5,990.5 L1079.0,990.5 L1080.5,990.5 L1082.0,990.5 L1083.5,990.5 L1085.0,990.5 L1086.5,990.5 L1088.0,990.5 L1089.5,990.5 L1091.0,990.5 L1092.5,990.5 L1094.0,990.5 L1095.5,990.5 L1097.0,990.5 L1098.5,990.5 L1100.0,990.5 L1101.5,990.5 L1103.0,990.5 L1104.5,990.5 L1106.0,990.5 L1107.5,990.5 L1109.0,990.5 L1110.5,990.5 L1112.0,990.6 L1113.5,990.6 L1115.0,990.6 L1116.5,990.6 L1118.0,990.6 L1119.5,990.6 L1121.0,990.6 L1122.5,990.6 L1124.0,990.6 L1125.5,990.6 L1127.0,990.6 L1128.5,990.6 L1130.0,990.7 L1131.5,990.7 L1133.0,990.7 L1134.5,990.7 L1136.0,990.7 L1137.5,990.7 L1139.0,990.7 L1140.5,990.7 L1142.0,990.8" stroke="#aee5ec" stroke-width="3.24"/>
<path class="c" d="M635.0,787.1 L636.5,784.6 L638.0,782.3 L639.5,780.1 L641.0,778.1 L642.5,776.6 L644.0,775.4 L645.5,774.9 L647.0,775.0 L648.5,775.7 L650.0,777.2 L651.5,779.1 L653.0,781.6 L654.5,784.4 L656.0,787.5 L657.5,790.7 L659.0,794.0 L660.5,797.4 L662.0,800.6 L663.5,803.5 L665.0,805.9 L666.5,807.7 L668.0,808.7 L669.5,808.6 L671.0,807.5 L672.5,805.2 L674.0,801.8 L675.5,797.5 L677.0,792.1 L678.5,785.7 L680.0,778.5 L681.5,770.4 L683.0,761.6 L684.5,752.3 L686.0,742.8 L687.5,733.2 L689.0,723.6 L690.5,714.4 L692.0,705.8 L693.5,697.8 L695.0,690.7 L696.5,684.5 L698.0,679.2 L699.5,675.0 L701.0,671.8 L702.5,669.7 L704.0,668.6 L705.5,668.7 L707.0,670.0 L708.5,672.1 L710.0,675.1 L711.5,678.8 L713.0,683.0 L714.5,687.7 L716.0,692.5 L717.5,697.5 L719.0,702.4 L720.5,707.1 L722.0,711.5 L723.5,715.5 L725.0,718.8 L726.5,721.6 L728.0,724.0 L729.5,725.9 L731.0,727.4 L732.5,728.6 L734.0,729.6 L735.5,730.3 L737.0,730.9 L738.5,731.4 L740.0,731.9 L741.5,732.3 L743.0,732.7 L744.5,733.1 L746.0,733.5 L747.5,733.9 L749.0,734.3 L750.5,734.7 L752.0,735.1 L753.5,735.5 L755.0,736.0 L756.5,736.6 L758.0,737.2 L759.5,737.8 L761.0,738.5 L762.5,739.2 L764.0,740.0 L765.5,740.8 L767.0,741.6 L768.5,742.5 L770.0,743.3 L771.5,744.2 L773.0,745.0 L774.5,745.8 L776.0,746.6 L777.5,747.3 L779.0,748.0 L780.5,748.6 L782.0,749.1 L783.5,749.6 L785.0,750.0 L786.5,750.3 L788.0,750.5 L789.5,750.6 L791.0,750.6 L792.5,750.4 L794.0,750.1 L795.5,749.6 L797.0,748.8 L798.5,747.7 L800.0,746.3 L801.5,744.6 L803.0,742.4 L804.5,739.8 L806.0,736.7 L807.5,733.1 L809.0,729.0 L810.5,724.4 L812.0,719.3 L813.5,713.8 L815.0,707.8 L816.5,701.5 L818.0,694.8 L819.5,687.7 L821.0,680.4 L822.5,672.7 L824.0,664.8 L825.5,656.7 L827.0,648.4 L828.5,640.2 L830.0,632.1 L831.5,624.2 L833.0,616.6 L834.5,609.4 L836.0,602.7 L837.5,596.7 L839.0,591.3 L840.5,586.7 L842.0,582.7 L843.5,579.3 L845.0,576.7 L846.5,574.8 L848.0,573.7 L849.5,573.4 L851.0,574.0 L852.5,575.4 L854.0,577.7 L855.5,581.1 L857.0,585.3 L858.5,590.4 L860.0,596.2 L861.5,602.6 L863.0,609.4 L864.5,616.6 L866.0,624.0 L867.5,631.5 L869.0,638.9 L870.5,646.2 L872.0,653.5 L873.5,660.6 L875.0,667.6 L876.5,674.5 L878.0,681.3 L879.5,687.9 L881.0,694.4 L882.5,700.8 L884.0,707.0 L885.5,713.0 L887.0,718.9 L888.5,724.7 L890.0,730.3 L891.5,735.7 L893.0,740.9 L894.5,746.0 L896.0,750.9 L897.5,755.6 L899.0,760.1 L900.5,764.5 L902.0,768.7 L903.5,772.7 L905.0,776.6 L906.5,780.3 L908.0,783.9 L909.5,787.4 L911.0,790.7 L912.5,793.9 L914.0,796.9 L915.5,799.8 L917.0,802.7 L918.5,805.4 L920.0,808.0 L921.5,810.5 L923.0,812.9 L924.5,815.2 L926.0,817.4 L927.5,819.6 L929.0,821.6 L930.5,823.6 L932.0,825.6 L933.5,827.4 L935.0,829.2 L936.5,831.0 L938.0,832.7 L939.5,834.4 L941.0,836.0 L942.5,837.6 L944.0,839.2 L945.5,840.8 L947.0,842.3 L948.5,843.8 L950.0,845.2 L951.5,846.7 L953.0,848.1 L954.5,849.5 L956.0,850.9 L957.5,852.2 L959.0,853.5 L960.5,854.8 L962.0,856.1 L963.5,857.3 L965.0,858.6 L966.5,859.8 L968.0,860.9 L969.5,862.1 L971.0,863.3 L972.5,864.4 L974.0,865.5 L975.5,866.6 L977.0,867.6 L978.5,868.7 L980.0,869.7 L981.5,870.8 L983.0,871.8 L984.5,872.8 L986.0,873.7 L987.5,874.7 L989.0,875.6 L990.5,876.6 L992.0,877.5 L993.5,878.4 L995.0,879.3 L996.5,880.2 L998.0,881.1 L999.5,881.9 L1001.0,882.8 L1002.5,883.6 L1004.0,884.5 L1005.5,885.3 L1007.0,886.1 L1008.5,886.9 L1010.0,887.7 L1011.5,888.4 L1013.0,889.2 L1014.5,890.0 L1016.0,890.7 L1017.5,891.4 L1019.0,892.2 L1020.5,892.9 L1022.0,893.6 L1023.5,894.3 L1025.0,895.0 L1026.5,895.6 L1028.0,896.3 L1029.5,897.0 L1031.0,897.6 L1032.5,898.2 L1034.0,898.9 L1035.5,899.5 L1037.0,900.1 L1038.5,900.7 L1040.0,901.3 L1041.5,901.9 L1043.0,902.5 L1044.5,903.0 L1046.0,903.6 L1047.5,904.2 L1049.0,904.7 L1050.5,905.2 L1052.0,905.8 L1053.5,906.3 L1055.0,906.8 L1056.5,907.3 L1058.0,907.8 L1059.5,908.3 L1061.0,908.8 L1062.5,909.3 L1064.0,909.7 L1065.5,910.2 L1067.0,910.7 L1068.5,911.1 L1070.0,911.6 L1071.5,912.0 L1073.0,912.5 L1074.5,912.9 L1076.0,913.3 L1077.5,913.7 L1079.0,914.1 L1080.5,914.6 L1082.0,915.0 L1083.5,915.4 L1085.0,915.7 L1086.5,916.1 L1088.0,916.5 L1089.5,916.9 L1091.0,917.3 L1092.5,917.6 L1094.0,918.0 L1095.5,918.4 L1097.0,918.7 L1098.5,919.1 L1100.0,919.4 L1101.5,919.8 L1103.0,920.1 L1104.5,920.4 L1106.0,920.8 L1107.5,921.1 L1109.0,921.4 L1110.5,921.8 L1112.0,922.1 L1113.5,922.4 L1115.0,922.7 L1116.5,923.0 L1118.0,923.3 L1119.5,923.6 L1121.0,924.0 L1122.5,924.3 L1124.0,924.6 L1125.5,924.9 L1127.0,925.2 L1128.5,925.5 L1130.0,925.7 L1131.5,926.0 L1133.0,926.3 L1134.5,926.6 L1136.0,926.9 L1137.5,927.2 L1139.0,927.5 L1140.5,927.8 L1142.0,928.1" stroke="#99dc9c" stroke-width="3.0"/>
</g>
<g clip-path="url(#cp12)">
<path class="c" d="M1139.3,908.7 L1140.8,908.6 L1142.3,908.7 L1143.8,908.9 L1145.3,909.2 L1146.8,909.7 L1148.3,910.2 L1149.8,910.8 L1151.3,911.4 L1152.8,912.0 L1154.3,912.7 L1155.8,913.4 L1157.3,914.1 L1158.8,914.8 L1160.3,915.4 L1161.8,915.9 L1163.3,916.4 L1164.8,916.8 L1166.3,917.1 L1167.8,917.2 L1169.3,917.3 L1170.8,917.1 L1172.3,916.8 L1173.8,916.3 L1175.3,915.7 L1176.8,914.9 L1178.3,913.9 L1179.8,912.9 L1181.3,911.8 L1182.8,910.7 L1184.3,909.7 L1185.8,908.6 L1187.3,907.7 L1188.8,906.8 L1190.3,906.1 L1191.8,905.5 L1193.3,904.9 L1194.8,904.3 L1196.3,903.4 L1197.8,902.2 L1199.3,900.5 L1200.8,898.4 L1202.3,896.0 L1203.8,893.4 L1205.3,890.7 L1206.8,888.0 L1208.3,885.5 L1209.8,883.2 L1211.3,881.3 L1212.8,879.9 L1214.3,878.9 L1215.8,878.3 L1217.3,878.1 L1218.8,878.1 L1220.3,878.4 L1221.8,878.9 L1223.3,879.6 L1224.8,880.5 L1226.3,881.6 L1227.8,882.9 L1229.3,884.3 L1230.8,885.9 L1232.3,887.6 L1233.8,889.4 L1235.3,891.2 L1236.8,893.2 L1238.3,895.2 L1239.8,897.3 L1241.3,899.4 L1242.8,901.5 L1244.3,903.7 L1245.8,905.8 L1247.3,907.9 L1248.8,910.0 L1250.3,912.0 L1251.8,914.0 L1253.3,915.9 L1254.8,917.8 L1256.3,919.6 L1257.8,921.4 L1259.3,923.1 L1260.8,924.7 L1262.3,926.2 L1263.8,927.7 L1265.3,929.0 L1266.8,930.3 L1268.3,931.5 L1269.8,932.5 L1271.3,933.5 L1272.8,934.3 L1274.3,935.0 L1275.8,935.6 L1277.3,936.1 L1278.8,936.4 L1280.3,936.6 L1281.8,936.5 L1283.3,936.2 L1284.8,935.5 L1286.3,934.2 L1287.8,932.2 L1289.3,929.4 L1290.8,925.9 L1292.3,921.8 L1293.8,917.3 L1295.3,912.6 L1296.8,907.9 L1298.3,903.3 L1299.8,898.7 L1301.3,894.2 L1302.8,889.9 L1304.3,885.8 L1305.8,882.0 L1307.3,878.4 L1308.8,875.1 L1310.3,872.1 L1311.8,869.3 L1313.3,866.7 L1314.8,864.4 L1316.3,862.4 L1317.8,860.6 L1319.3,859.1 L1320.8,857.8 L1322.3,856.7 L1323.8,856.0 L1325.3,855.5 L1326.8,855.3 L1328.3,855.5 L1329.8,855.9 L1331.3,856.6 L1332.8,857.5 L1334.3,858.6 L1335.8,859.7 L1337.3,860.8 L1338.8,862.0 L1340.3,863.0 L1341.8,864.0 L1343.3,864.8 L1344.8,865.3 L1346.3,865.6 L1347.8,865.6 L1349.3,865.1 L1350.8,864.3 L1352.3,863.0 L1353.8,861.4 L1355.3,859.4 L1356.8,857.2 L1358.3,854.6 L1359.8,851.9 L1361.3,849.1 L1362.8,846.2 L1364.3,843.2 L1365.8,840.2 L1367.3,837.2 L1368.8,834.3 L1370.3,831.5 L1371.8,828.9 L1373.3,826.4 L1374.8,824.1 L1376.3,822.0 L1377.8,820.2 L1379.3,818.7 L1380.8,817.3 L1382.3,816.2 L1383.8,815.1 L1385.3,814.2 L1386.8,813.3 L1388.3,812.5 L1389.8,811.8 L1391.3,811.1 L1392.8,810.6 L1394.3,810.1 L1395.8,809.8 L1397.3,809.6 L1398.8,809.5 L1400.3,809.6 L1401.8,809.9 L1403.3,810.2 L1404.8,810.7 L1406.3,811.2 L1407.8,811.9 L1409.3,812.5 L1410.8,813.2 L1412.3,813.9 L1413.8,814.6 L1415.3,815.4 L1416.8,816.2 L1418.3,817.0 L1419.8,817.8 L1421.3,818.6 L1422.8,819.5 L1424.3,820.4 L1425.8,821.3 L1427.3,822.2 L1428.8,823.1 L1430.3,824.1 L1431.8,825.1 L1433.3,826.1 L1434.8,827.1 L1436.3,828.1 L1437.8,829.2 L1439.3,830.3 L1440.8,831.3 L1442.3,832.4 L1443.8,833.6 L1445.3,834.7 L1446.8,835.9 L1448.3,837.0 L1449.8,838.2 L1451.3,839.4 L1452.8,840.6 L1454.3,841.8 L1455.8,843.1 L1457.3,844.3 L1458.8,845.6 L1460.3,846.9 L1461.8,848.2 L1463.3,849.5 L1464.8,850.8 L1466.3,852.2 L1467.8,853.5 L1469.3,854.9 L1470.8,856.2 L1472.3,857.6 L1473.8,859.0 L1475.3,860.4 L1476.8,861.8 L1478.3,863.2 L1479.8,864.7 L1481.3,866.1 L1482.8,867.6 L1484.3,869.0 L1485.8,870.5 L1487.3,872.0 L1488.8,873.4 L1490.3,874.9 L1491.8,876.4 L1493.3,877.9 L1494.8,879.4 L1496.3,880.9 L1497.8,882.5 L1499.3,884.0 L1500.8,885.5 L1502.3,887.1 L1503.8,888.6 L1505.3,890.2 L1506.8,891.7 L1508.3,893.3 L1509.8,894.8 L1511.3,896.4 L1512.8,897.9 L1514.3,899.5 L1515.8,901.0 L1517.3,902.5 L1518.8,904.0 L1520.3,905.4 L1521.8,906.7 L1523.3,908.0 L1524.8,909.3 L1526.3,910.4 L1527.8,911.4 L1529.3,912.4 L1530.8,913.3 L1532.3,914.0 L1533.8,914.6 L1535.3,915.1 L1536.8,915.4 L1538.3,915.6 L1539.8,915.7 L1541.3,915.5 L1542.8,915.3 L1544.3,914.8 L1545.8,914.3 L1547.3,913.6 L1548.8,912.8 L1550.3,911.9 L1551.8,910.9 L1553.3,909.8 L1554.8,908.7 L1556.3,907.5 L1557.8,906.2 L1559.3,904.9 L1560.8,903.6 L1562.3,902.2 L1563.8,900.8 L1565.3,899.5 L1566.8,898.1 L1568.3,896.8 L1569.8,895.5 L1571.3,894.3 L1572.8,893.1 L1574.3,892.0 L1575.8,890.9 L1577.3,889.9 L1578.8,889.0 L1580.3,888.1 L1581.8,887.3 L1583.3,886.6 L1584.8,885.9 L1586.3,885.2 L1587.8,884.7 L1589.3,884.1 L1590.8,883.7 L1592.3,883.2 L1593.8,882.9 L1595.3,882.5 L1596.8,882.3 L1598.3,882.0 L1599.8,881.8 L1601.3,881.6 L1602.8,881.5 L1604.3,881.4 L1605.8,881.4 L1607.3,881.4 L1608.8,881.4 L1610.3,881.4 L1611.8,881.5 L1613.3,881.6 L1614.8,881.7 L1616.3,881.8 L1617.8,882.0 L1619.3,882.2 L1620.8,882.4 L1622.3,882.6 L1623.8,882.9 L1625.3,883.1 L1626.8,883.4 L1628.3,883.7 L1629.8,883.9 L1631.3,884.2 L1632.8,884.5 L1634.3,884.8 L1635.8,885.1 L1637.3,885.4 L1638.8,885.7 L1640.3,886.0 L1641.8,886.3 L1643.3,886.6 L1644.8,886.9 L1646.0,887.1" stroke="#ffc694" stroke-width="3.24"/>
<path class="c" d="M1139.3,926.7 L1140.8,925.0 L1142.3,923.5 L1143.8,922.1 L1145.3,920.7 L1146.8,919.5 L1148.3,918.4 L1149.8,917.4 L1151.3,916.5 L1152.8,915.8 L1154.3,915.1 L1155.8,914.5 L1157.3,914.1 L1158.8,913.9 L1160.3,913.8 L1161.8,914.0 L1163.3,914.5 L1164.8,915.3 L1166.3,916.5 L1167.8,918.1 L1169.3,920.1 L1170.8,922.4 L1172.3,925.0 L1173.8,927.6 L1175.3,930.2 L1176.8,932.6 L1178.3,934.9 L1179.8,936.9 L1181.3,938.8 L1182.8,940.6 L1184.3,942.2 L1185.8,943.6 L1187.3,944.8 L1188.8,946.0 L1190.3,947.1 L1191.8,948.1 L1193.3,949.1 L1194.8,950.1 L1196.3,951.0 L1197.8,951.9 L1199.3,952.9 L1200.8,953.8 L1202.3,954.7 L1203.8,955.6 L1205.3,956.5 L1206.8,957.3 L1208.3,958.2 L1209.8,959.0 L1211.3,959.8 L1212.8,960.6 L1214.3,961.4 L1215.8,962.2 L1217.3,962.9 L1218.8,963.7 L1220.3,964.4 L1221.8,965.1 L1223.3,965.8 L1224.8,966.5 L1226.3,967.2 L1227.8,967.8 L1229.3,968.5 L1230.8,969.1 L1232.3,969.7 L1233.8,970.3 L1235.3,970.8 L1236.8,971.4 L1238.3,971.9 L1239.8,972.4 L1241.3,972.9 L1242.8,973.4 L1244.3,973.9 L1245.8,974.3 L1247.3,974.7 L1248.8,975.1 L1250.3,975.5 L1251.8,975.9 L1253.3,976.3 L1254.8,976.6 L1256.3,976.9 L1257.8,977.2 L1259.3,977.5 L1260.8,977.7 L1262.3,978.0 L1263.8,978.2 L1265.3,978.4 L1266.8,978.6 L1268.3,978.7 L1269.8,978.8 L1271.3,979.0 L1272.8,979.0 L1274.3,979.1 L1275.8,979.1 L1277.3,979.0 L1278.8,978.8 L1280.3,978.5 L1281.8,978.0 L1283.3,977.3 L1284.8,976.5 L1286.3,975.4 L1287.8,974.1 L1289.3,972.5 L1290.8,970.7 L1292.3,968.6 L1293.8,966.2 L1295.3,963.6 L1296.8,960.8 L1298.3,957.8 L1299.8,954.7 L1301.3,951.5 L1302.8,948.3 L1304.3,945.0 L1305.8,941.7 L1307.3,938.3 L1308.8,934.8 L1310.3,931.3 L1311.8,927.8 L1313.3,924.1 L1314.8,920.4 L1316.3,916.5 L1317.8,912.6 L1319.3,908.5 L1320.8,904.3 L1322.3,900.0 L1323.8,895.7 L1325.3,891.4 L1326.8,887.2 L1328.3,883.2 L1329.8,879.5 L1331.3,876.0 L1332.8,872.7 L1334.3,869.6 L1335.8,866.8 L1337.3,864.2 L1338.8,861.8 L1340.3,859.6 L1341.8,857.6 L1343.3,855.8 L1344.8,854.1 L1346.3,852.8 L1347.8,851.8 L1349.3,851.2 L1350.8,851.3 L1352.3,851.9 L1353.8,853.0 L1355.3,854.7 L1356.8,856.7 L1358.3,859.1 L1359.8,861.7 L1361.3,864.5 L1362.8,867.4 L1364.3,870.4 L1365.8,873.3 L1367.3,876.1 L1368.8,878.9 L1370.3,881.6 L1371.8,884.2 L1373.3,886.7 L1374.8,889.1 L1376.3,891.4 L1377.8,893.7 L1379.3,895.8 L1380.8,897.8 L1382.3,899.8 L1383.8,901.7 L1385.3,903.5 L1386.8,905.2 L1388.3,906.8 L1389.8,908.4 L1391.3,909.8 L1392.8,911.2 L1394.3,912.6 L1395.8,913.8 L1397.3,915.0 L1398.8,916.2 L1400.3,917.3 L1401.8,918.3 L1403.3,919.2 L1404.8,920.1 L1406.3,921.0 L1407.8,921.8 L1409.3,922.6 L1410.8,923.3 L1412.3,923.9 L1413.8,924.6 L1415.3,925.2 L1416.8,925.7 L1418.3,926.2 L1419.8,926.7 L1421.3,927.2 L1422.8,927.6 L1424.3,928.0 L1425.8,928.4 L1427.3,928.8 L1428.8,929.1 L1430.3,929.4 L1431.8,929.7 L1433.3,930.0 L1434.8,930.2 L1436.3,930.5 L1437.8,930.6 L1439.3,930.8 L1440.8,930.9 L1442.3,931.0 L1443.8,931.0 L1445.3,931.0 L1446.8,930.9 L1448.3,930.8 L1449.8,930.7 L1451.3,930.4 L1452.8,930.2 L1454.3,929.9 L1455.8,929.5 L1457.3,929.1 L1458.8,928.6 L1460.3,928.0 L1461.8,927.4 L1463.3,926.7 L1464.8,925.9 L1466.3,925.1 L1467.8,924.2 L1469.3,923.2 L1470.8,922.1 L1472.3,920.9 L1473.8,919.6 L1475.3,918.2 L1476.8,916.8 L1478.3,915.1 L1479.8,913.4 L1481.3,911.5 L1482.8,909.5 L1484.3,907.3 L1485.8,905.0 L1487.3,902.5 L1488.8,899.8 L1490.3,897.0 L1491.8,893.9 L1493.3,890.7 L1494.8,887.3 L1496.3,883.7 L1497.8,879.8 L1499.3,875.8 L1500.8,871.6 L1502.3,867.1 L1503.8,862.5 L1505.3,857.8 L1506.8,852.8 L1508.3,847.7 L1509.8,842.5 L1511.3,837.1 L1512.8,831.7 L1514.3,826.1 L1515.8,820.3 L1517.3,814.5 L1518.8,808.6 L1520.3,802.5 L1521.8,796.3 L1523.3,789.8 L1524.8,783.1 L1526.3,776.2 L1527.8,769.1 L1529.3,762.1 L1530.8,755.4 L1532.3,748.9 L1533.8,742.8 L1535.3,737.1 L1536.8,731.7 L1538.3,726.7 L1539.8,722.1 L1541.3,718.0 L1542.8,714.2 L1544.3,710.9 L1545.8,707.9 L1547.3,705.3 L1548.8,703.2 L1550.3,701.4 L1551.8,700.0 L1553.3,699.0 L1554.8,698.4 L1556.3,698.2 L1557.8,698.4 L1559.3,698.9 L1560.8,699.9 L1562.3,701.2 L1563.8,702.9 L1565.3,705.0 L1566.8,707.5 L1568.3,710.3 L1569.8,713.6 L1571.3,717.3 L1572.8,721.3 L1574.3,725.8 L1575.8,730.6 L1577.3,735.8 L1578.8,741.3 L1580.3,746.9 L1581.8,752.7 L1583.3,758.5 L1584.8,764.2 L1586.3,769.8 L1587.8,775.4 L1589.3,781.0 L1590.8,786.4 L1592.3,791.8 L1593.8,797.0 L1595.3,802.2 L1596.8,807.2 L1598.3,812.2 L1599.8,817.1 L1601.3,821.8 L1602.8,826.4 L1604.3,830.9 L1605.8,835.3 L1607.3,839.5 L1608.8,843.6 L1610.3,847.5 L1611.8,851.3 L1613.3,855.0 L1614.8,858.5 L1616.3,861.8 L1617.8,865.0 L1619.3,868.0 L1620.8,870.9 L1622.3,873.7 L1623.8,876.3 L1625.3,878.9 L1626.8,881.3 L1628.3,883.6 L1629.8,885.8 L1631.3,888.0 L1632.8,890.0 L1634.3,892.0 L1635.8,893.8 L1637.3,895.7 L1638.8,897.4 L1640.3,899.1 L1641.8,900.7 L1643.3,902.3 L1644.8,903.9 L1646.0,905.1" stroke="#c5b0d5" stroke-width="3.15"/>
<path class="c" d="M1139.3,928.1 L1140.8,928.0 L1142.3,928.0 L1143.8,928.1 L1145.3,928.3 L1146.8,928.5 L1148.3,928.8 L1149.8,929.1 L1151.3,929.5 L1152.8,929.9 L1154.3,930.4 L1155.8,930.8 L1157.3,931.3 L1158.8,931.8 L1160.3,932.3 L1161.8,932.8 L1163.3,933.3 L1164.8,933.7 L1166.3,934.2 L1167.8,934.5 L1169.3,934.9 L1170.8,935.2 L1172.3,935.4 L1173.8,935.6 L1175.3,935.7 L1176.8,935.7 L1178.3,935.6 L1179.8,935.5 L1181.3,935.2 L1182.8,934.8 L1184.3,934.4 L1185.8,933.8 L1187.3,933.1 L1188.8,932.3 L1190.3,931.5 L1191.8,930.4 L1193.3,929.3 L1194.8,928.1 L1196.3,926.8 L1197.8,925.4 L1199.3,924.1 L1200.8,922.9 L1202.3,922.0 L1203.8,921.3 L1205.3,920.9 L1206.8,920.8 L1208.3,920.9 L1209.8,921.2 L1211.3,921.7 L1212.8,922.4 L1214.3,923.2 L1215.8,924.2 L1217.3,925.3 L1218.8,926.4 L1220.3,927.6 L1221.8,928.9 L1223.3,930.3 L1224.8,931.6 L1226.3,932.9 L1227.8,934.2 L1229.3,935.5 L1230.8,936.7 L1232.3,937.9 L1233.8,939.0 L1235.3,940.1 L1236.8,941.1 L1238.3,942.1 L1239.8,943.1 L1241.3,944.0 L1242.8,944.9 L1244.3,945.8 L1245.8,946.7 L1247.3,947.5 L1248.8,948.4 L1250.3,949.2 L1251.8,950.0 L1253.3,950.8 L1254.8,951.6 L1256.3,952.4 L1257.8,953.2 L1259.3,954.0 L1260.8,954.8 L1262.3,955.6 L1263.8,956.4 L1265.3,957.3 L1266.8,958.1 L1268.3,959.0 L1269.8,959.9 L1271.3,960.8 L1272.8,961.7 L1274.3,962.7 L1275.8,963.7 L1277.3,964.7 L1278.8,965.7 L1280.3,966.7 L1281.8,967.7 L1283.3,968.6 L1284.8,969.4 L1286.3,970.2 L1287.8,970.9 L1289.3,971.5 L1290.8,972.0 L1292.3,972.3 L1293.8,972.6 L1295.3,972.6 L1296.8,972.5 L1298.3,972.3 L1299.8,971.8 L1301.3,971.1 L1302.8,970.2 L1304.3,969.1 L1305.8,967.8 L1307.3,966.3 L1308.8,964.7 L1310.3,963.0 L1311.8,961.4 L1313.3,959.8 L1314.8,958.2 L1316.3,956.8 L1317.8,955.6 L1319.3,954.6 L1320.8,953.9 L1322.3,953.4 L1323.8,953.2 L1325.3,953.2 L1326.8,953.4 L1328.3,953.6 L1329.8,954.0 L1331.3,954.4 L1332.8,954.9 L1334.3,955.4 L1335.8,955.9 L1337.3,956.5 L1338.8,957.1 L1340.3,957.7 L1341.8,958.4 L1343.3,959.0 L1344.8,959.6 L1346.3,960.1 L1347.8,960.6 L1349.3,961.1 L1350.8,961.6 L1352.3,961.9 L1353.8,962.2 L1355.3,962.4 L1356.8,962.6 L1358.3,962.6 L1359.8,962.7 L1361.3,962.7 L1362.8,962.6 L1364.3,962.6 L1365.8,962.5 L1367.3,962.4 L1368.8,962.3 L1370.3,962.2 L1371.8,962.2 L1373.3,962.1 L1374.8,962.1 L1376.3,962.0 L1377.8,962.0 L1379.3,962.0 L1380.8,962.0 L1382.3,962.1 L1383.8,962.1 L1385.3,962.2 L1386.8,962.2 L1388.3,962.3 L1389.8,962.4 L1391.3,962.5 L1392.8,962.6 L1394.3,962.7 L1395.8,962.8 L1397.3,962.9 L1398.8,963.1 L1400.3,963.2 L1401.8,963.4 L1403.3,963.5 L1404.8,963.7 L1406.3,963.8 L1407.8,964.0 L1409.3,964.2 L1410.8,964.4 L1412.3,964.6 L1413.8,964.8 L1415.3,965.0 L1416.8,965.2 L1418.3,965.4 L1419.8,965.6 L1421.3,965.8 L1422.8,966.0 L1424.3,966.3 L1425.8,966.5 L1427.3,966.7 L1428.8,967.0 L1430.3,967.2 L1431.8,967.5 L1433.3,967.7 L1434.8,967.9 L1436.3,968.2 L1437.8,968.4 L1439.3,968.7 L1440.8,969.0 L1442.3,969.2 L1443.8,969.5 L1445.3,969.7 L1446.8,970.0 L1448.3,970.3 L1449.8,970.5 L1451.3,970.8 L1452.8,971.1 L1454.3,971.3 L1455.8,971.6 L1457.3,971.8 L1458.8,972.1 L1460.3,972.4 L1461.8,972.6 L1463.3,972.9 L1464.8,973.2 L1466.3,973.4 L1467.8,973.7 L1469.3,973.9 L1470.8,974.2 L1472.3,974.4 L1473.8,974.7 L1475.3,974.9 L1476.8,975.2 L1478.3,975.4 L1479.8,975.6 L1481.3,975.9 L1482.8,976.1 L1484.3,976.3 L1485.8,976.6 L1487.3,976.8 L1488.8,977.0 L1490.3,977.2 L1491.8,977.4 L1493.3,977.6 L1494.8,977.8 L1496.3,978.0 L1497.8,978.2 L1499.3,978.4 L1500.8,978.6 L1502.3,978.7 L1503.8,978.9 L1505.3,979.1 L1506.8,979.2 L1508.3,979.4 L1509.8,979.5 L1511.3,979.6 L1512.8,979.8 L1514.3,979.9 L1515.8,980.0 L1517.3,980.1 L1518.8,980.2 L1520.3,980.3 L1521.8,980.4 L1523.3,980.5 L1524.8,980.5 L1526.3,980.6 L1527.8,980.6 L1529.3,980.7 L1530.8,980.7 L1532.3,980.7 L1533.8,980.7 L1535.3,980.8 L1536.8,980.8 L1538.3,980.8 L1539.8,980.8 L1541.3,980.8 L1542.8,980.7 L1544.3,980.7 L1545.8,980.7 L1547.3,980.7 L1548.8,980.6 L1550.3,980.6 L1551.8,980.6 L1553.3,980.5 L1554.8,980.5 L1556.3,980.4 L1557.8,980.4 L1559.3,980.3 L1560.8,980.3 L1562.3,980.2 L1563.8,980.2 L1565.3,980.1 L1566.8,980.1 L1568.3,980.0 L1569.8,980.0 L1571.3,979.9 L1572.8,979.9 L1574.3,979.8 L1575.8,979.8 L1577.3,979.7 L1578.8,979.7 L1580.3,979.6 L1581.8,979.6 L1583.3,979.6 L1584.8,979.5 L1586.3,979.5 L1587.8,979.5 L1589.3,979.4 L1590.8,979.4 L1592.3,979.4 L1593.8,979.4 L1595.3,979.4 L1596.8,979.4 L1598.3,979.4 L1599.8,979.4 L1601.3,979.4 L1602.8,979.5 L1604.3,979.5 L1605.8,979.5 L1607.3,979.6 L1608.8,979.6 L1610.3,979.6 L1611.8,979.7 L1613.3,979.8 L1614.8,979.8 L1616.3,979.9 L1617.8,979.9 L1619.3,980.0 L1620.8,980.1 L1622.3,980.2 L1623.8,980.3 L1625.3,980.3 L1626.8,980.4 L1628.3,980.5 L1629.8,980.6 L1631.3,980.7 L1632.8,980.8 L1634.3,980.9 L1635.8,981.0 L1637.3,981.1 L1638.8,981.2 L1640.3,981.3 L1641.8,981.4 L1643.3,981.5 L1644.8,981.6 L1646.0,981.7" stroke="#b0b590" stroke-width="3.42"/>
<path class="c" d="M1139.3,953.6 L1140.8,953.3 L1142.3,953.1 L1143.8,952.9 L1145.3,952.8 L1146.8,952.7 L1148.3,952.6 L1149.8,952.6 L1151.3,952.6 L1152.8,952.7 L1154.3,952.8 L1155.8,953.0 L1157.3,953.1 L1158.8,953.3 L1160.3,953.6 L1161.8,953.8 L1163.3,954.1 L1164.8,954.5 L1166.3,954.8 L1167.8,955.2 L1169.3,955.6 L1170.8,956.0 L1172.3,956.5 L1173.8,956.9 L1175.3,957.4 L1176.8,957.9 L1178.3,958.5 L1179.8,959.0 L1181.3,959.5 L1182.8,960.1 L1184.3,960.7 L1185.8,961.3 L1187.3,961.9 L1188.8,962.5 L1190.3,963.1 L1191.8,963.7 L1193.3,964.3 L1194.8,964.9 L1196.3,965.6 L1197.8,966.2 L1199.3,966.8 L1200.8,967.4 L1202.3,968.1 L1203.8,968.7 L1205.3,969.3 L1206.8,969.9 L1208.3,970.5 L1209.8,971.1 L1211.3,971.6 L1212.8,972.2 L1214.3,972.7 L1215.8,973.3 L1217.3,973.8 L1218.8,974.3 L1220.3,974.7 L1221.8,975.2 L1223.3,975.6 L1224.8,976.1 L1226.3,976.5 L1227.8,976.8 L1229.3,977.2 L1230.8,977.5 L1232.3,977.9 L1233.8,978.2 L1235.3,978.4 L1236.8,978.7 L1238.3,978.9 L1239.8,979.2 L1241.3,979.4 L1242.8,979.6 L1244.3,979.7 L1245.8,979.9 L1247.3,980.0 L1248.8,980.1 L1250.3,980.2 L1251.8,980.2 L1253.3,980.3 L1254.8,980.3 L1256.3,980.3 L1257.8,980.3 L1259.3,980.3 L1260.8,980.2 L1262.3,980.2 L1263.8,980.1 L1265.3,980.0 L1266.8,979.8 L1268.3,979.7 L1269.8,979.5 L1271.3,979.2 L1272.8,978.8 L1274.3,978.2 L1275.8,977.5 L1277.3,976.6 L1278.8,975.4 L1280.3,974.0 L1281.8,972.3 L1283.3,970.4 L1284.8,968.3 L1286.3,965.9 L1287.8,963.2 L1289.3,960.5 L1290.8,957.8 L1292.3,955.2 L1293.8,952.7 L1295.3,950.5 L1296.8,948.6 L1298.3,947.1 L1299.8,946.1 L1301.3,945.6 L1302.8,945.5 L1304.3,945.8 L1305.8,946.5 L1307.3,947.4 L1308.8,948.5 L1310.3,949.7 L1311.8,950.8 L1313.3,951.8 L1314.8,952.6 L1316.3,953.1 L1317.8,953.3 L1319.3,953.4 L1320.8,953.3 L1322.3,953.1 L1323.8,953.0 L1325.3,953.0 L1326.8,953.0 L1328.3,953.1 L1329.8,953.2 L1331.3,953.4 L1332.8,953.6 L1334.3,953.9 L1335.8,954.2 L1337.3,954.6 L1338.8,955.0 L1340.3,955.4 L1341.8,955.9 L1343.3,956.4 L1344.8,956.9 L1346.3,957.5 L1347.8,958.1 L1349.3,958.7 L1350.8,959.3 L1352.3,960.0 L1353.8,960.6 L1355.3,961.3 L1356.8,961.9 L1358.3,962.6 L1359.8,963.3 L1361.3,963.9 L1362.8,964.6 L1364.3,965.3 L1365.8,965.9 L1367.3,966.6 L1368.8,967.2 L1370.3,967.9 L1371.8,968.5 L1373.3,969.1 L1374.8,969.7 L1376.3,970.3 L1377.8,970.9 L1379.3,971.4 L1380.8,971.9 L1382.3,972.4 L1383.8,972.9 L1385.3,973.4 L1386.8,973.8 L1388.3,974.2 L1389.8,974.6 L1391.3,975.0 L1392.8,975.4 L1394.3,975.7 L1395.8,976.0 L1397.3,976.3 L1398.8,976.6 L1400.3,976.8 L1401.8,977.1 L1403.3,977.3 L1404.8,977.5 L1406.3,977.7 L1407.8,977.8 L1409.3,978.0 L1410.8,978.1 L1412.3,978.3 L1413.8,978.4 L1415.3,978.5 L1416.8,978.6 L1418.3,978.6 L1419.8,978.7 L1421.3,978.8 L1422.8,978.8 L1424.3,978.8 L1425.8,978.9 L1427.3,978.9 L1428.8,978.9 L1430.3,978.9 L1431.8,978.9 L1433.3,978.9 L1434.8,978.8 L1436.3,978.8 L1437.8,978.8 L1439.3,978.7 L1440.8,978.7 L1442.3,978.7 L1443.8,978.6 L1445.3,978.6 L1446.8,978.5 L1448.3,978.5 L1449.8,978.4 L1451.3,978.4 L1452.8,978.3 L1454.3,978.3 L1455.8,978.2 L1457.3,978.2 L1458.8,978.1 L1460.3,978.1 L1461.8,978.0 L1463.3,977.9 L1464.8,977.9 L1466.3,977.8 L1467.8,977.8 L1469.3,977.7 L1470.8,977.6 L1472.3,977.5 L1473.8,977.4 L1475.3,977.3 L1476.8,977.2 L1478.3,977.1 L1479.8,977.0 L1481.3,976.9 L1482.8,976.7 L1484.3,976.6 L1485.8,976.4 L1487.3,976.3 L1488.8,976.1 L1490.3,975.9 L1491.8,975.7 L1493.3,975.5 L1494.8,975.2 L1496.3,975.0 L1497.8,974.7 L1499.3,974.5 L1500.8,974.2 L1502.3,973.9 L1503.8,973.5 L1505.3,973.2 L1506.8,972.8 L1508.3,972.5 L1509.8,972.1 L1511.3,971.7 L1512.8,971.3 L1514.3,970.9 L1515.8,970.5 L1517.3,970.1 L1518.8,969.8 L1520.3,969.4 L1521.8,969.0 L1523.3,968.7 L1524.8,968.3 L1526.3,968.0 L1527.8,967.7 L1529.3,967.5 L1530.8,967.2 L1532.3,967.0 L1533.8,966.8 L1535.3,966.7 L1536.8,966.6 L1538.3,966.5 L1539.8,966.5 L1541.3,966.5 L1542.8,966.5 L1544.3,966.6 L1545.8,966.8 L1547.3,967.0 L1548.8,967.2 L1550.3,967.4 L1551.8,967.7 L1553.3,968.0 L1554.8,968.3 L1556.3,968.7 L1557.8,969.0 L1559.3,969.4 L1560.8,969.9 L1562.3,970.3 L1563.8,970.7 L1565.3,971.2 L1566.8,971.7 L1568.3,972.2 L1569.8,972.7 L1571.3,973.2 L1572.8,973.7 L1574.3,974.2 L1575.8,974.7 L1577.3,975.2 L1578.8,975.7 L1580.3,976.2 L1581.8,976.7 L1583.3,977.2 L1584.8,977.7 L1586.3,978.2 L1587.8,978.6 L1589.3,979.0 L1590.8,979.4 L1592.3,979.8 L1593.8,980.2 L1595.3,980.6 L1596.8,980.9 L1598.3,981.3 L1599.8,981.6 L1601.3,981.9 L1602.8,982.2 L1604.3,982.4 L1605.8,982.7 L1607.3,983.0 L1608.8,983.2 L1610.3,983.4 L1611.8,983.7 L1613.3,983.9 L1614.8,984.1 L1616.3,984.3 L1617.8,984.5 L1619.3,984.7 L1620.8,984.9 L1622.3,985.1 L1623.8,985.3 L1625.3,985.5 L1626.8,985.6 L1628.3,985.8 L1629.8,986.0 L1631.3,986.1 L1632.8,986.3 L1634.3,986.5 L1635.8,986.6 L1637.3,986.7 L1638.8,986.9 L1640.3,987.0 L1641.8,987.1 L1643.3,987.2 L1644.8,987.3 L1646.0,987.3" stroke="#aee5ec" stroke-width="3.24"/>
<path class="c" d="M1139.3,744.3 L1140.8,743.6 L1142.3,742.6 L1143.8,741.5 L1145.3,740.3 L1146.8,739.1 L1148.3,738.0 L1149.8,737.2 L1151.3,736.7 L1152.8,736.7 L1154.3,737.1 L1155.8,738.0 L1157.3,739.3 L1158.8,741.0 L1160.3,742.9 L1161.8,745.1 L1163.3,747.5 L1164.8,750.0 L1166.3,752.6 L1167.8,755.3 L1169.3,757.9 L1170.8,760.4 L1172.3,762.9 L1173.8,765.1 L1175.3,767.1 L1176.8,768.9 L1178.3,770.3 L1179.8,771.3 L1181.3,772.0 L1182.8,772.2 L1184.3,772.2 L1185.8,772.1 L1187.3,771.9 L1188.8,771.7 L1190.3,771.5 L1191.8,771.4 L1193.3,771.1 L1194.8,770.7 L1196.3,770.0 L1197.8,769.0 L1199.3,767.8 L1200.8,766.5 L1202.3,765.1 L1203.8,763.9 L1205.3,762.8 L1206.8,762.0 L1208.3,761.4 L1209.8,761.2 L1211.3,761.2 L1212.8,761.7 L1214.3,762.5 L1215.8,763.7 L1217.3,765.3 L1218.8,767.4 L1220.3,769.9 L1221.8,772.7 L1223.3,775.8 L1224.8,779.2 L1226.3,782.8 L1227.8,786.5 L1229.3,790.4 L1230.8,794.4 L1232.3,798.3 L1233.8,802.3 L1235.3,806.2 L1236.8,810.0 L1238.3,813.8 L1239.8,817.4 L1241.3,821.1 L1242.8,824.7 L1244.3,828.3 L1245.8,831.9 L1247.3,835.5 L1248.8,839.0 L1250.3,842.6 L1251.8,846.1 L1253.3,849.5 L1254.8,852.8 L1256.3,856.1 L1257.8,859.2 L1259.3,862.1 L1260.8,865.0 L1262.3,867.6 L1263.8,870.0 L1265.3,872.3 L1266.8,874.3 L1268.3,876.0 L1269.8,877.5 L1271.3,878.7 L1272.8,879.6 L1274.3,880.2 L1275.8,880.5 L1277.3,880.4 L1278.8,879.9 L1280.3,879.0 L1281.8,877.4 L1283.3,874.8 L1284.8,871.0 L1286.3,866.3 L1287.8,860.8 L1289.3,854.5 L1290.8,847.8 L1292.3,840.8 L1293.8,833.5 L1295.3,825.9 L1296.8,818.3 L1298.3,810.5 L1299.8,802.8 L1301.3,795.0 L1302.8,787.3 L1304.3,779.6 L1305.8,771.9 L1307.3,764.4 L1308.8,757.0 L1310.3,749.7 L1311.8,742.7 L1313.3,735.8 L1314.8,729.2 L1316.3,722.8 L1317.8,716.7 L1319.3,710.9 L1320.8,705.4 L1322.3,700.3 L1323.8,695.6 L1325.3,691.3 L1326.8,687.4 L1328.3,683.9 L1329.8,680.6 L1331.3,677.7 L1332.8,675.1 L1334.3,672.8 L1335.8,670.7 L1337.3,668.9 L1338.8,667.3 L1340.3,665.9 L1341.8,664.6 L1343.3,663.6 L1344.8,662.6 L1346.3,661.8 L1347.8,661.0 L1349.3,660.4 L1350.8,659.9 L1352.3,659.4 L1353.8,659.1 L1355.3,658.9 L1356.8,658.8 L1358.3,658.8 L1359.8,659.0 L1361.3,659.3 L1362.8,659.8 L1364.3,660.4 L1365.8,661.2 L1367.3,662.1 L1368.8,663.1 L1370.3,664.3 L1371.8,665.5 L1373.3,666.8 L1374.8,668.1 L1376.3,669.4 L1377.8,670.8 L1379.3,672.1 L1380.8,673.4 L1382.3,674.8 L1383.8,676.1 L1385.3,677.5 L1386.8,678.9 L1388.3,680.2 L1389.8,681.6 L1391.3,683.1 L1392.8,684.5 L1394.3,686.0 L1395.8,687.5 L1397.3,689.0 L1398.8,690.6 L1400.3,692.2 L1401.8,693.8 L1403.3,695.4 L1404.8,697.1 L1406.3,698.7 L1407.8,700.4 L1409.3,702.1 L1410.8,703.7 L1412.3,705.4 L1413.8,707.1 L1415.3,708.8 L1416.8,710.5 L1418.3,712.2 L1419.8,713.9 L1421.3,715.6 L1422.8,717.3 L1424.3,719.0 L1425.8,720.7 L1427.3,722.3 L1428.8,724.0 L1430.3,725.6 L1431.8,727.2 L1433.3,728.7 L1434.8,730.3 L1436.3,731.8 L1437.8,733.3 L1439.3,734.8 L1440.8,736.2 L1442.3,737.7 L1443.8,739.0 L1445.3,740.4 L1446.8,741.7 L1448.3,742.9 L1449.8,744.1 L1451.3,745.3 L1452.8,746.4 L1454.3,747.5 L1455.8,748.6 L1457.3,749.6 L1458.8,750.5 L1460.3,751.4 L1461.8,752.3 L1463.3,753.1 L1464.8,753.9 L1466.3,754.6 L1467.8,755.2 L1469.3,755.8 L1470.8,756.4 L1472.3,756.8 L1473.8,757.2 L1475.3,757.5 L1476.8,757.6 L1478.3,757.6 L1479.8,757.5 L1481.3,757.2 L1482.8,756.7 L1484.3,756.1 L1485.8,755.2 L1487.3,754.2 L1488.8,752.9 L1490.3,751.4 L1491.8,749.7 L1493.3,747.8 L1494.8,745.7 L1496.3,743.4 L1497.8,740.9 L1499.3,738.2 L1500.8,735.3 L1502.3,732.2 L1503.8,728.8 L1505.3,725.3 L1506.8,721.6 L1508.3,717.6 L1509.8,713.5 L1511.3,709.2 L1512.8,704.6 L1514.3,699.9 L1515.8,694.9 L1517.3,689.8 L1518.8,684.6 L1520.3,679.3 L1521.8,673.8 L1523.3,668.3 L1524.8,662.8 L1526.3,657.2 L1527.8,651.7 L1529.3,646.2 L1530.8,640.8 L1532.3,635.4 L1533.8,630.2 L1535.3,625.0 L1536.8,620.1 L1538.3,615.3 L1539.8,610.7 L1541.3,606.4 L1542.8,602.3 L1544.3,598.5 L1545.8,595.0 L1547.3,591.9 L1548.8,589.1 L1550.3,586.6 L1551.8,584.6 L1553.3,583.0 L1554.8,581.7 L1556.3,580.9 L1557.8,580.4 L1559.3,580.3 L1560.8,580.7 L1562.3,581.4 L1563.8,582.5 L1565.3,584.0 L1566.8,585.9 L1568.3,588.1 L1569.8,590.7 L1571.3,593.7 L1572.8,597.0 L1574.3,600.7 L1575.8,604.5 L1577.3,608.6 L1578.8,613.0 L1580.3,617.5 L1581.8,622.1 L1583.3,626.9 L1584.8,631.9 L1586.3,636.9 L1587.8,641.9 L1589.3,647.0 L1590.8,652.2 L1592.3,657.3 L1593.8,662.3 L1595.3,667.3 L1596.8,672.2 L1598.3,677.0 L1599.8,681.7 L1601.3,686.3 L1602.8,690.8 L1604.3,695.3 L1605.8,699.6 L1607.3,703.8 L1608.8,707.9 L1610.3,712.0 L1611.8,716.0 L1613.3,719.8 L1614.8,723.7 L1616.3,727.4 L1617.8,731.1 L1619.3,734.7 L1620.8,738.3 L1622.3,741.8 L1623.8,745.2 L1625.3,748.6 L1626.8,751.8 L1628.3,755.1 L1629.8,758.2 L1631.3,761.3 L1632.8,764.4 L1634.3,767.3 L1635.8,770.3 L1637.3,773.1 L1638.8,775.9 L1640.3,778.6 L1641.8,781.2 L1643.3,783.8 L1644.8,786.4 L1646.0,788.3" stroke="#ff0000" stroke-width="3.6"/>
</g>
<text class="tk" transform="translate(118.6,500.9) scale(0.948,1)" text-anchor="end">0.0</text>
<text class="tk" transform="translate(118.6,416.8) scale(0.948,1)" text-anchor="end">0.2</text>
<text class="tk" transform="translate(118.6,332.7) scale(0.948,1)" text-anchor="end">0.4</text>
<text class="tk" transform="translate(118.6,248.7) scale(0.948,1)" text-anchor="end">0.6</text>
<text class="tk" transform="translate(118.6,164.6) scale(0.948,1)" text-anchor="end">0.8</text>
<text class="tk" transform="translate(118.6,80.5) scale(0.948,1)" text-anchor="end">1.0</text>
<text class="tk" transform="translate(118.6,1004.8) scale(0.948,1)" text-anchor="end">0.0</text>
<text class="tk" transform="translate(118.6,920.8) scale(0.948,1)" text-anchor="end">0.2</text>
<text class="tk" transform="translate(118.6,836.8) scale(0.948,1)" text-anchor="end">0.4</text>
<text class="tk" transform="translate(118.6,752.9) scale(0.948,1)" text-anchor="end">0.6</text>
<text class="tk" transform="translate(118.6,668.9) scale(0.948,1)" text-anchor="end">0.8</text>
<text class="tk" transform="translate(118.6,584.9) scale(0.948,1)" text-anchor="end">1.0</text>
<text class="tk" transform="translate(215.0,1080.4) scale(0.948,1)" text-anchor="middle">450</text>
<text class="tk" transform="translate(383.3,1080.4) scale(0.948,1)" text-anchor="middle">550</text>
<text class="tk" transform="translate(551.6,1080.4) scale(0.948,1)" text-anchor="middle">650</text>
<text class="tk" transform="translate(719.6,1080.4) scale(0.948,1)" text-anchor="middle">450</text>
<text class="tk" transform="translate(887.9,1080.4) scale(0.948,1)" text-anchor="middle">550</text>
<text class="tk" transform="translate(1056.2,1080.4) scale(0.948,1)" text-anchor="middle">650</text>
<text class="tk" transform="translate(1224.1,1080.4) scale(0.948,1)" text-anchor="middle">450</text>
<text class="tk" transform="translate(1392.4,1080.4) scale(0.948,1)" text-anchor="middle">550</text>
<text class="tk" transform="translate(1560.7,1080.4) scale(0.948,1)" text-anchor="middle">650</text>
<text class="ax" x="905.2" y="1138" text-anchor="middle">Wavelength (nm)</text>
<text class="ax" transform="translate(47.2,571.6) rotate(-90)" text-anchor="middle">Normalized Intensity (Arb. Units)</text>
<path d="M426.6,47.8H475.4" stroke="#0000ff" stroke-width="5.0" stroke-linecap="round" fill="none"/>
<text class="lg" x="512.1" y="62.5">Total</text>
<text class="sp" x="604.7" y="74.8">//</text>
<path d="M426.6,112.1H475.4" stroke="#ffc694" stroke-width="5.0" stroke-linecap="round" fill="none"/>
<text class="lg" x="512.1" y="127.1">ED</text>
<text class="sp" x="570.3" y="139.0">//</text>
<path d="M424.2,176.5H477.8" stroke="#c5b0d5" stroke-width="3.6" stroke-linecap="butt" fill="none"/>
<text class="lg" x="512.1" y="191.7">MD</text>
<text class="sp" x="583.1" y="203.2">//</text>
<path d="M424.2,240.8H477.8" stroke="#b0b590" stroke-width="3.6" stroke-linecap="butt" fill="none"/>
<text class="lg" x="512.1" y="256.3">EQ</text>
<text class="sp" x="570.5" y="267.4">//</text>
<path d="M424.2,305.2H477.8" stroke="#aee5ec" stroke-width="3.6" stroke-linecap="butt" fill="none"/>
<text class="lg" x="512.1" y="320.9">MQ</text>
<text class="sp" x="583.1" y="331.6">//</text>
<path d="M424.3,556.7H477.5" stroke="#0000ff" stroke-width="4.0" stroke-linecap="butt" fill="none"/>
<text class="lg" x="512.1" y="572.0">Total</text>
<text class="sq" transform="translate(602.0,585.5) scale(1,1.14)">⊥</text>
<path d="M424.3,620.9H477.5" stroke="#ffc694" stroke-width="3.4" stroke-linecap="butt" fill="none"/>
<text class="lg" x="512.1" y="636.1">ED</text>
<text class="sq" transform="translate(567.2,649.8) scale(1,1.14)">⊥</text>
<path d="M424.3,685.2H477.5" stroke="#c5b0d5" stroke-width="3.4" stroke-linecap="butt" fill="none"/>
<text class="lg" x="512.1" y="700.2">MD</text>
<text class="sq" transform="translate(579.5,714.1) scale(1,1.14)">⊥</text>
<path d="M424.3,749.4H477.5" stroke="#b0b590" stroke-width="3.4" stroke-linecap="butt" fill="none"/>
<text class="lg" x="512.1" y="764.3">EQ</text>
<text class="sq" transform="translate(567.3,778.4) scale(1,1.14)">⊥</text>
<path d="M424.3,813.6H477.5" stroke="#aee5ec" stroke-width="3.4" stroke-linecap="butt" fill="none"/>
<text class="lg" x="512.1" y="828.4">MQ</text>
<text class="sq" transform="translate(579.5,842.7) scale(1,1.14)">⊥</text>
<path d="M937.2,47.9H987.0" stroke="#99dc9c" stroke-width="4.6" stroke-linecap="round" fill="none"/>
<text class="lg" x="1023.9" y="62.6">Total</text>
<text class="sp" x="1116.9" y="75.0">//</text>
<path d="M1437.9,47.9H1486.8" stroke="#ff0000" stroke-width="4.6" stroke-linecap="round" fill="none"/>
<text class="lg" x="1523.7" y="62.6">Total</text>
<text class="sp" x="1617.6" y="75.0">//</text>
<path d="M927.7,556.7H980.6" stroke="#99dc9c" stroke-width="3.2" stroke-linecap="butt" fill="none"/>
<text class="lg" x="1015.1" y="572.0">Total</text>
<text class="sq" transform="translate(1105.0,586.1) scale(1,1.14)">⊥</text>
<path d="M1430.8,556.7H1484.2" stroke="#ff0000" stroke-width="3.8" stroke-linecap="butt" fill="none"/>
<text class="lg" x="1519.0" y="572.0">Total</text>
<text class="sq" transform="translate(1607.9,586.1) scale(1,1.14)">⊥</text>
</svg></body></html>
